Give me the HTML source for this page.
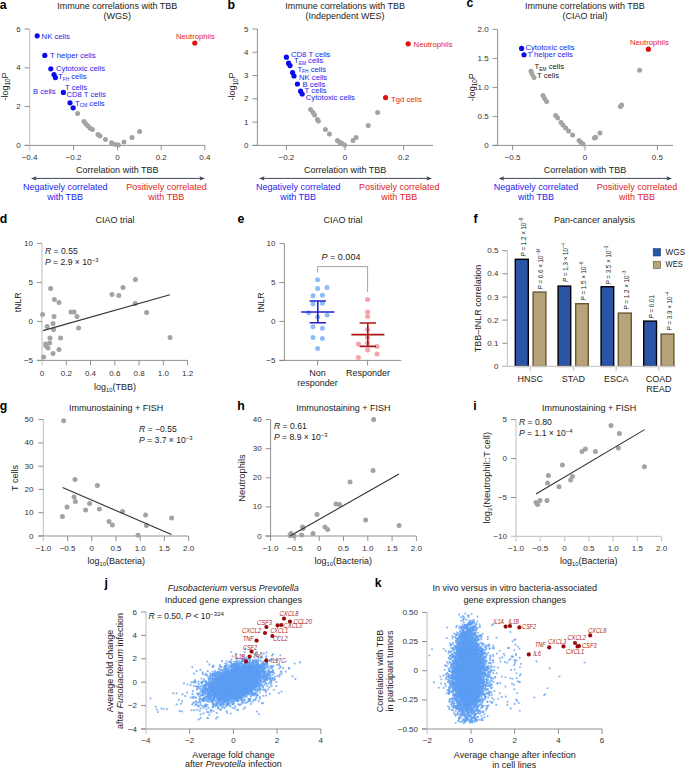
<!DOCTYPE html>
<html><head><meta charset="utf-8"><style>
html,body{margin:0;padding:0;background:#fff;width:685px;height:768px;overflow:hidden}
svg{display:block}
text{font-family:"Liberation Sans",sans-serif}
</style></head><body>
<svg width="685" height="768" viewBox="0 0 685 768">
<rect width="685" height="768" fill="#fff"/>
<text x="-0.3" y="9.3" font-size="12.3" font-weight="bold" fill="#000">a</text>
<text x="117.3" y="9.0" font-size="9" text-anchor="middle" fill="#222" >Immune correlations with TBB</text>
<text x="117.3" y="19.0" font-size="9" text-anchor="middle" fill="#222" >(WGS)</text>
<line x1="29.6" y1="29.0" x2="29.6" y2="145.4" stroke="#cbcbcb" stroke-width="1.25"/>
<line x1="24.6" y1="29.0" x2="29.6" y2="29.0" stroke="#858585" stroke-width="0.9"/>
<text x="20.6" y="31.5" font-size="8" text-anchor="end" fill="#333" >6</text>
<line x1="24.6" y1="67.8" x2="29.6" y2="67.8" stroke="#858585" stroke-width="0.9"/>
<text x="20.6" y="70.3" font-size="8" text-anchor="end" fill="#333" >4</text>
<line x1="24.6" y1="106.6" x2="29.6" y2="106.6" stroke="#858585" stroke-width="0.9"/>
<text x="20.6" y="109.1" font-size="8" text-anchor="end" fill="#333" >2</text>
<line x1="24.6" y1="145.4" x2="29.6" y2="145.4" stroke="#858585" stroke-width="0.9"/>
<text x="20.6" y="147.9" font-size="8" text-anchor="end" fill="#333" >0</text>
<line x1="24.6" y1="145.4" x2="205.0" y2="145.4" stroke="#858585" stroke-width="0.9"/>
<line x1="29.6" y1="145.4" x2="29.6" y2="150.4" stroke="#cbcbcb" stroke-width="1.25"/>
<text x="29.6" y="160.0" font-size="8" text-anchor="middle" fill="#333" >−0.4</text>
<line x1="73.6" y1="145.4" x2="73.6" y2="150.4" stroke="#858585" stroke-width="0.9"/>
<text x="73.6" y="160.0" font-size="8" text-anchor="middle" fill="#333" >−0.2</text>
<line x1="117.6" y1="145.4" x2="117.6" y2="150.4" stroke="#858585" stroke-width="0.9"/>
<text x="117.6" y="160.0" font-size="8" text-anchor="middle" fill="#333" >0</text>
<line x1="161.2" y1="145.4" x2="161.2" y2="150.4" stroke="#858585" stroke-width="0.9"/>
<text x="161.2" y="160.0" font-size="8" text-anchor="middle" fill="#333" >0.2</text>
<line x1="204.8" y1="145.4" x2="204.8" y2="150.4" stroke="#858585" stroke-width="0.9"/>
<text x="204.8" y="160.0" font-size="8" text-anchor="middle" fill="#333" >0.4</text>
<text transform="translate(7.8,86.5) rotate(-90)" font-size="9" text-anchor="middle" fill="#222">-log<tspan dy="2.2" font-size="6.3">10</tspan><tspan dy="-2.2">P</tspan></text>
<text x="117.3" y="173.0" font-size="9" text-anchor="middle" fill="#222" >Correlation with TBB</text>
<line x1="35" y1="178.4" x2="201" y2="178.4" stroke="#3b4658" stroke-width="1"/>
<path d="M31,178.4 L36.5,176.20000000000002 L35.5,178.4 L36.5,180.6Z" fill="#3b4658"/>
<path d="M205,178.4 L199.5,176.20000000000002 L200.5,178.4 L199.5,180.6Z" fill="#3b4658"/>
<text x="65.2" y="190.0" font-size="9" text-anchor="middle" fill="#1c1cec" >Negatively correlated</text>
<text x="65.2" y="200.0" font-size="9" text-anchor="middle" fill="#1c1cec" >with TBB</text>
<text x="166.6" y="190.0" font-size="9" text-anchor="middle" fill="#e02525" >Positively correlated</text>
<text x="166.3" y="200.0" font-size="9" text-anchor="middle" fill="#e02525" >with TBB</text>
<circle cx="77.6" cy="113.6" r="2.5" fill="#a3a3a3"/>
<circle cx="84.0" cy="121.4" r="2.5" fill="#a3a3a3"/>
<circle cx="86.0" cy="124.0" r="2.5" fill="#a3a3a3"/>
<circle cx="88.0" cy="126.0" r="2.5" fill="#a3a3a3"/>
<circle cx="90.0" cy="128.0" r="2.5" fill="#a3a3a3"/>
<circle cx="92.4" cy="129.6" r="2.5" fill="#a3a3a3"/>
<circle cx="98.0" cy="134.4" r="2.5" fill="#a3a3a3"/>
<circle cx="100.0" cy="136.0" r="2.5" fill="#a3a3a3"/>
<circle cx="105.4" cy="139.6" r="2.5" fill="#a3a3a3"/>
<circle cx="111.6" cy="142.8" r="2.5" fill="#a3a3a3"/>
<circle cx="115.6" cy="144.4" r="2.5" fill="#a3a3a3"/>
<circle cx="118.4" cy="145.0" r="2.5" fill="#a3a3a3"/>
<circle cx="124.0" cy="142.0" r="2.5" fill="#a3a3a3"/>
<circle cx="132.0" cy="137.6" r="2.5" fill="#a3a3a3"/>
<circle cx="139.6" cy="131.4" r="2.5" fill="#a3a3a3"/>
<circle cx="37.2" cy="35.8" r="2.6" fill="#0a0aee"/>
<circle cx="44.8" cy="55.4" r="2.6" fill="#0a0aee"/>
<circle cx="50.8" cy="68.8" r="2.6" fill="#0a0aee"/>
<circle cx="54.0" cy="74.6" r="2.6" fill="#0a0aee"/>
<circle cx="55.4" cy="77.6" r="2.6" fill="#0a0aee"/>
<circle cx="63.4" cy="92.4" r="2.6" fill="#0a0aee"/>
<circle cx="70.0" cy="102.8" r="2.6" fill="#0a0aee"/>
<circle cx="73.2" cy="107.8" r="2.6" fill="#0a0aee"/>
<circle cx="194.8" cy="43.0" r="2.6" fill="#e01010"/>
<text x="41.6" y="38.6" font-size="7.7" text-anchor="start" fill="#1c1cec" >NK cells</text>
<text x="50.0" y="58.2" font-size="7.7" text-anchor="start" fill="#1c1cec" >T helper cells</text>
<text x="56.0" y="71.2" font-size="7.7" text-anchor="start" fill="#1c1cec" >Cytotoxic cells</text>
<text x="58" y="79" font-size="7.7" fill="#1c1cec">T<tspan dy="1.8" font-size="4.8">FH</tspan><tspan dy="-1.8"> cells</tspan></text>
<text x="65.0" y="90.2" font-size="7.7" text-anchor="start" fill="#1c1cec" >T cells</text>
<text x="66.4" y="97.2" font-size="7.7" text-anchor="start" fill="#1c1cec" >CD8 T cells</text>
<text x="33.0" y="94.4" font-size="7.7" text-anchor="start" fill="#1c1cec" >B cells</text>
<text x="75" y="105.6" font-size="7.7" fill="#1c1cec">T<tspan dy="1.8" font-size="4.8">CM</tspan><tspan dy="-1.8"> cells</tspan></text>
<text x="176.0" y="38.8" font-size="7.7" text-anchor="start" fill="#e02525" >Neutrophils</text>
<text x="227.6" y="9.4" font-size="12.3" font-weight="bold" fill="#000">b</text>
<text x="345.1" y="9.0" font-size="9" text-anchor="middle" fill="#222" >Immune correlations with TBB</text>
<text x="345.1" y="19.0" font-size="9" text-anchor="middle" fill="#222" >(Independent WES)</text>
<line x1="257.4" y1="29.0" x2="257.4" y2="145.4" stroke="#858585" stroke-width="0.9"/>
<line x1="252.4" y1="29.0" x2="257.4" y2="29.0" stroke="#858585" stroke-width="0.9"/>
<text x="248.4" y="31.5" font-size="8" text-anchor="end" fill="#333" >5</text>
<line x1="252.4" y1="52.3" x2="257.4" y2="52.3" stroke="#858585" stroke-width="0.9"/>
<text x="248.4" y="54.8" font-size="8" text-anchor="end" fill="#333" >4</text>
<line x1="252.4" y1="75.6" x2="257.4" y2="75.6" stroke="#858585" stroke-width="0.9"/>
<text x="248.4" y="78.1" font-size="8" text-anchor="end" fill="#333" >3</text>
<line x1="252.4" y1="98.8" x2="257.4" y2="98.8" stroke="#858585" stroke-width="0.9"/>
<text x="248.4" y="101.3" font-size="8" text-anchor="end" fill="#333" >2</text>
<line x1="252.4" y1="122.1" x2="257.4" y2="122.1" stroke="#858585" stroke-width="0.9"/>
<text x="248.4" y="124.6" font-size="8" text-anchor="end" fill="#333" >1</text>
<line x1="252.4" y1="145.4" x2="257.4" y2="145.4" stroke="#858585" stroke-width="0.9"/>
<text x="248.4" y="147.9" font-size="8" text-anchor="end" fill="#333" >0</text>
<line x1="252.4" y1="145.4" x2="433.0" y2="145.4" stroke="#858585" stroke-width="0.9"/>
<line x1="286.4" y1="145.4" x2="286.4" y2="150.4" stroke="#858585" stroke-width="0.9"/>
<text x="286.4" y="160.0" font-size="8" text-anchor="middle" fill="#333" >−0.2</text>
<line x1="345.0" y1="145.4" x2="345.0" y2="150.4" stroke="#858585" stroke-width="0.9"/>
<text x="345.0" y="160.0" font-size="8" text-anchor="middle" fill="#333" >0</text>
<line x1="403.6" y1="145.4" x2="403.6" y2="150.4" stroke="#858585" stroke-width="0.9"/>
<text x="403.6" y="160.0" font-size="8" text-anchor="middle" fill="#333" >0.2</text>
<text transform="translate(235.4,86.5) rotate(-90)" font-size="9" text-anchor="middle" fill="#222">-log<tspan dy="2.2" font-size="6.3">10</tspan><tspan dy="-2.2">P</tspan></text>
<text x="345.1" y="173.0" font-size="9" text-anchor="middle" fill="#222" >Correlation with TBB</text>
<line x1="263" y1="178.4" x2="428" y2="178.4" stroke="#3b4658" stroke-width="1"/>
<path d="M259,178.4 L264.5,176.20000000000002 L263.5,178.4 L264.5,180.6Z" fill="#3b4658"/>
<path d="M432,178.4 L426.5,176.20000000000002 L427.5,178.4 L426.5,180.6Z" fill="#3b4658"/>
<text x="298.2" y="190.0" font-size="9" text-anchor="middle" fill="#1c1cec" >Negatively correlated</text>
<text x="298.2" y="200.0" font-size="9" text-anchor="middle" fill="#1c1cec" >with TBB</text>
<text x="399.3" y="190.0" font-size="9" text-anchor="middle" fill="#e02525" >Positively correlated</text>
<text x="399.3" y="200.0" font-size="9" text-anchor="middle" fill="#e02525" >with TBB</text>
<circle cx="310.6" cy="109.4" r="2.5" fill="#a3a3a3"/>
<circle cx="313.0" cy="112.4" r="2.5" fill="#a3a3a3"/>
<circle cx="314.6" cy="115.0" r="2.5" fill="#a3a3a3"/>
<circle cx="317.4" cy="119.6" r="2.5" fill="#a3a3a3"/>
<circle cx="318.4" cy="121.0" r="2.5" fill="#a3a3a3"/>
<circle cx="325.4" cy="129.4" r="2.5" fill="#a3a3a3"/>
<circle cx="329.4" cy="134.0" r="2.5" fill="#a3a3a3"/>
<circle cx="337.4" cy="140.6" r="2.5" fill="#a3a3a3"/>
<circle cx="339.4" cy="142.0" r="2.5" fill="#a3a3a3"/>
<circle cx="342.0" cy="143.6" r="2.5" fill="#a3a3a3"/>
<circle cx="344.6" cy="145.0" r="2.5" fill="#a3a3a3"/>
<circle cx="353.0" cy="140.4" r="2.5" fill="#a3a3a3"/>
<circle cx="356.2" cy="137.6" r="2.5" fill="#a3a3a3"/>
<circle cx="377.6" cy="112.4" r="2.5" fill="#a3a3a3"/>
<circle cx="368.2" cy="125.4" r="2.5" fill="#a3a3a3"/>
<circle cx="340.5" cy="142.8" r="2.5" fill="#a3a3a3"/>
<circle cx="286.4" cy="57.2" r="2.6" fill="#0a0aee"/>
<circle cx="288.6" cy="63.2" r="2.6" fill="#0a0aee"/>
<circle cx="290.0" cy="65.6" r="2.6" fill="#0a0aee"/>
<circle cx="292.6" cy="72.6" r="2.6" fill="#0a0aee"/>
<circle cx="294.0" cy="76.0" r="2.6" fill="#0a0aee"/>
<circle cx="297.4" cy="84.0" r="2.6" fill="#0a0aee"/>
<circle cx="300.6" cy="91.2" r="2.6" fill="#0a0aee"/>
<circle cx="302.2" cy="94.0" r="2.6" fill="#0a0aee"/>
<circle cx="408.2" cy="43.8" r="2.6" fill="#e01010"/>
<circle cx="385.6" cy="97.6" r="2.6" fill="#e01010"/>
<text x="291.0" y="57.0" font-size="7.7" text-anchor="start" fill="#1c1cec" >CD8 T cells</text>
<text x="294" y="63" font-size="7.7" fill="#1c1cec">T<tspan dy="1.8" font-size="4.8">EM</tspan><tspan dy="-1.8"> cells</tspan></text>
<text x="297.4" y="71.6" font-size="7.7" fill="#1c1cec">T<tspan dy="1.8" font-size="4.8">FH</tspan><tspan dy="-1.8"> cells</tspan></text>
<text x="299.0" y="80.0" font-size="7.7" text-anchor="start" fill="#1c1cec" >NK cells</text>
<text x="302.6" y="86.6" font-size="7.7" text-anchor="start" fill="#1c1cec" >B cells</text>
<text x="304.6" y="93.0" font-size="7.7" text-anchor="start" fill="#1c1cec" >T cells</text>
<text x="305.8" y="99.6" font-size="7.7" text-anchor="start" fill="#1c1cec" >Cytotoxic cells</text>
<text x="413.6" y="46.6" font-size="7.7" text-anchor="start" fill="#e02525" >Neutrophils</text>
<text x="391.0" y="101.8" font-size="7.7" text-anchor="start" fill="#e02525" >Tgd cells</text>
<text x="466.6" y="6.9" font-size="12.3" font-weight="bold" fill="#000">c</text>
<text x="584.9" y="9.0" font-size="9" text-anchor="middle" fill="#222" >Immune correlations with TBB</text>
<text x="584.9" y="19.0" font-size="9" text-anchor="middle" fill="#222" >(CIAO trial)</text>
<line x1="497.6" y1="29.4" x2="497.6" y2="145.4" stroke="#858585" stroke-width="0.9"/>
<line x1="492.6" y1="29.4" x2="497.6" y2="29.4" stroke="#858585" stroke-width="0.9"/>
<text x="488.6" y="31.9" font-size="8" text-anchor="end" fill="#333" >2.0</text>
<line x1="492.6" y1="58.4" x2="497.6" y2="58.4" stroke="#858585" stroke-width="0.9"/>
<text x="488.6" y="60.9" font-size="8" text-anchor="end" fill="#333" >1.5</text>
<line x1="492.6" y1="87.4" x2="497.6" y2="87.4" stroke="#858585" stroke-width="0.9"/>
<text x="488.6" y="89.9" font-size="8" text-anchor="end" fill="#333" >1.0</text>
<line x1="492.6" y1="116.4" x2="497.6" y2="116.4" stroke="#858585" stroke-width="0.9"/>
<text x="488.6" y="118.9" font-size="8" text-anchor="end" fill="#333" >0.5</text>
<line x1="492.6" y1="145.4" x2="497.6" y2="145.4" stroke="#858585" stroke-width="0.9"/>
<text x="488.6" y="147.9" font-size="8" text-anchor="end" fill="#333" >0</text>
<line x1="492.6" y1="145.4" x2="673.0" y2="145.4" stroke="#858585" stroke-width="0.9"/>
<line x1="512.6" y1="145.4" x2="512.6" y2="150.4" stroke="#858585" stroke-width="0.9"/>
<text x="512.6" y="160.0" font-size="8" text-anchor="middle" fill="#333" >−0.5</text>
<line x1="585.0" y1="145.4" x2="585.0" y2="150.4" stroke="#858585" stroke-width="0.9"/>
<text x="585.0" y="160.0" font-size="8" text-anchor="middle" fill="#333" >0</text>
<line x1="657.4" y1="145.4" x2="657.4" y2="150.4" stroke="#858585" stroke-width="0.9"/>
<text x="657.4" y="160.0" font-size="8" text-anchor="middle" fill="#333" >0.5</text>
<text transform="translate(474.6,87.3) rotate(-90)" font-size="9" text-anchor="middle" fill="#222">-log<tspan dy="2.2" font-size="6.3">10</tspan><tspan dy="-2.2">P</tspan></text>
<text x="585.0" y="173.0" font-size="9" text-anchor="middle" fill="#222" >Correlation with TBB</text>
<line x1="502.6" y1="178.4" x2="668" y2="178.4" stroke="#3b4658" stroke-width="1"/>
<path d="M498.6,178.4 L504.1,176.20000000000002 L503.1,178.4 L504.1,180.6Z" fill="#3b4658"/>
<path d="M672,178.4 L666.5,176.20000000000002 L667.5,178.4 L666.5,180.6Z" fill="#3b4658"/>
<text x="536.0" y="190.0" font-size="9" text-anchor="middle" fill="#1c1cec" >Negatively correlated</text>
<text x="536.0" y="200.0" font-size="9" text-anchor="middle" fill="#1c1cec" >with TBB</text>
<text x="637.0" y="190.0" font-size="9" text-anchor="middle" fill="#e02525" >Positively correlated</text>
<text x="637.0" y="200.0" font-size="9" text-anchor="middle" fill="#e02525" >with TBB</text>
<circle cx="531.0" cy="71.2" r="2.5" fill="#a3a3a3"/>
<circle cx="532.0" cy="74.0" r="2.5" fill="#a3a3a3"/>
<circle cx="534.0" cy="77.6" r="2.5" fill="#a3a3a3"/>
<circle cx="543.0" cy="95.6" r="2.5" fill="#a3a3a3"/>
<circle cx="544.6" cy="98.4" r="2.5" fill="#a3a3a3"/>
<circle cx="546.6" cy="101.6" r="2.5" fill="#a3a3a3"/>
<circle cx="555.6" cy="115.4" r="2.5" fill="#a3a3a3"/>
<circle cx="557.6" cy="118.0" r="2.5" fill="#a3a3a3"/>
<circle cx="561.0" cy="122.4" r="2.5" fill="#a3a3a3"/>
<circle cx="563.0" cy="125.0" r="2.5" fill="#a3a3a3"/>
<circle cx="565.6" cy="128.0" r="2.5" fill="#a3a3a3"/>
<circle cx="568.6" cy="131.0" r="2.5" fill="#a3a3a3"/>
<circle cx="572.6" cy="135.0" r="2.5" fill="#a3a3a3"/>
<circle cx="579.0" cy="140.6" r="2.5" fill="#a3a3a3"/>
<circle cx="581.0" cy="142.4" r="2.5" fill="#a3a3a3"/>
<circle cx="583.0" cy="144.0" r="2.5" fill="#a3a3a3"/>
<circle cx="639.6" cy="70.2" r="2.5" fill="#a3a3a3"/>
<circle cx="620.4" cy="106.4" r="2.5" fill="#a3a3a3"/>
<circle cx="621.6" cy="105.0" r="2.5" fill="#a3a3a3"/>
<circle cx="600.0" cy="133.0" r="2.5" fill="#a3a3a3"/>
<circle cx="595.6" cy="137.2" r="2.5" fill="#a3a3a3"/>
<circle cx="594.4" cy="138.0" r="2.5" fill="#a3a3a3"/>
<circle cx="521.6" cy="48.4" r="2.6" fill="#0a0aee"/>
<circle cx="524.0" cy="54.8" r="2.6" fill="#0a0aee"/>
<circle cx="648.4" cy="49.2" r="2.6" fill="#e01010"/>
<text x="525.4" y="50.2" font-size="7.7" text-anchor="start" fill="#1c1cec" >Cytotoxic cells</text>
<text x="527.4" y="57.2" font-size="7.7" text-anchor="start" fill="#1c1cec" >T helper cells</text>
<text x="534.6" y="69" font-size="7.7" fill="#222">T<tspan dy="1.8" font-size="4.8">EM</tspan><tspan dy="-1.8"> cells</tspan></text>
<text x="537.0" y="77.6" font-size="7.7" text-anchor="start" fill="#222" >T cells</text>
<text x="630.0" y="45.0" font-size="7.7" text-anchor="start" fill="#e02525" >Neutrophils</text>
<text x="-0.3" y="222.5" font-size="12.3" font-weight="bold" fill="#000">d</text>
<text x="115.0" y="223.4" font-size="9" text-anchor="middle" fill="#222" >CIAO trial</text>
<line x1="42.0" y1="243.4" x2="42.0" y2="360.4" stroke="#cbcbcb" stroke-width="1.25"/>
<line x1="37.0" y1="243.4" x2="42.0" y2="243.4" stroke="#858585" stroke-width="0.9"/>
<text x="33.0" y="245.9" font-size="8" text-anchor="end" fill="#333" >10</text>
<line x1="37.0" y1="282.4" x2="42.0" y2="282.4" stroke="#858585" stroke-width="0.9"/>
<text x="33.0" y="284.9" font-size="8" text-anchor="end" fill="#333" >5</text>
<line x1="37.0" y1="321.4" x2="42.0" y2="321.4" stroke="#858585" stroke-width="0.9"/>
<text x="33.0" y="323.9" font-size="8" text-anchor="end" fill="#333" >0</text>
<line x1="37.0" y1="360.4" x2="42.0" y2="360.4" stroke="#858585" stroke-width="0.9"/>
<text x="33.0" y="362.9" font-size="8" text-anchor="end" fill="#333" >−5</text>
<line x1="37.0" y1="360.4" x2="187.6" y2="360.4" stroke="#858585" stroke-width="0.9"/>
<line x1="42.0" y1="360.4" x2="42.0" y2="365.4" stroke="#cbcbcb" stroke-width="1.25"/>
<text x="42.0" y="375.6" font-size="8" text-anchor="middle" fill="#333" >0</text>
<line x1="66.3" y1="360.4" x2="66.3" y2="365.4" stroke="#858585" stroke-width="0.9"/>
<text x="66.3" y="375.6" font-size="8" text-anchor="middle" fill="#333" >0.2</text>
<line x1="90.5" y1="360.4" x2="90.5" y2="365.4" stroke="#858585" stroke-width="0.9"/>
<text x="90.5" y="375.6" font-size="8" text-anchor="middle" fill="#333" >0.4</text>
<line x1="114.8" y1="360.4" x2="114.8" y2="365.4" stroke="#858585" stroke-width="0.9"/>
<text x="114.8" y="375.6" font-size="8" text-anchor="middle" fill="#333" >0.6</text>
<line x1="139.1" y1="360.4" x2="139.1" y2="365.4" stroke="#858585" stroke-width="0.9"/>
<text x="139.1" y="375.6" font-size="8" text-anchor="middle" fill="#333" >0.8</text>
<line x1="163.3" y1="360.4" x2="163.3" y2="365.4" stroke="#858585" stroke-width="0.9"/>
<text x="163.3" y="375.6" font-size="8" text-anchor="middle" fill="#333" >1.0</text>
<line x1="187.6" y1="360.4" x2="187.6" y2="365.4" stroke="#858585" stroke-width="0.9"/>
<text x="187.6" y="375.6" font-size="8" text-anchor="middle" fill="#333" >1.2</text>
<text transform="translate(21.1,302.3) rotate(-90)" font-size="8.7" text-anchor="middle" fill="#222">tNLR</text>
<text x="115" y="390" font-size="9" text-anchor="middle" fill="#222">log<tspan dy="2" font-size="5.8">10</tspan><tspan dy="-2">(TBB)</tspan></text>
<text x="45" y="253.6" font-size="8.6" fill="#222"><tspan font-style="italic">R</tspan> = 0.55</text>
<text x="45" y="264.6" font-size="8.6" fill="#222"><tspan font-style="italic">P</tspan> = 2.9 × 10<tspan dy="-3" font-size="5.8">−3</tspan></text>
<circle cx="42.6" cy="314.4" r="2.5" fill="#a3a3a3"/>
<circle cx="50.6" cy="288.4" r="2.5" fill="#a3a3a3"/>
<circle cx="54.4" cy="299.6" r="2.5" fill="#a3a3a3"/>
<circle cx="59.0" cy="302.4" r="2.5" fill="#a3a3a3"/>
<circle cx="54.0" cy="316.6" r="2.5" fill="#a3a3a3"/>
<circle cx="47.2" cy="326.4" r="2.5" fill="#a3a3a3"/>
<circle cx="53.0" cy="323.4" r="2.5" fill="#a3a3a3"/>
<circle cx="53.6" cy="329.6" r="2.5" fill="#a3a3a3"/>
<circle cx="50.0" cy="338.0" r="2.5" fill="#a3a3a3"/>
<circle cx="60.6" cy="338.0" r="2.5" fill="#a3a3a3"/>
<circle cx="49.6" cy="343.0" r="2.5" fill="#a3a3a3"/>
<circle cx="45.6" cy="344.0" r="2.5" fill="#a3a3a3"/>
<circle cx="48.0" cy="348.0" r="2.5" fill="#a3a3a3"/>
<circle cx="46.0" cy="346.0" r="2.5" fill="#a3a3a3"/>
<circle cx="53.0" cy="353.6" r="2.5" fill="#a3a3a3"/>
<circle cx="59.0" cy="349.6" r="2.5" fill="#a3a3a3"/>
<circle cx="43.6" cy="357.0" r="2.5" fill="#a3a3a3"/>
<circle cx="71.0" cy="312.0" r="2.5" fill="#a3a3a3"/>
<circle cx="74.0" cy="312.0" r="2.5" fill="#a3a3a3"/>
<circle cx="77.0" cy="316.4" r="2.5" fill="#a3a3a3"/>
<circle cx="78.6" cy="328.0" r="2.5" fill="#a3a3a3"/>
<circle cx="112.0" cy="294.4" r="2.5" fill="#a3a3a3"/>
<circle cx="118.8" cy="295.4" r="2.5" fill="#a3a3a3"/>
<circle cx="123.0" cy="287.4" r="2.5" fill="#a3a3a3"/>
<circle cx="135.4" cy="279.6" r="2.5" fill="#a3a3a3"/>
<circle cx="135.2" cy="303.6" r="2.5" fill="#a3a3a3"/>
<circle cx="146.6" cy="312.6" r="2.5" fill="#a3a3a3"/>
<circle cx="170.0" cy="337.4" r="2.5" fill="#a3a3a3"/>
<line x1="43.0" y1="330.6" x2="170.0" y2="294.8" stroke="#333" stroke-width="1.1"/>
<text x="237.6" y="222.5" font-size="12.3" font-weight="bold" fill="#000">e</text>
<text x="343.1" y="223.4" font-size="9" text-anchor="middle" fill="#222" >CIAO trial</text>
<line x1="284.4" y1="243.6" x2="284.4" y2="360.4" stroke="#858585" stroke-width="0.9"/>
<line x1="279.4" y1="243.6" x2="284.4" y2="243.6" stroke="#858585" stroke-width="0.9"/>
<text x="275.4" y="246.1" font-size="8" text-anchor="end" fill="#333" >10</text>
<line x1="279.4" y1="282.6" x2="284.4" y2="282.6" stroke="#858585" stroke-width="0.9"/>
<text x="275.4" y="285.1" font-size="8" text-anchor="end" fill="#333" >5</text>
<line x1="279.4" y1="321.4" x2="284.4" y2="321.4" stroke="#858585" stroke-width="0.9"/>
<text x="275.4" y="323.9" font-size="8" text-anchor="end" fill="#333" >0</text>
<line x1="279.4" y1="360.4" x2="284.4" y2="360.4" stroke="#858585" stroke-width="0.9"/>
<text x="275.4" y="362.9" font-size="8" text-anchor="end" fill="#333" >−5</text>
<line x1="279.4" y1="360.4" x2="401.4" y2="360.4" stroke="#858585" stroke-width="0.9"/>
<line x1="317.6" y1="360.4" x2="317.6" y2="365.4" stroke="#858585" stroke-width="0.9"/>
<line x1="367.6" y1="360.4" x2="367.6" y2="365.4" stroke="#858585" stroke-width="0.9"/>
<text transform="translate(264.0,302.3) rotate(-90)" font-size="8.7" text-anchor="middle" fill="#222">tNLR</text>
<path d="M317.6,272.4 V266.6 H367.6 V292" fill="none" stroke="#8a8a8a" stroke-width="0.8"/>
<text x="341" y="260" font-size="9" text-anchor="middle" fill="#222"><tspan font-style="italic">P</tspan> = 0.004</text>
<text x="317.6" y="376.0" font-size="9" text-anchor="middle" fill="#222" >Non</text>
<text x="317.6" y="385.8" font-size="9" text-anchor="middle" fill="#222" >responder</text>
<text x="368.0" y="376.0" font-size="9" text-anchor="middle" fill="#222" >Responder</text>
<circle cx="317.6" cy="279.8" r="2.5" fill="#8cbdf7"/>
<circle cx="317.6" cy="288.4" r="2.5" fill="#8cbdf7"/>
<circle cx="327.0" cy="287.6" r="2.5" fill="#8cbdf7"/>
<circle cx="313.0" cy="295.7" r="2.5" fill="#8cbdf7"/>
<circle cx="322.4" cy="295.3" r="2.5" fill="#8cbdf7"/>
<circle cx="313.0" cy="304.0" r="2.5" fill="#8cbdf7"/>
<circle cx="322.4" cy="303.2" r="2.5" fill="#8cbdf7"/>
<circle cx="308.6" cy="312.8" r="2.5" fill="#8cbdf7"/>
<circle cx="317.6" cy="316.9" r="2.5" fill="#8cbdf7"/>
<circle cx="327.1" cy="314.9" r="2.5" fill="#8cbdf7"/>
<circle cx="313.0" cy="326.8" r="2.5" fill="#8cbdf7"/>
<circle cx="322.4" cy="328.3" r="2.5" fill="#8cbdf7"/>
<circle cx="313.0" cy="337.6" r="2.5" fill="#8cbdf7"/>
<circle cx="322.4" cy="338.6" r="2.5" fill="#8cbdf7"/>
<circle cx="317.6" cy="348.6" r="2.5" fill="#8cbdf7"/>
<circle cx="367.6" cy="299.6" r="2.5" fill="#f5a3a8"/>
<circle cx="367.6" cy="312.0" r="2.5" fill="#f5a3a8"/>
<circle cx="367.6" cy="316.6" r="2.5" fill="#f5a3a8"/>
<circle cx="367.6" cy="329.6" r="2.5" fill="#f5a3a8"/>
<circle cx="367.6" cy="337.4" r="2.5" fill="#f5a3a8"/>
<circle cx="367.6" cy="343.0" r="2.5" fill="#f5a3a8"/>
<circle cx="358.4" cy="344.0" r="2.5" fill="#f5a3a8"/>
<circle cx="377.0" cy="346.6" r="2.5" fill="#f5a3a8"/>
<circle cx="367.6" cy="350.0" r="2.5" fill="#f5a3a8"/>
<circle cx="377.0" cy="354.0" r="2.5" fill="#f5a3a8"/>
<circle cx="358.4" cy="357.4" r="2.5" fill="#f5a3a8"/>
<path d="M301.2,312 H334.5 M309.6,301 H326 M309.6,322.7 H326 M317.8,301 V322.7" stroke="#2323c8" stroke-width="1.6" fill="none"/>
<path d="M351.4,334.6 H384.4 M359.6,323 H376 M359.6,346.4 H376 M367.8,323 V346.4" stroke="#b01515" stroke-width="1.6" fill="none"/>
<text x="473.6" y="222.5" font-size="12.3" font-weight="bold" fill="#000">f</text>
<text x="594.5" y="223.4" font-size="9" text-anchor="middle" fill="#222" >Pan-cancer analysis</text>
<line x1="507.4" y1="250.7" x2="507.4" y2="366.4" stroke="#cbcbcb" stroke-width="1.25"/>
<line x1="502.4" y1="250.7" x2="507.4" y2="250.7" stroke="#858585" stroke-width="0.9"/>
<text x="498.4" y="253.2" font-size="8" text-anchor="end" fill="#333" >0.5</text>
<line x1="502.4" y1="273.8" x2="507.4" y2="273.8" stroke="#858585" stroke-width="0.9"/>
<text x="498.4" y="276.3" font-size="8" text-anchor="end" fill="#333" >0.4</text>
<line x1="502.4" y1="297.0" x2="507.4" y2="297.0" stroke="#858585" stroke-width="0.9"/>
<text x="498.4" y="299.5" font-size="8" text-anchor="end" fill="#333" >0.3</text>
<line x1="502.4" y1="320.1" x2="507.4" y2="320.1" stroke="#858585" stroke-width="0.9"/>
<text x="498.4" y="322.6" font-size="8" text-anchor="end" fill="#333" >0.2</text>
<line x1="502.4" y1="343.3" x2="507.4" y2="343.3" stroke="#858585" stroke-width="0.9"/>
<text x="498.4" y="345.7" font-size="8" text-anchor="end" fill="#333" >0.1</text>
<line x1="502.4" y1="366.4" x2="507.4" y2="366.4" stroke="#858585" stroke-width="0.9"/>
<text x="498.4" y="368.9" font-size="8" text-anchor="end" fill="#333" >0</text>
<text transform="translate(481.0,308.5) rotate(-90)" font-size="9" text-anchor="middle" fill="#222">TBB–tNLR correlation</text>
<rect x="515.3" y="259.3" width="13.0" height="107.1" fill="#2c54a6" stroke="#000" stroke-width="1.4"/>
<rect x="533.1" y="292.1" width="12.8" height="74.3" fill="#b7a47b" stroke="#6a5736" stroke-width="1.4"/>
<rect x="558.1" y="286.1" width="12.6" height="80.3" fill="#2c54a6" stroke="#000" stroke-width="1.4"/>
<rect x="575.7" y="303.7" width="12.6" height="62.7" fill="#b7a47b" stroke="#6a5736" stroke-width="1.4"/>
<rect x="601.1" y="286.7" width="12.6" height="79.7" fill="#2c54a6" stroke="#000" stroke-width="1.4"/>
<rect x="618.3" y="313.1" width="13.0" height="53.3" fill="#b7a47b" stroke="#6a5736" stroke-width="1.4"/>
<rect x="643.7" y="321.1" width="12.8" height="45.3" fill="#2c54a6" stroke="#000" stroke-width="1.4"/>
<rect x="661.1" y="334.1" width="12.8" height="32.3" fill="#b7a47b" stroke="#6a5736" stroke-width="1.4"/>
<line x1="502.4" y1="366.4" x2="676.0" y2="366.4" stroke="#cbcbcb" stroke-width="1.25"/>
<line x1="530.3" y1="366.4" x2="530.3" y2="370.9" stroke="#cbcbcb" stroke-width="1.25"/>
<text x="530.3" y="381.5" font-size="9" text-anchor="middle" fill="#222" >HNSC</text>
<line x1="573.4" y1="366.4" x2="573.4" y2="370.9" stroke="#cbcbcb" stroke-width="1.25"/>
<text x="573.4" y="381.5" font-size="9" text-anchor="middle" fill="#222" >STAD</text>
<line x1="616.2" y1="366.4" x2="616.2" y2="370.9" stroke="#cbcbcb" stroke-width="1.25"/>
<text x="616.2" y="381.5" font-size="9" text-anchor="middle" fill="#222" >ESCA</text>
<line x1="658.7" y1="366.4" x2="658.7" y2="370.9" stroke="#cbcbcb" stroke-width="1.25"/>
<text x="658.7" y="381.5" font-size="9" text-anchor="middle" fill="#222" >COAD</text>
<text x="658.7" y="392.0" font-size="9" text-anchor="middle" fill="#222" >READ</text>
<text transform="translate(525.6,256.5) rotate(-90) scale(0.77,1)" font-size="8.1" fill="#222"><tspan font-style="italic">P</tspan> = 1.2 × 10<tspan dy="-3" font-size="5.6">−8</tspan></text>
<text transform="translate(543.2,289.5) rotate(-90) scale(0.77,1)" font-size="8.1" fill="#222"><tspan font-style="italic">P</tspan> = 6.6 × 10<tspan dy="-3" font-size="5.6">−14</tspan></text>
<text transform="translate(568.2,282.0) rotate(-90) scale(0.77,1)" font-size="8.1" fill="#222"><tspan font-style="italic">P</tspan> = 1.3 × 10<tspan dy="-3" font-size="5.6">−4</tspan></text>
<text transform="translate(585.8,300.5) rotate(-90) scale(0.77,1)" font-size="8.1" fill="#222"><tspan font-style="italic">P</tspan> = 1.5 × 10<tspan dy="-3" font-size="5.6">−6</tspan></text>
<text transform="translate(611.0,284.6) rotate(-90) scale(0.77,1)" font-size="8.1" fill="#222"><tspan font-style="italic">P</tspan> = 3.5 × 10<tspan dy="-3" font-size="5.6">−3</tspan></text>
<text transform="translate(628.8,309.5) rotate(-90) scale(0.77,1)" font-size="8.1" fill="#222"><tspan font-style="italic">P</tspan> = 1.2 × 10<tspan dy="-3" font-size="5.6">−3</tspan></text>
<text transform="translate(654.4,318.5) rotate(-90) scale(0.77,1)" font-size="8.1" fill="#222"><tspan font-style="italic">P</tspan> = 0.01</text>
<text transform="translate(671.8,330.5) rotate(-90) scale(0.77,1)" font-size="8.1" fill="#222"><tspan font-style="italic">P</tspan> = 3.9 × 10<tspan dy="-3" font-size="5.6">−4</tspan></text>
<rect x="653.2" y="248.6" width="7.4" height="7.4" fill="#2c54a6" stroke="#1c3c80" stroke-width="0.6"/>
<rect x="653.2" y="261.2" width="7.4" height="7.4" fill="#b7a47b" stroke="#6a5736" stroke-width="0.6"/>
<text x="665.6" y="254.5" font-size="8.3" text-anchor="start" fill="#222" textLength="19.6" lengthAdjust="spacingAndGlyphs">WGS</text>
<text x="665.6" y="266.8" font-size="8.3" text-anchor="start" fill="#222" textLength="17.1" lengthAdjust="spacingAndGlyphs">WES</text>
<text x="-0.3" y="410.3" font-size="12.3" font-weight="bold" fill="#000">g</text>
<text x="116.2" y="411.0" font-size="9" text-anchor="middle" fill="#222" >Immunostaining + FISH</text>
<line x1="43.4" y1="419.6" x2="43.4" y2="536.0" stroke="#cbcbcb" stroke-width="1.25"/>
<line x1="38.4" y1="419.6" x2="43.4" y2="419.6" stroke="#858585" stroke-width="0.9"/>
<text x="33.4" y="422.1" font-size="8" text-anchor="end" fill="#333" >50</text>
<line x1="38.4" y1="442.9" x2="43.4" y2="442.9" stroke="#858585" stroke-width="0.9"/>
<text x="33.4" y="445.4" font-size="8" text-anchor="end" fill="#333" >40</text>
<line x1="38.4" y1="466.2" x2="43.4" y2="466.2" stroke="#858585" stroke-width="0.9"/>
<text x="33.4" y="468.7" font-size="8" text-anchor="end" fill="#333" >30</text>
<line x1="38.4" y1="489.4" x2="43.4" y2="489.4" stroke="#858585" stroke-width="0.9"/>
<text x="33.4" y="491.9" font-size="8" text-anchor="end" fill="#333" >20</text>
<line x1="38.4" y1="512.7" x2="43.4" y2="512.7" stroke="#858585" stroke-width="0.9"/>
<text x="33.4" y="515.2" font-size="8" text-anchor="end" fill="#333" >10</text>
<line x1="38.4" y1="536.0" x2="43.4" y2="536.0" stroke="#858585" stroke-width="0.9"/>
<text x="33.4" y="538.5" font-size="8" text-anchor="end" fill="#333" >0</text>
<line x1="38.4" y1="536.0" x2="188.6" y2="536.0" stroke="#858585" stroke-width="0.9"/>
<line x1="43.4" y1="536.0" x2="43.4" y2="541.0" stroke="#cbcbcb" stroke-width="1.25"/>
<text x="43.4" y="550.5" font-size="8" text-anchor="middle" fill="#333" >−1.0</text>
<line x1="67.6" y1="536.0" x2="67.6" y2="541.0" stroke="#858585" stroke-width="0.9"/>
<text x="67.6" y="550.5" font-size="8" text-anchor="middle" fill="#333" >−0.5</text>
<line x1="91.8" y1="536.0" x2="91.8" y2="541.0" stroke="#858585" stroke-width="0.9"/>
<text x="91.8" y="550.5" font-size="8" text-anchor="middle" fill="#333" >0</text>
<line x1="116.0" y1="536.0" x2="116.0" y2="541.0" stroke="#858585" stroke-width="0.9"/>
<text x="116.0" y="550.5" font-size="8" text-anchor="middle" fill="#333" >0.5</text>
<line x1="140.2" y1="536.0" x2="140.2" y2="541.0" stroke="#858585" stroke-width="0.9"/>
<text x="140.2" y="550.5" font-size="8" text-anchor="middle" fill="#333" >1.0</text>
<line x1="164.4" y1="536.0" x2="164.4" y2="541.0" stroke="#858585" stroke-width="0.9"/>
<text x="164.4" y="550.5" font-size="8" text-anchor="middle" fill="#333" >1.5</text>
<line x1="188.6" y1="536.0" x2="188.6" y2="541.0" stroke="#858585" stroke-width="0.9"/>
<text x="188.6" y="550.5" font-size="8" text-anchor="middle" fill="#333" >2.0</text>
<text transform="translate(17.7,478.0) rotate(-90)" font-size="9" text-anchor="middle" fill="#222">T cells</text>
<text x="116.2" y="564" font-size="9" text-anchor="middle" fill="#222">log<tspan dy="2" font-size="5.8">10</tspan><tspan dy="-2">(Bacteria)</tspan></text>
<text x="139" y="431.6" font-size="8.6" fill="#222"><tspan font-style="italic">R</tspan> = −0.55</text>
<text x="139" y="443" font-size="8.6" fill="#222"><tspan font-style="italic">P</tspan> = 3.7 × 10<tspan dy="-3" font-size="5.8">−3</tspan></text>
<circle cx="63.6" cy="420.8" r="2.5" fill="#a3a3a3"/>
<circle cx="75.0" cy="479.6" r="2.5" fill="#a3a3a3"/>
<circle cx="97.4" cy="485.4" r="2.5" fill="#a3a3a3"/>
<circle cx="74.0" cy="497.0" r="2.5" fill="#a3a3a3"/>
<circle cx="75.4" cy="501.6" r="2.5" fill="#a3a3a3"/>
<circle cx="67.0" cy="507.0" r="2.5" fill="#a3a3a3"/>
<circle cx="89.6" cy="503.4" r="2.5" fill="#a3a3a3"/>
<circle cx="85.6" cy="510.0" r="2.5" fill="#a3a3a3"/>
<circle cx="99.4" cy="509.0" r="2.5" fill="#a3a3a3"/>
<circle cx="62.4" cy="516.6" r="2.5" fill="#a3a3a3"/>
<circle cx="109.0" cy="521.6" r="2.5" fill="#a3a3a3"/>
<circle cx="112.4" cy="525.0" r="2.5" fill="#a3a3a3"/>
<circle cx="122.6" cy="511.4" r="2.5" fill="#a3a3a3"/>
<circle cx="145.6" cy="515.0" r="2.5" fill="#a3a3a3"/>
<circle cx="146.4" cy="525.6" r="2.5" fill="#a3a3a3"/>
<circle cx="171.6" cy="518.0" r="2.5" fill="#a3a3a3"/>
<circle cx="138.0" cy="535.2" r="2.5" fill="#a3a3a3"/>
<line x1="62.6" y1="487.6" x2="171.4" y2="534.4" stroke="#333" stroke-width="1.1"/>
<text x="237.3" y="410.3" font-size="12.3" font-weight="bold" fill="#000">h</text>
<text x="343.4" y="411.0" font-size="9" text-anchor="middle" fill="#222" >Immunostaining + FISH</text>
<line x1="270.6" y1="419.6" x2="270.6" y2="536.0" stroke="#858585" stroke-width="0.9"/>
<line x1="265.6" y1="419.6" x2="270.6" y2="419.6" stroke="#858585" stroke-width="0.9"/>
<text x="261.6" y="422.1" font-size="8" text-anchor="end" fill="#333" >40</text>
<line x1="265.6" y1="448.7" x2="270.6" y2="448.7" stroke="#858585" stroke-width="0.9"/>
<text x="261.6" y="451.2" font-size="8" text-anchor="end" fill="#333" >30</text>
<line x1="265.6" y1="477.8" x2="270.6" y2="477.8" stroke="#858585" stroke-width="0.9"/>
<text x="261.6" y="480.3" font-size="8" text-anchor="end" fill="#333" >20</text>
<line x1="265.6" y1="506.9" x2="270.6" y2="506.9" stroke="#858585" stroke-width="0.9"/>
<text x="261.6" y="509.4" font-size="8" text-anchor="end" fill="#333" >10</text>
<line x1="265.6" y1="536.0" x2="270.6" y2="536.0" stroke="#858585" stroke-width="0.9"/>
<text x="261.6" y="538.5" font-size="8" text-anchor="end" fill="#333" >0</text>
<line x1="265.6" y1="536.0" x2="416.4" y2="536.0" stroke="#858585" stroke-width="0.9"/>
<line x1="270.6" y1="536.0" x2="270.6" y2="541.0" stroke="#858585" stroke-width="0.9"/>
<text x="270.6" y="550.5" font-size="8" text-anchor="middle" fill="#333" >−1.0</text>
<line x1="294.9" y1="536.0" x2="294.9" y2="541.0" stroke="#858585" stroke-width="0.9"/>
<text x="294.9" y="550.5" font-size="8" text-anchor="middle" fill="#333" >−0.5</text>
<line x1="319.2" y1="536.0" x2="319.2" y2="541.0" stroke="#858585" stroke-width="0.9"/>
<text x="319.2" y="550.5" font-size="8" text-anchor="middle" fill="#333" >0</text>
<line x1="343.5" y1="536.0" x2="343.5" y2="541.0" stroke="#858585" stroke-width="0.9"/>
<text x="343.5" y="550.5" font-size="8" text-anchor="middle" fill="#333" >0.5</text>
<line x1="367.8" y1="536.0" x2="367.8" y2="541.0" stroke="#858585" stroke-width="0.9"/>
<text x="367.8" y="550.5" font-size="8" text-anchor="middle" fill="#333" >1.0</text>
<line x1="392.1" y1="536.0" x2="392.1" y2="541.0" stroke="#858585" stroke-width="0.9"/>
<text x="392.1" y="550.5" font-size="8" text-anchor="middle" fill="#333" >1.5</text>
<line x1="416.4" y1="536.0" x2="416.4" y2="541.0" stroke="#858585" stroke-width="0.9"/>
<text x="416.4" y="550.5" font-size="8" text-anchor="middle" fill="#333" >2.0</text>
<text transform="translate(245.0,478.0) rotate(-90)" font-size="9.4" text-anchor="middle" fill="#222">Neutrophils</text>
<text x="343.3" y="564" font-size="9" text-anchor="middle" fill="#222">log<tspan dy="2" font-size="5.8">10</tspan><tspan dy="-2">(Bacteria)</tspan></text>
<text x="274" y="428.6" font-size="8.6" fill="#222"><tspan font-style="italic">R</tspan> = 0.61</text>
<text x="274" y="439.8" font-size="8.6" fill="#222"><tspan font-style="italic">P</tspan> = 8.9 × 10<tspan dy="-3" font-size="5.8">−3</tspan></text>
<circle cx="373.6" cy="419.6" r="2.5" fill="#a3a3a3"/>
<circle cx="373.0" cy="470.6" r="2.5" fill="#a3a3a3"/>
<circle cx="350.0" cy="482.0" r="2.5" fill="#a3a3a3"/>
<circle cx="336.0" cy="504.0" r="2.5" fill="#a3a3a3"/>
<circle cx="339.6" cy="504.6" r="2.5" fill="#a3a3a3"/>
<circle cx="317.0" cy="514.4" r="2.5" fill="#a3a3a3"/>
<circle cx="302.6" cy="527.0" r="2.5" fill="#a3a3a3"/>
<circle cx="303.0" cy="528.6" r="2.5" fill="#a3a3a3"/>
<circle cx="325.0" cy="527.0" r="2.5" fill="#a3a3a3"/>
<circle cx="327.6" cy="529.6" r="2.5" fill="#a3a3a3"/>
<circle cx="313.0" cy="533.6" r="2.5" fill="#a3a3a3"/>
<circle cx="301.6" cy="535.0" r="2.5" fill="#a3a3a3"/>
<circle cx="291.0" cy="533.6" r="2.5" fill="#a3a3a3"/>
<circle cx="290.0" cy="535.6" r="2.5" fill="#a3a3a3"/>
<circle cx="294.0" cy="536.0" r="2.5" fill="#a3a3a3"/>
<circle cx="365.6" cy="520.0" r="2.5" fill="#a3a3a3"/>
<circle cx="399.0" cy="525.6" r="2.5" fill="#a3a3a3"/>
<line x1="290.0" y1="536.0" x2="399.0" y2="474.0" stroke="#333" stroke-width="1.1"/>
<text x="473.2" y="410.3" font-size="12.3" font-weight="bold" fill="#000">i</text>
<text x="589.2" y="411.0" font-size="9" text-anchor="middle" fill="#222" >Immunostaining + FISH</text>
<line x1="516.0" y1="419.6" x2="516.0" y2="536.4" stroke="#cbcbcb" stroke-width="1.25"/>
<line x1="511.0" y1="419.6" x2="516.0" y2="419.6" stroke="#858585" stroke-width="0.9"/>
<text x="507.0" y="422.1" font-size="8" text-anchor="end" fill="#333" >5</text>
<line x1="511.0" y1="458.6" x2="516.0" y2="458.6" stroke="#858585" stroke-width="0.9"/>
<text x="507.0" y="461.1" font-size="8" text-anchor="end" fill="#333" >0</text>
<line x1="511.0" y1="497.5" x2="516.0" y2="497.5" stroke="#858585" stroke-width="0.9"/>
<text x="507.0" y="500.0" font-size="8" text-anchor="end" fill="#333" >−5</text>
<line x1="511.0" y1="536.4" x2="516.0" y2="536.4" stroke="#858585" stroke-width="0.9"/>
<text x="507.0" y="538.9" font-size="8" text-anchor="end" fill="#333" >−10</text>
<line x1="511.0" y1="536.4" x2="661.6" y2="536.4" stroke="#cbcbcb" stroke-width="1.25"/>
<line x1="516.0" y1="536.4" x2="516.0" y2="541.4" stroke="#cbcbcb" stroke-width="1.25"/>
<text x="516.0" y="550.5" font-size="8" text-anchor="middle" fill="#333" >−1.0</text>
<line x1="540.3" y1="536.4" x2="540.3" y2="541.4" stroke="#cbcbcb" stroke-width="1.25"/>
<text x="540.3" y="550.5" font-size="8" text-anchor="middle" fill="#333" >−0.5</text>
<line x1="564.6" y1="536.4" x2="564.6" y2="541.4" stroke="#cbcbcb" stroke-width="1.25"/>
<text x="564.6" y="550.5" font-size="8" text-anchor="middle" fill="#333" >0</text>
<line x1="588.9" y1="536.4" x2="588.9" y2="541.4" stroke="#cbcbcb" stroke-width="1.25"/>
<text x="588.9" y="550.5" font-size="8" text-anchor="middle" fill="#333" >0.5</text>
<line x1="613.2" y1="536.4" x2="613.2" y2="541.4" stroke="#cbcbcb" stroke-width="1.25"/>
<text x="613.2" y="550.5" font-size="8" text-anchor="middle" fill="#333" >1.0</text>
<line x1="637.4" y1="536.4" x2="637.4" y2="541.4" stroke="#cbcbcb" stroke-width="1.25"/>
<text x="637.4" y="550.5" font-size="8" text-anchor="middle" fill="#333" >1.5</text>
<line x1="661.6" y1="536.4" x2="661.6" y2="541.4" stroke="#cbcbcb" stroke-width="1.25"/>
<text x="661.6" y="550.5" font-size="8" text-anchor="middle" fill="#333" >2.0</text>
<text transform="translate(490.4,477.7) rotate(-90)" font-size="9.3" text-anchor="middle" fill="#222">log<tspan dy="2" font-size="5.8">2</tspan><tspan dy="-2">(Neutrophil::T cell)</tspan></text>
<text x="588.7" y="564.3" font-size="9" text-anchor="middle" fill="#222">log<tspan dy="2" font-size="5.8">10</tspan><tspan dy="-2">(Bacteria)</tspan></text>
<text x="519" y="424.5" font-size="8.6" fill="#222"><tspan font-style="italic">R</tspan> = 0.80</text>
<text x="519" y="436.3" font-size="8.6" fill="#222"><tspan font-style="italic">P</tspan> = 1.1 × 10<tspan dy="-3" font-size="5.8">−4</tspan></text>
<circle cx="611.0" cy="425.6" r="2.5" fill="#a3a3a3"/>
<circle cx="619.4" cy="433.6" r="2.5" fill="#a3a3a3"/>
<circle cx="618.4" cy="448.0" r="2.5" fill="#a3a3a3"/>
<circle cx="595.4" cy="451.6" r="2.5" fill="#a3a3a3"/>
<circle cx="582.0" cy="451.6" r="2.5" fill="#a3a3a3"/>
<circle cx="585.4" cy="449.0" r="2.5" fill="#a3a3a3"/>
<circle cx="562.4" cy="465.0" r="2.5" fill="#a3a3a3"/>
<circle cx="644.4" cy="466.8" r="2.5" fill="#a3a3a3"/>
<circle cx="572.4" cy="476.6" r="2.5" fill="#a3a3a3"/>
<circle cx="570.6" cy="480.0" r="2.5" fill="#a3a3a3"/>
<circle cx="559.0" cy="486.8" r="2.5" fill="#a3a3a3"/>
<circle cx="548.4" cy="475.6" r="2.5" fill="#a3a3a3"/>
<circle cx="547.6" cy="483.0" r="2.5" fill="#a3a3a3"/>
<circle cx="540.0" cy="500.4" r="2.5" fill="#a3a3a3"/>
<circle cx="547.0" cy="500.6" r="2.5" fill="#a3a3a3"/>
<circle cx="536.0" cy="502.4" r="2.5" fill="#a3a3a3"/>
<circle cx="537.6" cy="504.4" r="2.5" fill="#a3a3a3"/>
<line x1="536.0" y1="494.0" x2="644.6" y2="429.6" stroke="#333" stroke-width="1.1"/>
<text x="104.6" y="586.5" font-size="12.3" font-weight="bold" fill="#000">j</text>
<text x="233.2" y="591" font-size="9" text-anchor="middle" fill="#222"><tspan font-style="italic">Fusobacterium</tspan> versus <tspan font-style="italic">Prevotella</tspan></text>
<text x="233.4" y="603.0" font-size="9" text-anchor="middle" fill="#222" >Induced gene expression changes</text>
<line x1="146.0" y1="612.0" x2="146.0" y2="729.0" stroke="#cbcbcb" stroke-width="1.25"/>
<line x1="141.0" y1="612.0" x2="146.0" y2="612.0" stroke="#858585" stroke-width="0.9"/>
<text x="137.0" y="614.5" font-size="8" text-anchor="end" fill="#333" >6</text>
<line x1="141.0" y1="635.4" x2="146.0" y2="635.4" stroke="#858585" stroke-width="0.9"/>
<text x="137.0" y="637.9" font-size="8" text-anchor="end" fill="#333" >4</text>
<line x1="141.0" y1="658.8" x2="146.0" y2="658.8" stroke="#858585" stroke-width="0.9"/>
<text x="137.0" y="661.3" font-size="8" text-anchor="end" fill="#333" >2</text>
<line x1="141.0" y1="682.2" x2="146.0" y2="682.2" stroke="#858585" stroke-width="0.9"/>
<text x="137.0" y="684.7" font-size="8" text-anchor="end" fill="#333" >0</text>
<line x1="141.0" y1="705.6" x2="146.0" y2="705.6" stroke="#858585" stroke-width="0.9"/>
<text x="137.0" y="708.1" font-size="8" text-anchor="end" fill="#333" >−2</text>
<line x1="141.0" y1="729.0" x2="146.0" y2="729.0" stroke="#858585" stroke-width="0.9"/>
<text x="137.0" y="731.5" font-size="8" text-anchor="end" fill="#333" >−4</text>
<line x1="141.0" y1="729.0" x2="320.8" y2="729.0" stroke="#858585" stroke-width="0.9"/>
<line x1="146.0" y1="729.0" x2="146.0" y2="734.0" stroke="#cbcbcb" stroke-width="1.25"/>
<text x="146.0" y="743.4" font-size="8" text-anchor="middle" fill="#333" >−4</text>
<line x1="189.7" y1="729.0" x2="189.7" y2="734.0" stroke="#858585" stroke-width="0.9"/>
<text x="189.7" y="743.4" font-size="8" text-anchor="middle" fill="#333" >−2</text>
<line x1="233.4" y1="729.0" x2="233.4" y2="734.0" stroke="#858585" stroke-width="0.9"/>
<text x="233.4" y="743.4" font-size="8" text-anchor="middle" fill="#333" >0</text>
<line x1="277.1" y1="729.0" x2="277.1" y2="734.0" stroke="#858585" stroke-width="0.9"/>
<text x="277.1" y="743.4" font-size="8" text-anchor="middle" fill="#333" >2</text>
<line x1="320.8" y1="729.0" x2="320.8" y2="734.0" stroke="#858585" stroke-width="0.9"/>
<text x="320.8" y="743.4" font-size="8" text-anchor="middle" fill="#333" >4</text>
<text transform="translate(112.7,671.0) rotate(-90)" font-size="9" text-anchor="middle" fill="#222">Average fold change</text>
<text transform="translate(122.8,671) rotate(-90)" font-size="9" text-anchor="middle" fill="#222">after <tspan font-style="italic">Fusobacterium</tspan> infection</text>
<text x="233.5" y="758.0" font-size="9" text-anchor="middle" fill="#222" >Average fold change</text>
<text x="233.4" y="767" font-size="9" text-anchor="middle" fill="#222">after <tspan font-style="italic">Prevotella</tspan> infection</text>
<text x="148.4" y="619.4" font-size="8.5" fill="#222"><tspan font-style="italic">R</tspan> = 0.50, <tspan font-style="italic">P</tspan> &lt; 10<tspan dy="-3.2" font-size="6">−324</tspan></text>
<path d="M250.9 679.4h0M234.8 674.2h0M219.9 675.9h0M229.4 685.6h0M239.6 681.0h0M214.3 694.2h0M235.2 681.8h0M250.6 681.6h0M228.9 683.7h0M246.8 684.4h0M246.6 687.7h0M235.7 673.7h0M255.8 669.4h0M223.6 672.1h0M242.5 678.0h0M232.5 687.8h0M227.4 692.6h0M228.4 691.6h0M238.8 693.3h0M213.0 690.2h0M230.3 690.7h0M216.6 695.6h0M250.7 681.8h0M211.8 700.5h0M233.1 680.7h0M213.5 687.1h0M237.3 683.9h0M233.5 683.0h0M251.5 677.9h0M243.8 685.3h0M238.2 680.5h0M259.0 668.2h0M239.1 684.2h0M237.2 692.5h0M211.5 688.7h0M246.7 690.8h0M245.0 662.3h0M216.8 679.1h0M230.6 687.8h0M244.1 699.3h0M258.5 676.6h0M219.7 680.2h0M231.6 685.3h0M277.4 676.1h0M227.3 672.8h0M232.2 692.9h0M229.5 685.9h0M224.5 685.2h0M239.4 688.7h0M241.5 672.5h0M244.4 690.3h0M229.8 675.5h0M222.0 695.6h0M230.5 693.0h0M222.3 677.0h0M221.0 709.7h0M223.4 687.0h0M267.1 666.9h0M250.8 679.2h0M241.7 676.4h0M253.9 668.0h0M228.7 675.7h0M230.9 673.7h0M235.8 681.6h0M231.8 680.7h0M215.1 671.0h0M232.9 684.4h0M209.3 689.2h0M253.8 662.7h0M236.7 680.6h0M236.0 682.8h0M239.1 692.6h0M238.9 683.4h0M245.3 674.8h0M231.3 684.0h0M230.3 683.0h0M236.8 663.9h0M229.1 688.5h0M252.2 670.5h0M209.2 686.7h0M234.1 694.9h0M261.5 673.7h0M211.3 688.8h0M226.8 686.5h0M245.8 676.3h0M240.8 669.9h0M242.6 680.8h0M232.8 698.0h0M225.5 697.9h0M247.3 666.6h0M250.6 683.8h0M236.4 691.4h0M222.5 681.7h0M245.7 674.9h0M214.6 698.9h0M230.6 686.2h0M231.0 692.1h0M234.5 677.3h0M248.0 687.2h0M249.4 700.6h0M211.9 679.0h0M231.4 683.0h0M229.6 674.5h0M251.1 685.1h0M231.5 699.8h0M233.5 679.8h0M236.0 675.5h0M241.8 701.3h0M224.0 683.4h0M230.8 672.8h0M240.5 689.0h0M254.7 677.5h0M239.1 679.5h0M236.2 663.5h0M244.5 682.1h0M252.1 673.2h0M259.7 671.0h0M233.6 688.2h0M258.2 663.1h0M248.4 670.1h0M265.2 689.7h0M271.5 678.7h0M246.4 702.8h0M241.3 677.4h0M248.9 677.2h0M231.3 671.3h0M202.6 672.4h0M229.2 699.9h0M234.2 680.8h0M209.4 715.0h0M217.5 691.7h0M239.6 689.8h0M258.8 669.0h0M245.1 685.2h0M239.7 681.4h0M244.7 676.0h0M247.2 673.4h0M234.2 669.6h0M279.0 664.2h0M242.8 683.2h0M221.0 682.6h0M240.2 671.8h0M235.9 676.6h0M238.3 672.5h0M227.2 679.8h0M251.5 679.7h0M225.5 687.8h0M231.6 672.8h0M242.1 691.7h0M245.4 679.3h0M216.2 702.2h0M236.4 675.6h0M246.4 685.3h0M230.9 677.1h0M248.3 681.9h0M280.4 655.3h0M225.8 681.0h0M217.6 692.1h0M231.3 686.3h0M223.5 687.0h0M245.9 661.4h0M221.1 698.8h0M192.5 694.2h0M238.2 687.5h0M249.2 671.1h0M213.3 685.3h0M234.7 680.3h0M238.0 687.0h0M232.3 682.4h0M238.7 673.0h0M219.8 682.8h0M237.1 684.3h0M257.3 661.4h0M252.2 692.8h0M225.9 673.0h0M228.4 678.2h0M246.8 681.1h0M238.5 692.3h0M249.9 677.0h0M236.2 689.5h0M272.7 671.4h0M225.9 681.5h0M231.5 690.7h0M242.5 693.9h0M222.7 685.9h0M150.4 698.6h0M237.4 679.5h0M251.7 685.9h0M237.7 667.8h0M237.9 681.7h0M251.2 675.6h0M220.9 696.9h0M259.8 678.0h0M221.6 694.2h0M213.1 688.8h0M247.2 670.4h0M251.8 676.2h0M226.1 694.2h0M257.9 670.2h0M247.5 692.4h0M238.0 685.3h0M251.6 674.7h0M251.9 676.6h0M256.7 697.6h0M254.4 695.4h0M250.2 657.2h0M240.4 685.1h0M245.2 684.7h0M210.3 685.1h0M227.8 682.4h0M244.3 688.4h0M230.7 677.0h0M250.8 683.1h0M235.6 677.3h0M234.7 678.0h0M242.1 684.9h0M217.4 698.3h0M221.4 677.9h0M192.3 667.0h0M247.5 693.7h0M236.5 694.0h0M240.9 693.6h0M235.6 691.1h0M238.0 678.0h0M222.1 686.4h0M243.1 667.0h0M231.7 681.8h0M219.2 703.6h0M219.2 683.5h0M214.7 693.1h0M231.6 701.8h0M237.7 680.2h0M217.1 672.8h0M221.3 691.0h0M248.3 699.3h0M230.6 697.7h0M238.8 678.1h0M222.1 683.6h0M223.0 672.3h0M225.5 686.9h0M220.9 693.4h0M237.5 693.6h0M254.2 681.4h0M261.9 672.4h0M252.9 674.0h0M246.1 675.8h0M214.8 685.6h0M239.1 689.1h0M230.2 679.2h0M223.3 689.8h0M247.8 680.4h0M268.5 677.9h0M236.8 679.9h0M230.5 693.8h0M233.9 680.8h0M237.7 709.9h0M211.9 685.2h0M244.2 674.9h0M245.1 676.6h0M231.6 672.0h0M246.2 685.0h0M249.5 682.3h0M214.8 688.7h0M256.8 652.2h0M248.6 668.3h0M260.8 675.9h0M214.6 675.3h0M226.6 694.3h0M226.8 691.1h0M260.9 671.9h0M230.5 676.3h0M221.6 683.9h0M220.8 693.7h0M253.1 663.2h0M270.2 677.8h0M244.0 684.9h0M248.6 658.4h0M263.3 669.6h0M243.0 679.1h0M225.3 676.5h0M245.9 670.0h0M205.1 698.3h0M239.8 691.7h0M289.1 668.4h0M231.7 684.7h0M235.9 676.5h0M240.8 670.0h0M234.0 684.1h0M242.1 700.9h0M249.1 674.5h0M244.2 678.8h0M233.2 691.3h0M195.7 705.1h0M222.4 679.9h0M237.7 674.7h0M233.1 691.6h0M234.0 696.4h0M237.2 701.2h0M225.8 687.0h0M260.0 676.2h0M233.5 675.7h0M252.6 680.5h0M211.5 684.6h0M225.4 693.4h0M262.0 674.3h0M222.1 684.7h0M236.5 664.5h0M240.4 669.1h0M229.4 695.4h0M251.3 679.3h0M229.5 685.5h0M245.0 693.3h0M213.9 688.0h0M238.4 679.0h0M253.1 676.2h0M241.5 689.4h0M237.9 685.7h0M245.0 675.4h0M248.3 681.2h0M237.1 676.9h0M250.9 679.1h0M272.9 669.8h0M218.4 697.7h0M238.3 675.7h0M249.9 681.5h0M233.4 686.2h0M228.6 676.4h0M259.2 680.5h0M238.9 683.3h0M238.2 675.0h0M239.9 678.5h0M202.5 694.7h0M227.2 699.1h0M221.0 696.9h0M218.6 684.0h0M215.5 689.4h0M230.7 678.3h0M231.0 662.8h0M263.8 673.6h0M230.2 689.2h0M239.4 684.0h0M246.2 668.7h0M240.8 676.8h0M226.2 694.1h0M245.2 663.5h0M236.8 668.1h0M264.8 678.7h0M195.1 680.2h0M213.4 666.3h0M270.4 666.2h0M228.6 679.0h0M214.0 695.3h0M237.5 686.3h0M241.1 671.8h0M212.2 691.3h0M247.1 675.2h0M226.3 683.5h0M233.7 685.1h0M242.1 673.9h0M246.5 685.9h0M197.7 687.1h0M218.4 674.4h0M228.4 699.7h0M236.5 688.9h0M239.3 685.2h0M231.7 670.5h0M232.1 674.8h0M238.2 682.8h0M231.8 670.1h0M243.9 677.7h0M220.8 688.5h0M232.1 681.8h0M252.9 678.9h0M199.5 700.4h0M227.7 704.1h0M236.1 698.8h0M229.3 691.9h0M217.3 687.2h0M257.8 674.2h0M213.6 687.5h0M223.3 672.4h0M243.5 676.0h0M244.2 683.1h0M231.9 681.5h0M262.4 682.0h0M249.4 671.8h0M238.3 683.3h0M245.2 684.3h0M264.8 665.3h0M225.1 685.5h0M246.5 671.2h0M221.6 688.9h0M249.1 670.7h0M246.0 681.7h0M238.9 691.2h0M231.9 676.9h0M243.6 671.8h0M198.2 694.0h0M277.2 664.9h0M221.4 690.6h0M236.3 669.7h0M234.3 686.0h0M256.9 669.4h0M241.3 683.1h0M229.1 684.9h0M249.4 670.1h0M258.2 678.9h0M225.9 685.0h0M260.1 677.0h0M232.4 680.6h0M235.2 685.8h0M212.9 686.9h0M200.5 708.7h0M228.5 679.2h0M233.1 694.4h0M245.0 687.9h0M248.0 689.1h0M235.1 683.6h0M230.0 690.8h0M229.6 686.3h0M224.6 692.3h0M220.4 683.3h0M243.8 676.3h0M218.4 684.9h0M240.8 685.2h0M225.3 690.5h0M240.9 681.5h0M257.4 674.6h0M237.0 686.9h0M244.9 687.6h0M229.1 688.2h0M245.1 695.8h0M223.0 697.2h0M229.2 675.8h0M196.8 689.5h0M255.5 669.1h0M300.0 662.3h0M204.9 691.3h0M214.6 672.5h0M255.1 684.0h0M238.4 683.8h0M209.3 664.4h0M266.1 682.9h0M243.4 681.3h0M230.8 695.5h0M228.7 683.3h0M229.5 685.4h0M241.0 688.5h0M231.7 664.8h0M268.3 674.0h0M277.8 659.8h0M259.1 675.4h0M226.9 696.3h0M212.1 691.3h0M230.3 677.0h0M240.9 695.6h0M222.6 675.7h0M262.9 677.9h0M245.4 693.3h0M229.1 673.9h0M239.5 688.8h0M237.4 681.4h0M252.5 665.8h0M238.3 682.5h0M251.7 675.0h0M266.1 674.6h0M229.8 693.4h0M234.2 689.4h0M228.4 689.9h0M227.4 680.6h0M255.0 677.2h0M205.9 696.5h0M206.2 681.4h0M237.0 688.0h0M222.4 685.0h0M248.3 679.1h0M235.4 687.8h0M246.0 686.8h0M242.9 680.5h0M245.0 676.3h0M222.0 690.9h0M232.7 679.5h0M250.6 667.4h0M229.7 689.0h0M223.6 689.6h0M219.1 691.1h0M228.8 702.4h0M226.1 665.9h0M207.1 690.2h0M224.0 689.1h0M246.6 677.0h0M219.9 693.2h0M240.8 691.8h0M234.8 679.2h0M233.2 677.6h0M244.2 667.9h0M232.1 693.3h0M241.4 681.4h0M239.9 686.5h0M260.8 666.2h0M215.0 675.8h0M231.2 685.6h0M242.9 686.0h0M215.5 680.3h0M242.2 691.5h0M234.0 682.0h0M233.0 683.6h0M251.9 687.4h0M246.1 681.8h0M217.2 683.7h0M263.3 695.8h0M231.1 686.9h0M242.8 660.3h0M255.8 659.4h0M233.2 704.1h0M265.3 671.5h0M196.2 697.5h0M241.0 690.1h0M210.7 688.0h0M230.0 685.6h0M223.0 682.0h0M300.1 662.6h0M245.6 686.0h0" stroke="#5a9cf3" stroke-width="2.2" stroke-linecap="round" fill="none" stroke-opacity="0.72"/>
<path d="M230.6 693.3h0M234.0 675.3h0M203.9 700.1h0M230.9 690.6h0M223.2 691.6h0M238.2 667.5h0M216.9 689.6h0M235.7 684.9h0M272.6 671.9h0M232.7 674.6h0M193.6 702.7h0M259.5 665.0h0M231.2 684.1h0M258.2 676.2h0M205.9 704.4h0M274.7 676.5h0M253.3 683.5h0M207.6 698.5h0M226.1 685.0h0M258.9 687.0h0M237.9 683.2h0M248.1 679.3h0M237.3 672.1h0M227.7 684.6h0M210.5 698.8h0M251.9 687.5h0M233.9 683.1h0M230.8 683.2h0M226.7 685.8h0M266.8 661.2h0M263.5 678.9h0M232.6 676.9h0M220.4 709.7h0M218.5 708.6h0M238.4 692.0h0M234.2 676.9h0M232.6 681.3h0M239.8 678.6h0M229.9 680.8h0M245.1 696.5h0M252.0 669.5h0M235.3 665.0h0M240.4 671.7h0M232.2 665.3h0M256.0 677.2h0M229.3 697.2h0M269.8 660.0h0M224.2 688.6h0M242.9 678.2h0M216.0 681.5h0M245.3 690.5h0M242.4 675.3h0M230.6 713.5h0M244.5 678.6h0M264.6 684.7h0M238.9 672.3h0M235.3 690.2h0M208.8 690.0h0M244.9 676.9h0M246.0 667.6h0M234.8 693.0h0M235.9 680.5h0M228.5 680.0h0M210.0 676.0h0M217.7 682.2h0M204.4 701.1h0M234.4 688.7h0M235.7 677.9h0M235.0 678.4h0M203.6 706.0h0M187.2 692.6h0M234.6 671.8h0M218.0 681.9h0M273.8 690.0h0M219.8 690.2h0M208.2 691.6h0M241.9 681.7h0M230.1 683.6h0M231.5 681.2h0M233.9 688.6h0M243.0 689.2h0M234.7 679.7h0M226.8 674.4h0M228.6 684.2h0M239.4 686.3h0M236.5 681.9h0M240.6 683.3h0M221.1 699.1h0M233.3 699.1h0M225.1 696.9h0M215.7 681.6h0M242.3 667.5h0M230.8 674.4h0M233.1 677.9h0M256.2 662.2h0M249.8 672.7h0M221.8 692.3h0M223.2 675.6h0M223.6 695.1h0M213.3 680.0h0M234.5 678.3h0M253.5 700.1h0M234.8 687.0h0M232.1 697.2h0M251.1 672.1h0M223.0 693.3h0M240.0 697.1h0M233.7 693.8h0M269.5 671.4h0M236.4 683.4h0M235.2 674.8h0M247.1 673.5h0M224.2 694.6h0M225.2 683.5h0M243.7 677.7h0M251.0 687.1h0M245.6 681.1h0M236.9 695.3h0M238.3 681.5h0M228.4 687.2h0M236.6 680.9h0M249.2 668.7h0M198.7 706.4h0M224.5 685.9h0M220.0 681.4h0M235.0 677.1h0M246.9 678.7h0M233.1 675.9h0M227.1 665.7h0M253.2 678.7h0M207.7 671.2h0M231.9 694.5h0M219.7 704.5h0M240.7 691.8h0M213.8 694.4h0M199.0 693.9h0M274.9 660.0h0M238.1 685.7h0M237.9 684.9h0M231.0 687.0h0M214.0 682.5h0M240.4 679.4h0M217.9 691.0h0M228.0 677.0h0M257.0 673.2h0M235.8 675.1h0M229.1 678.5h0M245.9 673.8h0M227.2 688.9h0M250.8 675.4h0M238.3 704.2h0M229.9 694.7h0M239.0 678.1h0M228.1 679.2h0M214.7 687.9h0M241.9 696.5h0M260.5 689.7h0M255.8 690.4h0M231.9 690.8h0M243.3 687.9h0M245.1 686.0h0M234.5 675.2h0M226.0 691.4h0M227.6 680.5h0M259.8 692.5h0M258.5 661.0h0M224.4 697.1h0M253.7 676.7h0M228.3 690.0h0M220.5 679.4h0M238.2 694.1h0M227.3 692.1h0M230.2 699.2h0M295.4 679.0h0M240.8 675.9h0M237.8 672.6h0M225.0 689.5h0M215.3 677.9h0M253.3 669.9h0M243.1 691.0h0M237.0 687.4h0M215.1 692.9h0M218.7 674.0h0M237.5 691.4h0M220.9 687.7h0M233.6 676.6h0M228.7 690.5h0M219.6 687.5h0M212.2 686.7h0M244.3 666.2h0M225.9 691.2h0M246.4 681.8h0M240.8 698.8h0M241.4 683.2h0M258.2 668.7h0M273.5 665.8h0M263.5 676.4h0M211.0 696.6h0M240.1 684.0h0M242.5 674.7h0M246.4 680.0h0M258.1 681.0h0M239.0 683.2h0M246.5 684.6h0M234.6 691.3h0M242.6 669.8h0M252.9 677.7h0M242.4 689.7h0M246.4 669.4h0M242.1 676.4h0M214.9 690.7h0M217.4 686.0h0M237.9 685.5h0M228.1 673.7h0M255.7 665.3h0M245.8 685.3h0M231.2 676.1h0M238.6 669.9h0M233.3 683.9h0M202.0 683.4h0M231.0 683.0h0M247.8 692.5h0M242.9 687.0h0M258.0 689.2h0M236.3 677.4h0M243.0 670.8h0M228.8 687.2h0M246.3 665.7h0M233.4 678.4h0M237.5 692.6h0M238.7 691.2h0M234.1 699.2h0M238.4 687.9h0M231.6 683.9h0M232.9 693.4h0M249.2 685.5h0M212.9 707.3h0M199.9 692.8h0M227.5 683.4h0M235.5 698.7h0M249.1 682.3h0M250.7 684.9h0M241.8 670.2h0M236.8 679.3h0M241.7 678.0h0M216.0 679.8h0M235.7 695.0h0M227.8 682.8h0M239.7 684.8h0M259.9 666.9h0M260.3 683.4h0M219.8 685.7h0M217.5 683.3h0M232.0 671.7h0M220.1 680.1h0M231.4 695.0h0M210.2 692.1h0M238.5 690.2h0M217.4 690.9h0M220.3 691.9h0M222.9 673.2h0M243.8 670.3h0M244.5 690.5h0M242.6 681.8h0M245.4 673.9h0M252.0 695.6h0M222.9 703.0h0M240.3 679.5h0M227.7 678.1h0M234.3 683.8h0M236.6 676.9h0M208.3 693.6h0M242.1 678.7h0M225.1 692.8h0M248.9 672.5h0M235.8 670.9h0M241.0 679.1h0M264.5 677.5h0M252.7 679.9h0M218.4 694.4h0M241.5 668.7h0M231.0 683.6h0M252.0 682.8h0M239.0 687.2h0M249.7 673.6h0M225.6 680.9h0M232.5 687.8h0M238.6 688.2h0M239.9 694.0h0M244.9 691.4h0M225.8 691.0h0M232.3 675.7h0M236.1 661.6h0M241.2 680.6h0M251.5 672.0h0M232.2 683.8h0M224.8 684.6h0M267.4 675.3h0M242.5 688.9h0M232.0 669.5h0M258.2 666.4h0M242.8 687.0h0M270.2 672.8h0M218.2 685.9h0M274.0 673.2h0M237.3 682.2h0M238.1 700.6h0M251.9 679.7h0M234.4 676.6h0M232.4 687.4h0M252.1 675.4h0M226.8 695.6h0M247.3 680.4h0M230.1 681.4h0M281.0 671.4h0M253.9 670.9h0M217.8 702.0h0M226.4 679.1h0M233.5 677.2h0M278.9 693.1h0M263.6 677.1h0M236.7 686.2h0M228.3 690.6h0M241.6 685.6h0M240.1 681.6h0M224.3 681.5h0M228.0 684.1h0M222.7 692.0h0M227.6 678.8h0M213.5 665.7h0M230.3 687.0h0M239.4 687.6h0M258.0 672.3h0M232.2 675.0h0M247.3 684.0h0M235.6 675.8h0M260.4 689.7h0M234.1 686.1h0M247.9 675.5h0M238.5 701.0h0M221.4 687.7h0M247.1 680.3h0M228.9 689.3h0M239.9 684.1h0M241.7 675.5h0M260.1 673.7h0M236.8 665.5h0M226.5 686.2h0M229.3 677.1h0M231.3 682.4h0M263.1 671.2h0M248.6 670.4h0M250.2 666.4h0M253.0 671.2h0M243.4 666.1h0M233.6 673.9h0M235.9 680.7h0M231.0 674.9h0M243.4 672.2h0M237.8 678.5h0M245.8 668.2h0M248.2 682.0h0M227.8 670.5h0M238.9 673.2h0M249.8 672.9h0M232.1 685.2h0M217.1 674.4h0M250.8 687.0h0M248.9 666.0h0M267.3 665.5h0M224.0 689.1h0M266.6 664.6h0M257.8 683.3h0M258.0 657.4h0M212.0 690.7h0M236.2 697.6h0M236.0 680.3h0M211.8 692.0h0M242.6 696.4h0M259.7 667.8h0M257.9 675.7h0M253.0 667.3h0M233.1 683.7h0M237.3 666.1h0M258.3 680.5h0M212.2 674.7h0M237.6 686.4h0M237.0 679.1h0M224.2 701.3h0M257.5 674.8h0M230.7 680.4h0M237.0 678.5h0M233.5 679.2h0M249.6 666.1h0M238.0 690.4h0M244.3 688.8h0M252.8 669.2h0M237.4 672.6h0M220.2 688.8h0M261.6 666.0h0M239.4 683.1h0M212.1 689.2h0M249.4 673.4h0M252.3 683.2h0M230.1 688.5h0M222.6 695.3h0M239.5 667.9h0M232.8 708.1h0M251.4 680.5h0M243.6 676.4h0M262.0 662.7h0M246.0 676.0h0M222.2 696.5h0M243.7 672.0h0M242.6 678.8h0M224.0 682.9h0M247.2 690.8h0M239.1 672.8h0M254.9 673.9h0M207.6 718.0h0M244.9 676.1h0M246.9 683.4h0M232.1 672.9h0M156.9 709.7h0M255.4 673.8h0M213.9 674.7h0M244.2 658.7h0M190.8 697.4h0M196.7 671.2h0M205.6 699.9h0M231.4 698.1h0M244.1 693.4h0M243.7 686.2h0M222.4 688.8h0M229.6 677.0h0M256.9 677.6h0M209.2 678.4h0M234.5 686.2h0M271.6 686.1h0M230.4 680.6h0M253.9 667.9h0M230.6 690.6h0M241.2 690.2h0M212.8 683.6h0M227.1 683.5h0M241.5 697.9h0M237.1 673.1h0M255.7 679.1h0M210.9 687.7h0M217.1 703.2h0M215.5 692.6h0M220.4 688.5h0M228.0 695.6h0M242.4 683.4h0M235.4 671.6h0M236.6 693.0h0M227.1 685.2h0M229.0 681.6h0M250.8 681.5h0M236.0 694.5h0M205.2 692.6h0M234.3 679.2h0M255.4 672.0h0M227.3 678.0h0M243.6 682.8h0M236.5 681.8h0M218.0 682.7h0M212.3 682.5h0M242.6 682.9h0M237.0 689.5h0M235.4 681.0h0M238.3 682.5h0M254.6 680.3h0M247.4 678.5h0M229.8 674.8h0M229.3 685.2h0M253.4 679.4h0M232.7 679.5h0M249.6 677.8h0M232.0 690.7h0M223.6 687.7h0M235.0 681.5h0M209.3 694.2h0M226.6 683.0h0M225.4 686.2h0M252.1 676.3h0M251.9 676.9h0M214.3 691.7h0M232.3 691.8h0M267.7 673.2h0M247.9 670.2h0M207.0 675.2h0M235.5 686.7h0M238.0 680.4h0M241.5 675.1h0M263.9 667.6h0M249.8 665.0h0M232.7 669.3h0M209.9 696.8h0M247.0 673.5h0M235.7 699.2h0M226.0 685.3h0M239.6 677.3h0M240.0 672.7h0M248.0 682.3h0M230.6 674.7h0M236.2 667.3h0M233.2 690.1h0M236.5 691.6h0M227.0 685.0h0M221.5 692.1h0M246.4 665.7h0M224.9 680.5h0M233.0 686.8h0M240.8 686.4h0M256.7 665.6h0M247.0 675.0h0M222.1 689.7h0M222.0 681.2h0M250.1 684.0h0M209.0 683.2h0M240.6 690.9h0M230.3 679.2h0" stroke="#5a9cf3" stroke-width="2.2" stroke-linecap="round" fill="none" stroke-opacity="0.72"/>
<path d="M239.8 676.3h0M234.9 694.9h0M215.6 689.8h0M221.5 681.8h0M240.6 675.4h0M218.5 694.4h0M223.7 697.7h0M209.1 702.0h0M227.8 671.9h0M228.9 672.5h0M229.6 683.7h0M238.4 675.6h0M246.9 689.5h0M243.3 668.1h0M240.1 687.9h0M238.1 688.1h0M250.2 660.2h0M230.6 689.0h0M263.8 681.4h0M252.6 674.1h0M246.2 671.3h0M195.9 701.2h0M227.1 691.8h0M255.3 693.7h0M229.2 672.8h0M253.4 688.1h0M232.8 688.2h0M237.4 685.4h0M233.5 670.1h0M252.8 666.4h0M260.5 678.9h0M251.8 669.2h0M230.9 673.7h0M257.1 679.0h0M259.9 669.0h0M232.0 678.2h0M222.5 700.6h0M200.5 690.2h0M226.6 683.8h0M247.2 670.8h0M210.6 687.4h0M231.2 678.0h0M238.0 658.4h0M240.2 682.9h0M248.2 679.2h0M249.1 689.1h0M236.8 677.9h0M247.5 672.2h0M276.7 660.6h0M219.8 665.1h0M226.8 685.2h0M244.5 692.9h0M207.3 700.2h0M243.5 671.2h0M202.9 690.0h0M234.9 682.4h0M224.5 680.1h0M244.8 677.2h0M224.9 696.8h0M225.7 693.3h0M231.0 679.6h0M217.4 696.3h0M244.8 682.8h0M238.6 667.3h0M211.8 695.4h0M249.3 672.1h0M209.8 699.5h0M210.9 695.3h0M252.3 694.2h0M253.4 675.7h0M217.5 685.6h0M239.9 690.1h0M245.5 677.8h0M256.6 676.8h0M243.3 674.4h0M247.0 684.2h0M247.9 691.5h0M247.6 687.5h0M251.5 664.9h0M242.8 676.7h0M241.6 704.0h0M251.3 685.5h0M207.0 683.2h0M251.1 676.7h0M239.1 673.4h0M234.0 690.2h0M223.0 688.3h0M236.1 680.4h0M219.5 689.0h0M251.4 677.4h0M242.2 676.2h0M245.3 693.2h0M240.1 671.1h0M228.8 696.2h0M255.3 687.2h0M233.9 687.6h0M243.8 675.4h0M242.3 702.6h0M242.3 676.7h0M239.0 699.3h0M242.0 666.6h0M252.7 662.6h0M225.9 674.0h0M249.9 661.3h0M242.3 670.8h0M230.8 676.1h0M262.3 684.5h0M240.2 691.4h0M230.0 699.9h0M247.4 683.6h0M245.3 663.0h0M252.8 684.2h0M231.8 677.0h0M239.7 693.5h0M232.4 673.9h0M240.8 691.2h0M236.7 697.6h0M237.7 682.7h0M241.7 669.7h0M237.4 682.9h0M253.7 663.5h0M236.7 661.2h0M224.8 687.3h0M242.0 678.6h0M224.9 682.0h0M200.7 688.5h0M246.3 684.2h0M228.6 698.7h0M238.2 696.4h0M224.0 679.0h0M214.1 684.9h0M221.7 681.3h0M222.0 687.8h0M242.6 674.9h0M251.0 685.4h0M249.4 668.6h0M207.2 696.2h0M222.6 701.1h0M240.1 685.9h0M245.5 681.4h0M244.1 678.8h0M228.9 688.5h0M250.4 670.7h0M255.1 690.3h0M233.8 687.6h0M264.1 664.0h0M220.4 683.5h0M240.2 676.7h0M221.6 693.0h0M268.4 671.8h0M243.1 682.9h0M240.6 687.6h0M255.3 683.2h0M227.1 691.5h0M197.7 705.3h0M237.1 677.6h0M249.5 664.6h0M217.4 690.1h0M227.3 674.3h0M238.1 687.4h0M214.5 674.7h0M262.4 664.8h0M243.5 675.9h0M246.3 677.8h0M242.2 679.4h0M234.1 676.5h0M255.8 680.9h0M233.2 690.2h0M254.4 669.7h0M231.1 687.9h0M247.9 676.2h0M243.8 686.3h0M245.1 670.3h0M245.3 678.6h0M243.2 673.6h0M229.0 680.1h0M247.6 659.8h0M240.1 686.3h0M241.9 670.5h0M240.7 671.2h0M276.2 682.0h0M227.8 690.2h0M252.2 680.4h0M256.9 711.5h0M239.0 681.4h0M231.8 675.0h0M238.6 696.4h0M234.1 679.7h0M226.6 701.0h0M226.2 677.4h0M230.1 681.7h0M232.1 692.9h0M221.1 687.5h0M227.1 676.7h0M246.0 671.3h0M235.2 685.4h0M238.1 671.0h0M228.6 671.5h0M230.1 690.4h0M231.4 676.8h0M246.7 682.9h0M220.0 692.5h0M242.2 660.4h0M255.3 682.5h0M218.1 679.2h0M235.1 683.2h0M250.2 661.6h0M243.6 684.5h0M235.7 674.0h0M239.8 677.0h0M237.3 683.8h0M228.9 679.8h0M155.8 706.8h0M237.5 682.3h0M232.9 679.8h0M245.4 681.3h0M238.5 673.3h0M240.1 690.0h0M239.8 693.6h0M254.3 685.2h0M255.4 660.9h0M201.0 695.1h0M242.8 673.9h0M254.3 672.4h0M212.4 702.3h0M242.7 674.8h0M240.8 677.3h0M239.2 683.4h0M229.5 682.7h0M257.5 690.8h0M241.9 697.6h0M237.5 684.7h0M222.3 669.8h0M243.2 670.5h0M246.1 672.5h0M243.2 680.6h0M244.1 667.4h0M225.0 687.9h0M230.1 683.6h0M251.2 690.7h0M232.3 679.6h0M237.1 679.1h0M231.1 678.4h0M235.0 669.2h0M236.0 672.6h0M237.3 679.7h0M212.7 676.2h0M222.1 707.6h0M231.7 680.2h0M252.1 688.5h0M260.4 677.9h0M211.9 701.2h0M219.6 695.6h0M262.3 670.6h0M232.9 682.5h0M222.1 690.3h0M239.3 668.7h0M242.8 671.7h0M229.1 684.9h0M256.7 661.7h0M227.0 685.6h0M247.4 675.2h0M230.9 692.1h0M217.7 694.8h0M244.3 675.1h0M235.1 680.7h0M249.5 687.6h0M238.2 673.1h0M252.0 669.6h0M264.5 675.1h0M217.1 692.1h0M237.9 681.0h0M217.1 679.9h0M242.7 686.1h0M230.2 670.6h0M225.4 694.6h0M233.1 682.3h0M267.4 666.0h0M226.3 689.7h0M247.9 681.7h0M209.1 695.4h0M229.3 678.5h0M263.9 653.7h0M232.2 678.6h0M226.8 661.3h0M245.7 679.9h0M233.1 677.2h0M234.5 689.9h0M245.3 695.2h0M242.6 676.5h0M217.3 676.3h0M250.4 672.6h0M230.3 686.0h0M258.0 666.5h0M238.1 696.7h0M240.5 678.1h0M241.6 683.5h0M245.5 668.0h0M235.9 653.9h0M228.9 679.4h0M226.6 679.1h0M241.4 689.8h0M231.4 679.0h0M255.6 671.7h0M240.4 674.5h0M235.7 663.4h0M203.3 693.7h0M228.3 682.6h0M228.4 682.6h0M221.7 691.8h0M252.9 663.6h0M240.4 686.8h0M241.6 671.7h0M238.7 667.0h0M235.9 679.5h0M257.8 666.1h0M242.0 676.7h0M239.7 669.5h0M257.1 679.0h0M230.1 674.9h0M232.7 675.6h0M249.4 681.7h0M244.0 682.3h0M270.1 678.9h0M250.6 672.5h0M226.1 684.8h0M232.9 684.3h0M235.3 680.1h0M253.1 694.8h0M243.0 683.4h0M239.7 684.1h0M225.5 686.6h0M206.1 681.5h0M219.2 698.2h0M234.7 686.7h0M234.3 692.5h0M254.9 671.4h0M213.0 699.3h0M235.3 675.7h0M235.9 684.7h0M241.2 688.3h0M242.2 678.5h0M249.9 683.4h0M211.5 689.2h0M233.1 675.3h0M213.9 692.1h0M234.2 683.9h0M219.8 695.6h0M226.7 688.7h0M242.0 669.9h0M242.6 688.9h0M266.2 656.4h0M220.1 682.3h0M230.1 661.5h0M240.3 682.6h0M225.7 676.4h0M235.0 678.6h0M231.9 675.1h0M241.7 681.4h0M250.8 682.3h0M240.4 682.6h0M238.2 667.5h0M244.6 676.2h0M206.1 689.1h0M256.3 666.8h0M231.5 692.7h0M237.3 689.6h0M247.6 686.9h0M231.1 687.7h0M235.3 689.9h0M238.0 681.8h0M233.0 679.3h0M226.2 695.0h0M246.6 683.9h0M237.7 684.1h0M246.5 686.4h0M226.4 681.3h0M238.2 682.2h0M229.6 665.3h0M210.8 680.7h0M248.6 691.5h0M252.7 673.5h0M251.3 685.4h0M247.7 670.8h0M235.7 680.8h0M242.1 683.9h0M236.5 686.2h0M218.9 682.5h0M264.6 672.6h0M234.7 686.8h0M222.9 688.2h0M235.4 689.5h0M233.9 690.7h0M217.5 694.4h0M234.8 694.0h0M237.6 681.6h0M215.3 673.3h0M260.1 671.0h0M208.5 707.8h0M267.5 664.1h0M258.0 683.2h0M236.7 687.6h0M245.0 681.6h0M239.7 685.2h0M237.5 688.4h0M237.0 675.3h0M244.1 667.9h0M236.1 689.7h0M240.9 696.9h0M251.0 681.4h0M231.1 686.9h0M205.6 686.4h0M239.8 678.6h0M252.3 670.7h0M223.4 684.6h0M248.6 682.9h0M228.0 685.5h0M252.5 687.1h0M230.8 695.9h0M219.6 696.1h0M261.9 665.7h0M230.5 680.1h0M233.9 677.3h0M213.9 686.1h0M253.6 684.1h0M224.7 689.4h0M206.5 709.3h0M228.4 683.1h0M252.5 690.5h0M256.9 679.4h0M225.0 687.8h0M255.1 700.1h0M232.1 687.3h0M210.5 689.3h0M230.2 666.0h0M236.1 678.5h0M241.6 675.8h0M222.7 682.5h0M213.7 686.1h0M250.1 673.6h0M239.2 685.5h0M232.6 680.8h0M232.2 691.4h0M219.5 694.5h0M240.2 688.5h0M281.4 672.0h0M256.5 674.1h0M227.0 688.9h0M221.9 673.2h0M233.9 675.3h0M248.7 689.6h0M247.0 691.1h0M236.6 679.9h0M233.6 686.2h0M210.9 695.9h0M234.8 678.6h0M230.2 689.5h0M215.5 706.4h0M226.3 676.7h0M252.0 679.3h0M220.5 696.9h0M234.6 682.2h0M235.3 679.5h0M215.8 678.0h0M248.0 672.0h0M242.7 693.9h0M220.3 679.1h0M227.5 687.8h0M238.3 692.2h0M219.7 687.8h0M227.1 697.2h0M215.9 691.4h0M226.7 684.2h0M245.9 682.9h0M229.7 689.4h0M249.7 681.4h0M227.7 691.9h0M231.0 678.9h0M228.2 680.3h0M249.7 667.7h0M256.4 682.4h0M238.9 682.0h0M241.1 679.7h0M194.1 696.6h0M249.2 671.4h0M224.9 673.8h0M249.6 670.2h0M249.2 676.4h0M245.0 691.4h0M242.6 674.0h0M218.1 688.8h0M220.4 687.6h0M235.6 684.2h0M246.0 676.2h0M240.3 675.1h0M224.0 667.6h0M265.9 692.2h0M270.5 684.3h0M244.4 665.1h0M230.0 688.4h0M256.3 662.8h0M243.2 677.6h0M240.9 672.1h0M226.3 690.7h0M215.3 676.5h0M241.2 691.0h0M240.4 684.4h0M202.0 690.5h0M242.5 690.4h0M252.2 678.9h0M212.4 684.3h0M221.4 681.6h0M259.8 677.2h0M237.3 688.1h0M212.7 682.3h0M249.4 678.1h0M226.4 684.5h0M234.4 689.9h0M248.5 675.4h0M251.8 684.4h0M222.4 689.5h0M241.9 694.8h0M224.7 689.6h0" stroke="#5a9cf3" stroke-width="2.2" stroke-linecap="round" fill="none" stroke-opacity="0.72"/>
<path d="M232.4 681.0h0M247.4 673.7h0M249.2 680.8h0M195.6 698.0h0M227.4 678.0h0M229.2 691.7h0M239.7 679.7h0M241.7 676.2h0M224.9 671.5h0M225.2 663.6h0M239.4 694.7h0M233.4 694.0h0M241.8 675.3h0M212.3 695.1h0M230.2 687.7h0M245.4 671.8h0M253.1 670.1h0M239.5 666.5h0M234.1 693.0h0M237.4 688.2h0M212.4 686.7h0M225.0 683.8h0M239.1 683.2h0M254.6 694.2h0M236.0 687.7h0M232.5 686.4h0M233.9 689.4h0M249.4 682.3h0M232.6 680.5h0M198.7 683.9h0M239.3 687.4h0M227.3 700.5h0M238.6 688.2h0M252.0 684.0h0M237.9 685.0h0M228.4 689.2h0M246.6 689.9h0M243.4 668.7h0M217.9 689.9h0M238.6 679.3h0M242.2 693.4h0M209.7 684.7h0M210.1 691.9h0M241.7 686.5h0M224.9 686.6h0M195.8 682.3h0M246.7 667.9h0M221.6 688.1h0M237.2 668.7h0M223.6 696.1h0M214.0 697.6h0M230.5 689.8h0M216.7 685.5h0M247.7 679.3h0M241.9 682.9h0M205.6 698.5h0M238.9 666.6h0M236.2 666.3h0M256.6 678.7h0M254.6 688.6h0M213.4 692.1h0M229.2 687.4h0M246.4 689.1h0M218.6 698.6h0M212.4 666.9h0M250.6 663.3h0M226.8 678.1h0M254.0 687.9h0M238.4 678.6h0M231.7 687.8h0M249.4 689.6h0M251.7 670.3h0M210.8 674.8h0M234.7 683.9h0M228.6 693.8h0M235.3 689.1h0M238.5 692.9h0M251.1 685.0h0M243.7 685.6h0M218.2 706.0h0M280.8 667.2h0M235.1 675.8h0M227.9 692.2h0M213.1 702.9h0M235.6 700.0h0M243.3 689.5h0M259.8 696.9h0M242.1 674.4h0M216.4 686.3h0M238.2 692.7h0M249.7 678.0h0M228.7 685.3h0M248.0 673.4h0M214.0 684.5h0M236.8 682.2h0M244.6 678.1h0M231.1 676.9h0M236.1 676.7h0M213.1 679.2h0M246.7 684.8h0M229.8 680.5h0M235.9 666.4h0M239.0 691.0h0M227.0 681.5h0M227.5 698.8h0M201.1 699.6h0M225.5 683.8h0M228.8 669.8h0M239.2 681.6h0M223.4 690.6h0M232.5 700.8h0M238.4 692.9h0M225.8 680.5h0M227.8 680.0h0M227.7 687.0h0M241.4 693.8h0M243.4 665.5h0M232.2 687.4h0M223.6 691.0h0M226.4 689.0h0M182.1 711.5h0M204.2 685.7h0M246.7 689.7h0M238.2 689.7h0M252.9 661.2h0M249.7 700.5h0M219.0 697.4h0M244.4 677.5h0M178.8 699.8h0M228.3 691.7h0M212.6 707.0h0M226.9 687.4h0M243.5 672.5h0M235.8 692.8h0M225.6 683.0h0M262.6 667.6h0M238.2 679.9h0M255.0 681.4h0M224.3 704.5h0M212.3 689.4h0M228.7 686.4h0M215.1 692.3h0M248.5 674.7h0M219.5 680.5h0M233.9 686.5h0M256.8 683.5h0M231.4 694.7h0M236.7 674.2h0M242.1 678.8h0M233.6 682.4h0M222.1 661.2h0M224.2 685.1h0M190.7 685.1h0M230.9 686.8h0M236.4 679.0h0M213.8 691.6h0M208.7 691.7h0M257.7 666.3h0M239.5 695.1h0M261.1 667.1h0M251.0 680.4h0M235.0 676.6h0M254.7 688.8h0M222.7 674.9h0M238.7 687.9h0M200.3 686.0h0M235.6 673.4h0M226.2 702.4h0M234.4 672.5h0M223.7 692.8h0M248.3 679.3h0M250.0 686.8h0M238.9 683.2h0M251.9 674.3h0M260.1 671.3h0M221.2 699.7h0M255.9 665.1h0M232.6 692.0h0M218.7 687.8h0M218.9 700.3h0M231.9 696.1h0M235.7 672.9h0M223.3 706.5h0M221.3 696.4h0M238.5 688.3h0M243.8 694.7h0M261.4 669.4h0M231.9 696.8h0M231.9 693.0h0M232.3 680.0h0M253.9 674.5h0M228.8 675.7h0M250.5 666.8h0M232.1 680.3h0M211.6 701.9h0M230.8 679.9h0M231.8 675.7h0M220.4 674.2h0M251.4 674.9h0M227.3 674.9h0M200.3 669.9h0M239.4 687.5h0M229.1 691.6h0M242.0 692.3h0M251.4 681.6h0M235.4 667.1h0M207.9 692.4h0M243.1 669.0h0M249.2 680.7h0M220.6 682.0h0M215.6 681.9h0M248.0 674.6h0M241.4 671.6h0M244.2 678.7h0M292.4 676.4h0M238.5 668.9h0M244.2 675.9h0M247.5 675.8h0M248.1 681.3h0M233.0 696.5h0M232.0 687.4h0M221.7 683.5h0M232.5 684.9h0M187.5 684.5h0M212.0 685.8h0M237.9 679.0h0M248.5 670.6h0M235.6 678.1h0M224.8 687.9h0M227.2 673.8h0M244.4 664.4h0M220.3 699.9h0M237.3 680.2h0M239.5 680.2h0M236.9 679.5h0M221.8 680.4h0M243.6 682.7h0M230.7 691.6h0M217.3 681.8h0M229.4 680.1h0M248.0 672.7h0M233.8 674.9h0M229.7 680.1h0M255.4 682.2h0M227.3 677.4h0M214.2 700.4h0M213.1 706.1h0M247.3 679.4h0M237.0 687.3h0M210.5 688.6h0M235.3 687.4h0M253.3 676.9h0M239.3 687.7h0M246.7 686.0h0M245.2 687.8h0M236.1 681.0h0M246.1 693.5h0M234.4 693.2h0M226.8 682.9h0M238.4 674.7h0M256.2 674.1h0M235.7 699.6h0M223.3 690.0h0M236.1 682.4h0M237.2 698.5h0M228.5 686.3h0M203.6 700.7h0M234.9 674.1h0M236.4 677.0h0M215.5 689.0h0M220.2 699.0h0M235.9 686.3h0M249.2 692.3h0M237.6 669.8h0M238.3 665.0h0M234.6 683.7h0M204.6 690.4h0M245.0 685.0h0M240.2 677.9h0M242.8 675.5h0M245.0 676.0h0M249.8 687.6h0M255.1 669.6h0M267.2 663.5h0M211.4 697.8h0M222.7 695.3h0M234.6 671.5h0M223.5 696.5h0M207.3 688.5h0M232.1 689.1h0M210.5 685.0h0M256.3 677.0h0M258.8 665.6h0M224.4 687.1h0M238.0 662.7h0M198.4 706.0h0M246.4 702.3h0M255.7 682.5h0M202.3 686.8h0M226.2 674.8h0M230.3 683.3h0M229.2 680.4h0M219.3 668.3h0M257.1 673.1h0M250.3 680.8h0M258.8 677.0h0M254.1 685.0h0M236.5 688.9h0M222.8 694.0h0M246.0 658.9h0M250.0 691.4h0M241.0 687.4h0M220.8 688.2h0M239.5 673.0h0M237.1 679.4h0M236.4 691.0h0M227.3 689.2h0M199.9 686.8h0M239.1 687.2h0M240.7 680.2h0M251.1 680.0h0M217.4 682.4h0M216.8 694.6h0M234.0 679.1h0M234.7 690.6h0M215.7 681.9h0M245.5 683.7h0M228.9 678.5h0M218.5 686.5h0M234.8 688.8h0M199.6 699.1h0M250.3 679.0h0M241.2 675.8h0M245.7 673.3h0M238.1 671.1h0M240.8 681.8h0M228.1 674.3h0M227.6 675.5h0M218.5 688.6h0M244.1 672.9h0M252.0 680.7h0M222.8 685.8h0M233.4 677.3h0M260.6 674.8h0M223.8 681.4h0M236.4 674.6h0M224.5 689.4h0M235.6 684.2h0M226.9 697.4h0M243.2 690.9h0M235.6 686.0h0M239.1 674.4h0M215.0 694.3h0M231.2 691.8h0M236.0 675.7h0M222.0 691.6h0M225.2 684.0h0M236.4 669.8h0M209.2 687.3h0M252.8 677.4h0M215.6 689.1h0M236.6 691.8h0M201.5 705.8h0M259.8 673.6h0M228.4 690.3h0M242.6 686.5h0M248.6 691.7h0M243.3 666.1h0M212.1 682.9h0M230.5 682.3h0M260.8 657.9h0M236.9 659.0h0M223.8 699.5h0M260.5 672.7h0M209.8 699.2h0M235.0 674.6h0M234.1 685.4h0M239.7 675.4h0M228.3 675.4h0M236.8 686.9h0M221.6 689.0h0M232.0 666.4h0M234.7 682.3h0M260.3 671.0h0M219.7 682.1h0M242.5 655.7h0M266.5 676.9h0M228.0 685.9h0M269.9 661.3h0M239.9 664.2h0M247.9 685.4h0M231.9 679.0h0M250.2 672.3h0M214.6 695.7h0M228.7 677.8h0M226.9 682.4h0M230.0 673.6h0M206.5 683.0h0M242.7 675.6h0M233.7 689.4h0M226.3 705.4h0M237.4 677.3h0M245.8 680.8h0M243.5 678.5h0M250.4 688.0h0M262.8 670.7h0M243.8 669.8h0M241.8 674.2h0M233.6 694.9h0M241.2 671.7h0M245.4 679.7h0M207.2 712.1h0M255.7 666.8h0M253.9 678.2h0M237.0 688.5h0M228.9 679.2h0M249.7 681.9h0M243.7 678.8h0M226.9 689.3h0M263.7 671.7h0M249.4 681.3h0M232.1 696.7h0M244.7 679.5h0M201.8 699.4h0M163.5 709.1h0M233.0 667.8h0M250.3 678.2h0M238.3 685.7h0M250.9 690.9h0M249.6 687.6h0M248.0 665.5h0M222.8 696.5h0M242.4 665.6h0M240.0 686.7h0M239.8 696.2h0M220.6 677.5h0M205.1 693.1h0M248.8 685.1h0M221.5 677.9h0M239.0 696.2h0M218.7 690.5h0M238.7 676.8h0M245.6 677.1h0M266.1 677.8h0M245.7 671.8h0M234.9 677.8h0M266.4 667.5h0M241.4 693.7h0M250.1 682.1h0M274.9 678.6h0M257.6 678.6h0M250.4 679.5h0M257.1 684.8h0M223.0 685.0h0M204.2 698.0h0M229.8 674.4h0M198.4 695.5h0M230.3 682.5h0M246.8 676.1h0M250.1 685.9h0M231.9 675.8h0M216.1 693.4h0M200.6 714.4h0M229.2 671.4h0M228.5 683.7h0M214.2 690.0h0M250.1 688.1h0M237.7 686.8h0M225.2 680.9h0M257.7 673.0h0M238.8 661.8h0M250.2 701.0h0M236.3 664.5h0M247.3 679.8h0M244.3 686.0h0M246.4 670.8h0M213.4 703.8h0M242.1 693.4h0M239.3 673.4h0M265.9 679.6h0M258.7 666.5h0M219.0 672.5h0M247.0 682.6h0M215.0 695.4h0M218.9 671.5h0M244.0 672.3h0M242.5 681.8h0M226.9 690.3h0M253.2 671.0h0M228.8 678.4h0M262.1 670.7h0M228.5 674.0h0M234.3 680.8h0M258.8 671.7h0M217.9 697.1h0M219.2 687.1h0M235.3 670.2h0M243.1 679.6h0M225.2 700.2h0M213.8 686.8h0M245.3 674.5h0M245.3 691.4h0M222.3 704.8h0M232.6 691.8h0M229.3 680.4h0M242.1 672.6h0M250.0 686.7h0M244.9 675.9h0M248.5 680.4h0M224.1 689.4h0M229.5 688.0h0M254.9 682.8h0M238.8 676.1h0M239.6 683.2h0M234.8 691.1h0M258.4 678.1h0M239.1 661.0h0M226.1 680.9h0M244.9 699.8h0M247.7 681.6h0M238.0 670.7h0M237.1 690.4h0M242.8 687.7h0" stroke="#5a9cf3" stroke-width="2.2" stroke-linecap="round" fill="none" stroke-opacity="0.72"/>
<path d="M222.9 703.7h0M231.4 670.6h0M225.3 696.5h0M242.5 677.8h0M241.6 681.9h0M262.9 676.5h0M248.3 681.5h0M256.6 681.3h0M233.7 687.9h0M239.1 679.0h0M227.8 676.4h0M244.2 685.3h0M235.5 679.3h0M225.4 688.8h0M230.1 690.8h0M244.4 671.4h0M235.5 679.8h0M257.3 683.4h0M243.2 687.9h0M248.3 675.9h0M251.8 680.7h0M239.8 679.3h0M198.8 719.4h0M234.6 665.4h0M235.0 672.2h0M243.3 690.3h0M217.1 679.9h0M225.9 669.1h0M219.3 687.4h0M250.2 666.7h0M220.7 673.2h0M219.7 687.6h0M267.1 674.4h0M246.7 685.7h0M237.8 665.8h0M256.0 683.8h0M231.8 689.4h0M242.2 677.5h0M221.9 684.6h0M219.1 677.7h0M239.7 685.6h0M255.1 671.1h0M232.2 672.2h0M209.7 688.4h0M228.7 685.4h0M245.1 672.0h0M255.0 672.1h0M258.3 667.9h0M227.3 689.5h0M250.0 679.5h0M227.8 680.6h0M235.7 675.7h0M224.1 701.0h0M218.9 700.0h0M252.6 665.7h0M226.6 691.7h0M242.4 669.1h0M220.5 683.2h0M235.6 691.9h0M232.9 664.7h0M255.1 668.3h0M250.4 698.9h0M241.1 680.9h0M228.8 672.0h0M231.0 681.7h0M223.8 690.8h0M213.3 695.3h0M242.2 674.8h0M241.3 684.1h0M223.3 687.0h0M239.3 663.6h0M245.8 685.3h0M244.2 674.6h0M250.3 673.4h0M228.0 685.0h0M218.1 688.8h0M232.6 676.0h0M234.9 693.1h0M221.5 683.7h0M219.4 683.8h0M231.2 691.9h0M242.0 684.0h0M228.8 688.3h0M240.1 676.8h0M235.0 666.8h0M218.7 688.1h0M234.6 685.4h0M239.4 676.9h0M237.4 680.0h0M236.4 682.3h0M252.1 674.3h0M249.9 667.8h0M217.8 694.8h0M237.1 687.3h0M246.2 688.7h0M222.6 702.5h0M226.9 683.9h0M240.3 688.7h0M252.2 673.9h0M221.1 684.9h0M230.9 673.7h0M198.1 702.6h0M265.7 663.5h0M217.8 688.2h0M235.1 674.3h0M231.9 676.7h0M248.7 682.1h0M248.9 661.9h0M236.7 696.3h0M223.0 688.9h0M252.1 678.3h0M241.6 688.0h0M218.4 684.5h0M258.9 667.1h0M226.0 684.2h0M255.6 674.1h0M221.9 682.5h0M247.1 683.1h0M224.2 685.0h0M246.3 668.1h0M211.4 701.1h0M216.2 684.5h0M234.2 698.0h0M249.3 684.5h0M236.9 680.5h0M229.5 689.1h0M235.2 685.5h0M239.4 675.7h0M237.9 669.0h0M224.6 683.0h0M230.9 689.1h0M267.1 676.5h0M212.8 695.2h0M239.1 705.0h0M243.8 679.4h0M211.5 691.0h0M243.0 674.7h0M241.8 699.1h0M241.3 679.1h0M247.2 679.3h0M217.5 686.1h0M235.9 673.1h0M242.6 680.0h0M243.7 692.5h0M215.0 690.1h0M235.4 676.2h0M230.1 690.7h0M246.7 691.9h0M249.0 686.8h0M243.0 680.2h0M219.3 686.7h0M228.7 683.7h0M272.0 655.5h0M224.7 681.0h0M213.8 686.5h0M252.7 688.8h0M232.7 680.3h0M244.8 686.5h0M240.0 686.7h0M203.3 691.3h0M231.9 678.1h0M236.9 677.4h0M261.3 681.0h0M252.1 692.2h0M251.5 671.1h0M208.5 688.4h0M247.3 670.5h0M217.4 697.2h0M270.3 680.0h0M239.0 682.5h0M231.3 682.3h0M242.2 684.0h0M223.3 678.6h0M237.8 692.1h0M258.4 657.4h0M235.2 683.5h0M235.9 662.7h0M243.3 695.0h0M242.3 691.6h0M251.7 679.5h0M243.6 682.7h0M263.2 671.2h0M231.1 689.7h0M236.0 688.1h0M231.3 687.8h0M263.1 686.4h0M231.5 680.2h0M238.8 675.7h0M260.4 665.8h0M240.8 686.3h0M230.1 687.1h0M234.8 688.9h0M234.3 681.7h0M250.4 689.1h0M235.5 683.4h0M250.6 689.0h0M251.1 674.1h0M232.4 693.2h0M216.8 694.9h0M206.3 684.4h0M255.5 698.9h0M228.2 687.6h0M236.3 666.4h0M239.8 677.9h0M238.0 674.8h0M228.3 675.1h0M235.6 688.0h0M223.5 679.9h0M252.8 683.8h0M236.6 692.4h0M258.8 681.8h0M243.6 687.3h0M237.4 675.8h0M218.5 699.1h0M224.3 681.0h0M226.7 690.4h0M227.7 672.7h0M214.4 685.6h0M230.6 675.5h0M200.4 704.1h0M225.7 694.6h0M231.4 691.8h0M226.0 677.9h0M234.6 675.2h0M254.3 686.5h0M213.6 678.7h0M224.5 682.0h0M246.4 678.0h0M240.8 678.1h0M243.2 686.0h0M249.6 686.5h0M247.2 692.1h0M198.1 686.7h0M255.9 668.8h0M229.7 682.7h0M236.9 684.5h0M246.9 684.2h0M263.2 663.3h0M264.6 675.3h0M264.7 672.6h0M226.9 696.8h0M223.4 696.8h0M220.2 681.8h0M230.1 692.3h0M220.8 705.9h0M247.5 672.4h0M214.4 678.8h0M243.3 673.9h0M226.6 711.2h0M233.0 675.6h0M228.5 681.3h0M238.9 683.7h0M236.8 685.4h0M211.0 688.2h0M245.0 677.7h0M241.0 687.8h0M218.6 686.0h0M257.6 686.0h0M239.7 679.9h0M221.2 693.0h0M236.9 688.9h0M228.2 683.2h0M252.7 679.1h0M235.6 688.2h0M242.5 689.6h0M209.6 693.2h0M246.5 673.1h0M240.7 684.4h0M242.6 673.2h0M227.2 683.4h0M258.4 685.3h0M236.8 678.0h0M242.3 675.6h0M255.7 676.3h0M224.0 695.8h0M258.3 668.2h0M239.6 672.4h0M237.3 672.0h0M232.6 656.3h0M224.0 689.0h0M215.4 697.7h0M259.7 678.5h0M233.0 681.5h0M251.7 681.4h0M240.7 692.9h0M234.7 681.8h0M234.6 686.4h0M214.0 691.3h0M228.3 699.7h0M260.5 678.0h0M230.8 683.2h0M240.4 682.3h0M218.4 691.9h0M243.0 681.1h0M222.4 700.2h0M231.7 683.5h0M257.1 661.3h0M258.1 682.4h0M244.2 665.3h0M237.9 666.1h0M213.7 692.1h0M198.6 681.7h0M254.9 677.2h0M229.6 685.7h0M222.7 686.7h0M254.5 677.1h0M226.4 678.5h0M227.6 680.8h0M222.6 687.8h0M260.6 660.8h0M229.5 691.3h0M221.0 704.8h0M210.4 683.3h0M265.1 681.4h0M224.0 699.0h0M229.4 686.9h0M233.8 661.8h0M217.3 678.2h0M231.6 679.4h0M237.5 686.7h0M232.5 673.0h0M238.6 683.4h0M235.6 697.8h0M213.2 684.6h0M230.8 685.8h0M223.7 693.7h0M241.7 684.2h0M279.8 666.1h0M239.0 681.0h0M241.2 675.7h0M240.5 663.1h0M269.4 687.4h0M238.3 692.3h0M222.8 677.9h0M210.7 685.4h0M218.7 686.8h0M257.6 669.9h0M235.3 684.4h0M205.8 673.8h0M250.9 674.6h0M234.1 672.0h0M251.9 669.8h0M238.9 673.6h0M263.2 689.3h0M236.6 698.0h0M245.3 689.4h0M208.8 686.8h0M247.2 674.4h0M235.7 691.0h0M239.7 670.9h0M222.7 677.8h0M221.8 677.1h0M237.7 688.6h0M231.2 678.7h0M233.6 671.9h0M227.6 698.1h0M251.2 693.4h0M232.4 693.7h0M257.4 672.1h0M243.6 709.0h0M215.0 680.6h0M209.8 685.1h0M225.6 680.8h0M255.9 667.0h0M231.6 681.4h0M233.1 686.3h0M220.1 675.4h0M227.1 664.0h0M239.2 687.7h0M219.8 683.8h0M221.4 683.7h0M248.2 685.4h0M248.5 681.3h0M232.3 666.6h0M255.3 670.6h0M256.6 692.8h0M240.3 680.5h0M221.0 703.0h0M226.1 671.5h0M259.1 681.3h0M256.9 686.5h0M193.5 703.0h0M224.2 681.5h0M255.0 679.0h0M218.5 687.3h0M212.4 686.3h0M240.1 683.6h0M246.6 677.2h0M232.2 678.6h0M220.6 691.2h0M228.1 668.1h0M215.5 690.0h0M232.3 694.0h0M240.6 675.6h0M235.6 671.9h0M249.2 680.8h0M236.5 669.1h0M245.2 676.6h0M216.6 672.5h0M230.5 690.7h0M236.3 685.3h0M246.0 673.8h0M230.4 676.4h0M233.2 677.8h0M226.1 690.2h0M246.8 686.1h0M238.8 686.3h0M234.6 685.5h0M229.9 684.2h0M229.6 676.6h0M233.8 674.8h0M251.8 672.5h0M225.2 688.9h0M247.3 676.8h0M263.5 661.8h0M237.7 689.4h0M233.3 695.0h0M209.5 688.6h0M222.1 676.0h0M214.2 695.5h0M211.3 692.1h0M244.0 678.1h0M233.3 679.2h0M269.7 672.3h0M228.9 697.2h0M221.7 689.6h0M236.4 672.3h0M249.3 658.8h0M221.2 670.4h0M225.9 688.3h0M238.5 678.4h0M252.1 671.4h0M205.0 692.0h0M223.0 697.2h0M212.7 692.6h0M248.3 667.5h0M237.2 676.5h0M251.6 682.1h0M241.4 673.5h0M234.2 701.1h0M206.8 696.9h0M233.5 683.5h0M235.6 683.6h0M206.2 684.7h0M226.9 688.8h0M260.6 689.3h0M239.6 677.1h0M218.6 676.4h0M245.3 680.5h0M229.8 686.9h0M227.4 690.5h0M238.8 673.8h0M236.0 693.4h0M263.5 690.1h0M243.6 683.6h0M230.2 698.6h0M263.2 672.0h0M232.0 680.3h0M225.5 679.9h0M253.5 665.6h0M227.5 695.0h0M240.5 672.3h0M261.3 666.9h0M242.0 685.0h0M227.2 696.4h0M235.4 684.4h0M266.1 678.6h0M218.3 694.9h0M236.4 681.4h0M220.4 697.2h0M225.8 699.7h0M226.9 689.4h0M233.7 689.8h0M257.0 662.0h0M251.9 682.5h0M241.6 679.1h0M232.1 685.0h0M221.3 687.8h0M246.0 680.4h0M254.2 684.7h0M252.2 693.3h0M248.0 666.9h0M253.1 693.5h0M214.4 687.2h0M242.6 684.8h0M231.1 689.3h0M239.5 686.8h0M213.0 682.4h0M193.7 686.1h0M241.1 686.0h0M294.6 663.5h0M237.9 695.8h0M238.2 677.3h0M228.0 700.4h0M242.4 675.1h0M242.1 679.3h0M246.6 674.5h0M235.5 694.9h0M235.9 679.9h0M259.6 672.3h0M228.7 675.6h0M245.7 686.0h0M216.9 704.3h0M265.5 690.7h0M243.9 676.5h0M233.2 668.9h0M227.8 691.7h0M173.3 693.3h0M248.3 692.0h0M236.0 692.4h0M248.9 667.7h0M246.6 672.6h0M221.9 687.8h0M255.0 677.0h0M240.3 704.7h0M264.6 666.6h0M215.2 703.9h0M238.0 686.2h0M248.7 677.0h0M221.9 694.9h0M242.6 685.2h0M229.3 684.2h0M235.1 678.6h0" stroke="#5a9cf3" stroke-width="2.2" stroke-linecap="round" fill="none" stroke-opacity="0.72"/>
<path d="M250.1 675.3h0M222.3 683.0h0M229.3 688.2h0M238.7 682.6h0M234.2 687.1h0M244.9 685.2h0M179.9 710.9h0M228.2 693.1h0M205.8 687.2h0M245.7 675.5h0M233.3 681.2h0M238.1 683.3h0M227.0 690.4h0M202.8 691.6h0M262.1 664.8h0M219.0 684.4h0M250.3 668.4h0M245.0 685.3h0M243.6 700.7h0M229.3 672.2h0M223.3 694.3h0M233.1 683.0h0M201.5 695.7h0M225.8 686.8h0M240.2 689.6h0M251.4 683.2h0M239.0 674.5h0M204.6 686.2h0M228.9 684.3h0M247.2 690.1h0M234.1 694.0h0M251.6 687.0h0M241.8 683.8h0M243.9 667.0h0M221.9 688.1h0M249.7 689.8h0M158.0 712.0h0M241.8 679.8h0M242.7 683.2h0M227.6 679.7h0M217.3 691.1h0M231.8 679.3h0M224.6 675.5h0M191.6 682.3h0M225.4 697.9h0M258.4 679.6h0M204.5 688.0h0M248.0 682.7h0M224.4 668.5h0M234.7 682.9h0M239.0 681.7h0M224.1 680.1h0M225.0 691.9h0M250.7 693.8h0M258.1 673.1h0M253.2 660.9h0M231.4 659.7h0M233.7 685.0h0M230.5 679.8h0M244.0 688.7h0M272.4 675.0h0M228.9 683.1h0M241.6 689.7h0M251.9 668.9h0M256.9 661.8h0M233.2 691.0h0M229.6 703.1h0M228.8 686.1h0M241.0 679.5h0M209.8 697.7h0M243.6 677.3h0M242.1 676.6h0M237.3 676.9h0M225.3 688.9h0M226.7 686.0h0M237.3 674.6h0M248.0 693.0h0M234.5 694.2h0M230.0 690.1h0M238.4 688.0h0M254.9 685.3h0M261.8 703.0h0M226.7 688.6h0M219.6 688.9h0M202.5 700.5h0M252.8 672.3h0M219.4 672.2h0M237.2 687.3h0M242.2 681.5h0M242.7 669.3h0M238.1 684.9h0M261.9 667.1h0M248.2 683.7h0M253.7 674.7h0M205.0 687.1h0M228.9 689.6h0M234.3 697.2h0M236.8 669.7h0M238.0 677.6h0M255.4 686.2h0M256.4 669.7h0M225.0 675.8h0M213.6 700.1h0M235.9 667.3h0M244.7 677.1h0M232.3 682.2h0M237.1 678.1h0M242.9 677.2h0M234.5 683.3h0M222.9 697.1h0M248.1 663.4h0M207.6 696.9h0M223.4 671.1h0M213.5 674.0h0M214.6 691.4h0M247.1 684.1h0M240.3 666.2h0M232.1 703.7h0M254.2 688.9h0M216.1 694.4h0M229.5 684.8h0M227.5 685.5h0M232.1 685.6h0M223.9 692.7h0M220.4 689.5h0M218.0 693.6h0M261.1 684.4h0M248.4 667.2h0M208.6 691.6h0M231.7 687.2h0M226.2 691.4h0M248.2 693.5h0M254.9 674.4h0M242.6 685.1h0M207.2 661.5h0M239.9 683.1h0M265.6 677.2h0M227.5 688.8h0M247.2 681.1h0M237.3 681.5h0M248.9 677.1h0M227.9 684.1h0M240.3 685.5h0M229.7 678.4h0M250.6 675.0h0M251.9 669.1h0M270.4 675.7h0M225.5 685.6h0M236.3 672.5h0M240.7 690.4h0M279.6 674.9h0M233.7 683.2h0M217.4 691.2h0M231.9 689.5h0M232.0 678.8h0M241.8 681.9h0M242.5 673.4h0M241.4 670.0h0M237.2 678.9h0M242.4 689.3h0M245.4 674.9h0M243.3 680.6h0M217.6 693.2h0M250.8 684.8h0M251.0 672.4h0M233.9 670.8h0M243.4 676.7h0M223.1 670.2h0M267.9 678.3h0M237.5 698.2h0M247.4 672.4h0M205.3 705.1h0M250.4 686.1h0M249.9 668.9h0M232.0 673.3h0M256.9 676.8h0M219.5 684.3h0M225.7 689.0h0M229.8 683.1h0M219.4 687.8h0M231.1 679.1h0M227.4 696.1h0M234.8 685.0h0M249.0 682.2h0M215.6 679.5h0M225.8 691.4h0M227.4 689.7h0M231.0 694.4h0M228.0 696.5h0M236.4 669.1h0M254.1 676.5h0M241.3 690.5h0M250.4 680.1h0M232.5 685.9h0M238.2 691.0h0M254.3 682.4h0M256.0 667.5h0M211.9 682.8h0M257.8 674.0h0M222.9 697.2h0M228.1 689.5h0M240.4 692.2h0M234.2 672.7h0M239.0 686.1h0M202.2 681.8h0M239.5 694.1h0M240.7 662.4h0M259.7 675.9h0M213.0 700.0h0M241.5 689.6h0M237.2 682.0h0M238.1 664.8h0M231.3 678.1h0M215.0 688.0h0M231.2 679.8h0M233.5 682.0h0M246.6 684.3h0M242.2 669.9h0M264.4 661.3h0M235.2 688.0h0M211.9 698.7h0M260.8 681.3h0M230.5 706.4h0M191.5 710.3h0M227.6 690.3h0M244.8 652.2h0M238.7 680.0h0M250.5 663.8h0M278.2 637.3h0M220.2 695.6h0M234.8 695.4h0M204.8 706.7h0M216.9 695.7h0M241.4 695.7h0M222.2 688.3h0M241.2 666.5h0M204.9 693.4h0M215.8 692.0h0M221.4 684.3h0M239.4 674.1h0M232.7 679.4h0M237.3 671.7h0M242.7 670.7h0M239.0 691.6h0M233.1 692.9h0M210.6 689.2h0M233.7 672.1h0M222.3 677.5h0M249.5 680.3h0M239.4 691.4h0M252.2 672.8h0M242.3 666.5h0M259.8 680.5h0M225.5 686.8h0M217.9 686.2h0M244.9 683.9h0M229.7 688.6h0M231.4 652.0h0M230.1 677.3h0M230.3 686.9h0M238.6 686.9h0M251.8 662.6h0M233.7 696.0h0M222.3 691.4h0M182.5 694.4h0M248.5 685.3h0M236.8 695.9h0M220.4 676.2h0M240.9 677.9h0M241.4 684.9h0M249.5 680.7h0M245.3 648.6h0M233.6 689.3h0M233.1 674.0h0M252.6 679.2h0M225.6 692.4h0M207.5 705.2h0M221.2 693.6h0M203.6 695.5h0M226.0 687.6h0M217.0 687.9h0M232.6 685.4h0M227.8 687.6h0M239.5 682.3h0M215.8 688.3h0M250.2 681.1h0M268.2 669.9h0M256.2 672.7h0M271.5 666.3h0M225.1 689.2h0M253.7 666.0h0M233.8 691.2h0M234.0 697.4h0M241.6 673.5h0M250.9 667.1h0M209.8 686.7h0M246.1 682.2h0M205.4 675.1h0M225.4 684.5h0M226.9 677.4h0M246.3 678.3h0M248.2 693.8h0M240.0 679.4h0M238.4 697.7h0M216.2 680.1h0M238.6 678.8h0M219.2 693.9h0M245.3 680.9h0M202.7 685.6h0M233.3 684.6h0M224.5 702.1h0M240.6 676.2h0M235.4 684.1h0M234.8 682.0h0M232.0 674.5h0M238.2 689.8h0M245.6 691.8h0M237.1 683.2h0M244.5 673.2h0M214.6 695.1h0M262.8 663.9h0M258.5 663.8h0M214.5 681.6h0M232.4 695.0h0M241.3 681.5h0M227.5 697.3h0M283.1 668.1h0M227.3 694.0h0M241.9 672.5h0M230.6 674.3h0M236.3 669.9h0M217.9 694.8h0M227.9 682.3h0M236.6 693.9h0M237.4 694.0h0M255.3 676.9h0M247.4 686.2h0M196.4 702.7h0M245.7 679.3h0M248.6 668.0h0M241.0 683.7h0M210.3 695.3h0M208.6 698.8h0M246.8 677.9h0M235.1 667.8h0M246.7 673.3h0M247.9 679.0h0M218.4 685.4h0M249.5 681.0h0M246.6 674.9h0M220.4 683.6h0M176.6 693.3h0M250.6 680.9h0M231.8 680.9h0M239.0 676.4h0M232.6 672.3h0M214.1 694.7h0M219.9 697.8h0M236.7 696.7h0M218.8 685.6h0M217.7 686.9h0M220.8 696.6h0M233.2 679.5h0M228.1 682.7h0M279.2 668.5h0M224.9 665.8h0M221.5 693.9h0M233.7 673.5h0M229.3 686.1h0M206.0 689.1h0M245.2 682.7h0M221.5 682.1h0M241.7 670.6h0M228.9 674.9h0M233.3 678.9h0M249.6 678.4h0M213.2 674.2h0M235.4 674.4h0M230.7 685.1h0M246.4 668.7h0M281.5 691.6h0M251.9 670.2h0M244.7 683.0h0M237.5 691.8h0M242.8 682.7h0M250.4 678.3h0M231.0 693.3h0M222.0 689.8h0M238.4 690.9h0M226.1 698.9h0M238.0 679.0h0M232.6 688.7h0M228.2 673.4h0M231.5 677.1h0M242.8 671.0h0M254.8 682.7h0M240.2 675.0h0M249.2 699.2h0M220.0 678.9h0M237.3 689.5h0M235.2 695.7h0M227.8 685.1h0M248.9 686.6h0M249.0 672.6h0M205.9 685.7h0M241.9 691.6h0M243.2 694.7h0M231.4 689.5h0M239.0 686.6h0M229.4 680.1h0M237.9 690.6h0M220.0 688.7h0M245.5 679.4h0M223.0 686.0h0M243.5 659.1h0M235.8 685.8h0M225.9 680.3h0M208.5 694.3h0M254.4 680.9h0M224.6 680.3h0M235.2 679.8h0M226.1 676.3h0M259.2 666.7h0M210.8 678.2h0M230.4 683.2h0M238.8 670.7h0M224.0 694.9h0M234.0 697.1h0M258.0 683.6h0M238.5 673.6h0M195.6 704.6h0M228.1 684.6h0M242.1 677.5h0M246.2 684.2h0M229.5 689.4h0M235.8 682.4h0M245.3 685.0h0M254.5 662.7h0M234.7 679.0h0M233.0 694.5h0M231.9 684.2h0M244.1 684.3h0M210.3 698.2h0M240.5 676.9h0M251.8 692.2h0M234.4 674.0h0M231.5 667.2h0M239.1 668.5h0M231.7 679.7h0M228.8 679.9h0M231.3 678.0h0M235.1 685.9h0M225.5 684.0h0M234.9 680.6h0M216.4 694.6h0M243.3 689.1h0M231.6 687.4h0M243.9 680.9h0M215.7 679.8h0M217.6 687.2h0M249.6 689.4h0M231.6 684.9h0M218.3 698.6h0M256.6 663.7h0M233.1 687.4h0M241.3 680.9h0M217.9 686.3h0M224.5 682.1h0M256.0 665.5h0M248.8 682.9h0M234.6 681.6h0M251.1 690.9h0M271.2 671.6h0M237.0 672.9h0M242.5 683.0h0M230.6 690.8h0M217.7 695.2h0M218.8 680.7h0M226.1 684.5h0M234.8 667.7h0M244.1 672.7h0M234.9 689.1h0M220.0 676.9h0M231.9 690.1h0M234.4 687.6h0M265.2 672.1h0M230.9 672.9h0M224.9 672.9h0M258.4 667.6h0M228.5 690.8h0M222.9 688.5h0M232.5 694.1h0M243.8 685.2h0M264.6 673.3h0M252.3 693.0h0M221.8 675.1h0M207.2 705.4h0M246.6 672.3h0M202.8 689.2h0M210.3 690.1h0M246.0 657.6h0M234.0 678.1h0M214.0 705.2h0M228.9 688.0h0M235.6 677.2h0M224.5 690.7h0M231.0 670.6h0M244.8 682.7h0M214.6 689.3h0M219.7 697.9h0M236.1 678.7h0M238.0 691.5h0M234.3 682.9h0M256.6 671.9h0M210.8 711.8h0M218.2 708.0h0M250.7 669.9h0M251.5 672.5h0M257.8 670.2h0M222.3 681.2h0M248.3 674.4h0M220.8 684.6h0M243.1 667.7h0" stroke="#5a9cf3" stroke-width="2.2" stroke-linecap="round" fill="none" stroke-opacity="0.72"/>
<path d="M236.2 674.2h0M254.0 665.0h0M229.8 705.4h0M250.3 665.9h0M249.3 674.1h0M252.1 679.1h0M234.7 679.0h0M228.1 682.3h0M242.4 679.8h0M233.4 688.1h0M253.7 685.5h0M194.1 710.3h0M244.1 680.5h0M260.8 685.9h0M220.3 692.3h0M225.0 701.5h0M241.5 678.0h0M202.8 692.6h0M211.2 695.0h0M242.1 686.6h0M218.0 681.2h0M218.8 687.5h0M270.2 672.7h0M242.9 668.0h0M271.5 683.0h0M242.2 670.2h0M250.9 672.7h0M230.0 693.0h0M240.3 687.4h0M230.7 674.1h0M217.1 683.1h0M243.6 692.2h0M250.3 679.9h0M232.2 673.4h0M281.5 673.9h0M219.6 690.0h0M226.6 692.7h0M252.0 681.6h0M218.0 689.2h0M218.3 680.9h0M226.4 689.6h0M225.5 691.8h0M234.3 680.3h0M210.0 693.5h0M240.5 677.5h0M240.1 695.8h0M224.9 687.9h0M225.5 678.0h0M232.6 688.2h0M253.7 682.8h0M233.1 673.9h0M217.5 676.9h0M234.5 689.2h0M234.1 687.5h0M242.5 683.4h0M221.8 695.7h0M224.0 691.9h0M228.9 675.2h0M240.8 684.7h0M267.2 686.1h0M230.7 674.6h0M238.7 677.2h0M226.7 690.2h0M212.8 678.2h0M244.3 674.4h0M239.8 676.7h0M239.0 682.6h0M236.3 682.6h0M225.5 686.8h0M196.9 686.6h0M232.0 686.6h0M234.5 681.5h0M221.0 681.1h0M217.6 682.0h0M220.9 700.5h0M217.2 702.9h0M227.0 692.7h0M234.4 680.2h0M227.9 676.2h0M225.0 688.2h0M219.3 678.9h0M263.0 666.8h0M245.7 669.1h0M213.4 690.7h0M258.3 674.4h0M289.1 668.2h0M242.3 685.2h0M253.8 683.3h0M227.9 688.3h0M233.6 688.2h0M234.5 680.6h0M233.3 691.3h0M222.2 689.9h0M202.8 689.9h0M221.0 674.9h0M229.4 677.6h0M239.3 683.6h0M244.2 680.7h0M253.5 668.3h0M221.1 682.8h0M222.9 693.0h0M213.2 674.4h0M239.7 669.3h0M207.0 690.3h0M233.5 678.8h0M216.4 683.4h0M226.7 674.8h0M218.8 702.3h0M241.4 676.9h0M240.2 683.5h0M231.1 690.5h0M249.0 684.6h0M203.9 687.8h0M232.8 680.2h0M244.3 680.7h0M229.8 686.7h0M243.3 692.4h0M214.6 687.4h0M207.8 718.1h0M247.2 678.8h0M230.9 678.3h0M250.9 685.8h0M222.8 677.2h0M243.2 683.6h0M238.8 684.2h0M237.8 685.9h0M233.0 675.5h0M216.7 677.0h0M222.2 683.9h0M247.7 681.0h0M244.0 674.3h0M218.4 699.6h0M230.1 695.4h0M247.3 671.7h0M202.2 694.7h0M214.0 679.1h0M242.5 672.0h0M250.9 691.0h0M227.8 683.0h0M247.5 663.5h0M222.1 694.2h0M225.1 679.0h0M232.6 687.6h0M247.2 683.1h0M209.4 693.2h0M251.7 680.7h0M240.2 694.6h0M226.9 691.0h0M251.4 681.8h0M239.6 688.8h0M253.1 681.1h0M226.6 684.3h0M254.0 665.7h0M238.8 672.4h0M216.4 682.6h0M230.6 692.6h0M237.2 678.0h0M235.7 681.7h0M220.9 702.1h0M248.6 682.5h0M247.2 679.2h0M251.3 667.3h0M231.0 683.2h0M235.9 665.2h0M235.3 699.5h0M230.7 679.2h0M232.3 685.1h0M248.6 679.1h0M233.9 696.1h0M235.9 671.9h0M229.6 681.7h0M238.0 678.2h0M230.8 662.1h0M245.1 677.0h0M232.5 688.7h0M245.2 691.2h0M267.6 675.8h0M229.1 683.2h0M241.9 680.9h0M228.6 692.9h0M226.0 700.8h0M226.2 685.0h0M247.2 692.6h0M233.8 695.0h0M215.7 681.0h0M260.8 666.5h0M221.0 683.8h0M225.3 695.6h0M225.4 692.1h0M238.3 680.6h0M212.3 689.8h0M208.6 679.0h0M228.8 697.8h0M256.8 673.7h0M256.7 685.6h0M228.6 681.2h0M212.0 681.7h0M243.8 661.2h0M222.6 676.6h0M250.2 665.0h0M226.1 676.9h0M237.8 694.2h0M226.7 695.3h0M206.1 688.9h0M217.5 717.2h0M242.0 675.5h0M228.8 699.1h0M251.3 691.6h0M243.8 686.4h0M234.3 684.4h0M214.6 692.5h0M239.3 697.4h0M201.0 682.5h0M224.8 702.4h0M229.2 692.7h0M247.3 675.6h0M245.4 684.8h0M235.7 678.6h0M262.5 671.1h0M219.4 675.8h0M260.1 698.5h0M195.2 681.3h0M236.6 682.1h0M258.6 676.3h0M225.9 679.1h0M240.7 694.5h0M226.6 687.5h0M235.2 689.1h0M220.7 695.6h0M257.1 684.8h0M241.1 686.6h0M237.7 672.4h0M262.6 671.6h0M227.8 686.7h0M237.3 677.6h0M225.7 681.1h0M269.5 678.8h0M247.1 671.6h0M220.7 681.6h0M238.1 688.7h0M261.6 685.4h0M264.7 680.0h0M258.4 678.3h0M247.0 688.7h0M243.6 687.3h0M246.8 680.7h0M214.4 684.5h0M202.8 674.2h0M225.2 680.3h0M234.9 671.5h0M251.8 666.9h0M238.7 679.9h0M230.7 678.3h0M245.6 680.8h0M255.7 684.6h0M227.4 698.5h0M251.2 677.1h0M264.6 668.0h0M246.2 677.3h0M235.7 679.0h0M249.5 678.3h0M253.4 674.6h0M235.0 686.1h0M234.2 670.9h0M234.7 673.3h0M231.1 681.1h0M234.6 675.7h0M222.1 687.0h0M233.8 676.1h0M223.5 688.8h0M212.2 674.6h0M213.3 686.7h0M217.1 689.9h0M241.1 674.2h0M231.6 677.5h0M214.1 696.4h0M226.4 695.1h0M246.4 677.6h0M257.4 682.3h0M232.2 682.1h0M228.1 683.1h0M236.3 692.2h0M238.6 682.1h0M229.2 695.1h0M256.0 672.6h0M225.0 670.3h0M235.5 685.4h0M217.3 679.2h0M241.3 675.3h0M244.3 684.3h0M239.6 683.3h0M238.8 687.5h0M227.3 687.7h0M242.4 676.2h0M230.3 680.7h0M208.6 712.4h0M230.0 696.3h0M253.1 686.1h0M208.0 692.1h0M238.5 686.1h0M205.4 684.6h0M223.3 703.8h0M223.7 689.6h0M243.3 687.8h0M206.0 706.3h0M236.9 691.1h0M235.4 679.0h0M203.0 701.1h0M232.1 687.6h0M247.0 675.6h0M268.9 676.1h0M231.9 675.1h0M244.8 683.7h0M205.4 694.5h0M231.6 687.5h0M242.2 683.0h0M241.2 687.3h0M245.1 684.4h0M238.8 686.4h0M234.7 681.3h0M218.7 689.2h0M244.8 684.7h0M244.0 690.2h0M217.0 681.4h0M237.8 685.1h0M242.3 693.0h0M234.8 669.6h0M247.9 678.4h0M237.8 675.2h0M244.0 689.3h0M241.7 675.4h0M231.4 665.8h0M243.1 681.3h0M247.9 680.4h0M241.2 678.8h0M251.2 673.0h0M229.7 688.9h0M232.8 666.5h0M250.6 670.6h0M217.0 676.7h0M237.3 667.6h0M265.8 684.0h0M237.3 689.8h0M267.7 674.1h0M221.0 666.8h0M233.8 664.0h0M234.5 680.3h0M219.7 688.4h0M238.5 678.6h0M272.1 677.9h0M233.9 671.3h0M257.7 695.2h0M222.7 688.2h0M231.8 690.7h0M238.8 679.1h0M231.4 671.9h0M228.4 680.8h0M222.1 688.7h0M239.3 683.9h0M230.4 693.2h0M246.6 690.1h0M233.5 675.9h0M259.1 675.0h0M249.4 682.6h0M223.9 690.7h0M212.7 687.1h0M251.1 677.1h0M263.5 682.0h0M272.8 679.5h0M254.9 682.0h0M247.2 677.6h0M240.2 685.9h0M228.1 704.0h0M223.6 682.5h0M244.8 690.0h0M245.3 681.5h0M243.7 673.1h0M248.0 672.9h0M234.9 671.0h0M234.4 685.3h0M228.7 676.8h0M256.2 675.6h0M232.0 688.2h0M231.9 682.5h0M219.7 688.7h0M232.7 687.3h0M226.3 695.4h0M237.0 668.8h0M231.7 682.4h0M237.1 687.7h0M240.8 683.6h0M248.6 673.2h0M253.5 678.8h0M222.7 695.6h0M229.2 687.2h0M224.3 708.0h0M240.8 676.5h0M258.7 673.2h0M233.2 694.4h0M238.3 678.6h0M234.6 681.7h0M243.0 683.2h0M236.4 682.0h0M233.7 692.6h0M228.5 671.5h0M240.2 678.1h0M235.1 675.0h0M259.9 687.9h0M236.4 694.7h0M238.8 686.4h0M224.7 687.6h0M238.1 695.5h0M237.5 687.1h0M240.7 669.4h0M208.1 677.1h0M220.9 682.9h0M229.4 683.3h0M218.1 683.7h0M209.3 682.0h0M211.2 710.2h0M217.2 686.4h0M246.4 675.0h0M223.6 694.3h0M243.4 677.1h0M226.0 674.1h0M263.3 674.2h0M244.2 667.9h0M226.2 677.2h0M253.7 680.3h0M232.6 689.1h0M225.8 686.7h0M228.8 697.5h0M234.5 684.8h0M211.7 682.8h0M227.5 683.2h0M232.4 688.2h0M238.1 683.6h0M221.8 693.6h0M237.7 672.4h0M228.7 680.4h0M216.1 705.6h0M224.0 682.1h0M212.3 691.5h0M244.0 682.1h0M210.3 687.2h0M237.9 686.3h0M244.2 670.9h0M229.2 696.4h0M235.7 684.5h0M240.0 668.2h0M192.8 691.2h0M234.9 683.0h0M235.8 685.5h0M220.2 697.5h0M270.9 668.3h0M227.9 677.5h0M216.3 689.5h0M254.9 677.6h0M241.1 679.9h0M234.2 678.0h0M252.4 681.5h0M253.8 684.4h0M257.5 672.3h0M238.2 692.5h0M244.1 675.2h0M268.5 683.5h0M216.3 678.6h0M223.2 689.1h0M242.5 697.2h0M237.3 684.6h0M216.6 692.2h0M242.2 687.9h0M242.0 676.1h0M234.7 681.7h0M248.8 678.1h0M231.3 684.8h0M207.5 696.4h0M232.3 695.9h0M255.8 673.5h0M222.8 696.3h0M240.8 673.2h0M243.3 670.2h0M237.2 677.0h0M217.7 690.5h0M228.5 698.0h0M245.9 685.4h0M217.4 687.6h0M261.1 676.6h0M237.7 689.7h0M242.8 687.0h0M213.4 698.9h0M203.3 708.0h0M242.1 683.6h0M251.6 689.7h0M241.2 671.9h0M234.8 683.1h0M242.0 672.8h0M236.9 670.2h0M226.4 687.0h0M212.7 702.0h0M217.5 697.7h0M229.2 682.6h0M272.3 667.1h0M246.4 687.8h0M256.8 665.4h0M235.6 690.6h0M235.1 685.2h0M247.0 678.5h0M216.8 689.8h0M234.3 678.5h0M210.1 681.5h0M266.4 658.7h0M234.1 682.6h0M212.5 691.4h0M229.0 684.9h0M241.4 679.3h0M228.0 674.7h0M285.8 671.7h0M257.9 675.4h0M243.8 676.5h0M248.4 679.0h0M246.3 682.2h0M238.6 676.7h0" stroke="#5a9cf3" stroke-width="2.2" stroke-linecap="round" fill="none" stroke-opacity="0.72"/>
<path d="M208.7 697.2h0M236.5 687.3h0M224.0 679.2h0M228.7 680.9h0M231.3 684.0h0M237.7 678.4h0M204.9 681.7h0M225.6 682.7h0M232.2 681.0h0M224.9 691.7h0M225.7 691.9h0M249.0 667.8h0M243.0 669.4h0M239.0 679.7h0M181.0 703.8h0M251.0 677.9h0M245.0 691.0h0M237.4 668.5h0M219.8 682.2h0M222.0 680.1h0M237.0 677.1h0M245.2 691.6h0M235.4 684.6h0M240.5 673.0h0M253.2 666.9h0M197.3 688.8h0M214.7 684.7h0M247.1 690.1h0M228.5 684.6h0M231.5 693.1h0M223.4 674.4h0M243.8 676.3h0M239.6 680.7h0M253.1 678.7h0M229.5 684.2h0M262.8 687.4h0M225.6 694.7h0M250.2 671.3h0M236.3 674.8h0M223.1 682.6h0M240.6 675.7h0M254.1 674.4h0M240.9 684.5h0M249.6 691.2h0M231.2 688.6h0M238.5 685.8h0M215.7 695.5h0M229.6 692.8h0M242.5 678.4h0M217.1 679.3h0M239.7 693.3h0M259.1 676.5h0M220.4 678.2h0M239.6 682.9h0M257.9 680.5h0M227.1 686.3h0M245.3 660.1h0M233.0 687.9h0M226.6 696.2h0M234.0 670.1h0M247.2 685.0h0M262.3 667.9h0M249.1 662.4h0M227.4 678.6h0M241.0 683.2h0M225.8 674.9h0M251.1 671.2h0M229.5 685.1h0M227.6 684.2h0M235.7 690.8h0M235.5 682.6h0M255.1 675.1h0M222.5 677.8h0M247.7 693.3h0M228.2 695.3h0M244.3 682.2h0M248.4 678.9h0M239.4 685.6h0M269.9 693.8h0M210.2 673.4h0M225.9 690.5h0M244.8 674.4h0M242.8 669.4h0M233.0 693.8h0M217.2 679.9h0M232.6 676.3h0M233.6 679.8h0M244.7 682.5h0M258.1 679.0h0M257.4 690.5h0M237.8 673.4h0M259.3 682.9h0M232.9 679.4h0M263.9 665.5h0M210.7 710.1h0M223.4 683.2h0M223.6 682.9h0M261.3 667.2h0M234.7 689.9h0M265.9 658.9h0M222.3 684.7h0M207.3 690.0h0M255.4 685.0h0M259.4 667.0h0M211.5 691.8h0M250.9 669.4h0M235.2 678.6h0M242.0 689.6h0M225.7 696.2h0M223.6 690.4h0M244.9 676.7h0M218.6 682.3h0M221.8 678.8h0M212.9 688.2h0M259.9 682.3h0M233.5 685.6h0M235.4 675.8h0M225.9 683.1h0M226.0 674.6h0M242.4 680.5h0M227.4 673.9h0M251.6 686.5h0M235.9 689.0h0M231.6 691.5h0M216.9 697.0h0M228.3 679.6h0M221.6 678.6h0M233.4 691.9h0M226.1 698.5h0M218.2 692.1h0M240.9 678.7h0M245.1 707.4h0M227.0 685.9h0M263.3 670.0h0M226.7 689.3h0M264.5 667.6h0M224.6 694.1h0M247.0 692.9h0M234.3 686.3h0M217.9 686.4h0M217.2 688.8h0M220.4 693.5h0M203.7 680.7h0M243.4 680.3h0M239.6 674.6h0M231.7 692.5h0M219.5 679.4h0M243.2 693.7h0M233.8 677.8h0M238.8 675.2h0M203.7 692.3h0M251.0 678.1h0M258.6 676.8h0M260.2 668.0h0M239.9 687.2h0M251.9 681.2h0M254.4 682.3h0M222.3 693.5h0M241.9 680.3h0M226.1 699.7h0M239.1 675.5h0M209.0 680.5h0M211.6 692.1h0M229.6 689.7h0M222.3 686.1h0M238.5 681.5h0M256.8 667.5h0M207.1 693.9h0M249.5 683.8h0M230.2 677.3h0M252.5 667.2h0M207.1 689.2h0M216.1 718.6h0M226.8 701.4h0M247.1 679.2h0M253.3 670.7h0M239.2 669.9h0M231.4 680.6h0M233.9 698.4h0M220.8 693.2h0M224.2 687.1h0M205.7 691.7h0M231.0 673.5h0M245.4 681.8h0M224.0 680.0h0M255.4 667.5h0M236.4 686.7h0M230.6 681.0h0M192.9 698.1h0M208.0 682.7h0M239.7 678.7h0M226.5 670.2h0M257.9 686.4h0M249.4 699.2h0M204.1 697.8h0M257.6 683.6h0M256.5 672.8h0M245.1 669.9h0M240.2 676.1h0M218.0 707.6h0M233.2 698.6h0M204.2 679.4h0M218.4 677.5h0M240.8 692.0h0M240.9 681.7h0M222.6 690.3h0M233.9 691.1h0M247.9 690.1h0M226.7 678.9h0M237.7 682.7h0M258.4 672.5h0M217.9 692.0h0M217.5 686.7h0M239.7 686.5h0M220.3 704.8h0M248.2 672.7h0M253.4 685.8h0M247.1 690.4h0M244.5 665.9h0M240.3 669.2h0M253.9 671.9h0M251.3 668.4h0M251.7 682.8h0M223.3 699.4h0M204.8 686.1h0M244.3 682.9h0M224.5 682.7h0M241.7 686.1h0M242.0 684.6h0M227.8 683.3h0M199.7 710.8h0M227.3 696.9h0M235.4 666.8h0M223.7 680.9h0M231.9 694.4h0M228.9 677.7h0M212.6 671.8h0M238.0 690.3h0M241.6 659.6h0M207.2 701.4h0M217.1 700.2h0M231.3 695.0h0M241.0 679.9h0M240.3 690.8h0M228.4 679.9h0M218.7 669.5h0M250.8 671.9h0M220.0 687.6h0M234.3 684.8h0M232.6 686.8h0M242.3 683.8h0M221.8 689.6h0M232.6 674.0h0M218.2 687.1h0M244.0 683.5h0M238.0 689.7h0M243.1 674.1h0M242.8 664.1h0M235.2 692.9h0M236.2 689.1h0M241.6 681.4h0M257.8 669.1h0M224.3 677.3h0M202.2 682.2h0M225.2 669.0h0M247.2 689.0h0M238.4 683.1h0M247.5 668.1h0M256.5 676.9h0M237.1 681.5h0M240.5 686.9h0M251.2 678.2h0M235.6 689.5h0M250.0 684.8h0M259.5 678.0h0M235.5 688.5h0M241.1 685.3h0M217.5 672.2h0M245.0 680.4h0M254.6 688.3h0M236.5 675.4h0M243.3 675.3h0M236.1 679.5h0M260.6 672.4h0M274.7 679.5h0M221.2 676.4h0M237.5 685.1h0M241.1 663.7h0M221.9 687.2h0M234.1 694.5h0M244.0 692.1h0M213.4 679.7h0M239.9 680.2h0M265.4 660.8h0M242.2 661.6h0M245.5 693.3h0M244.9 683.4h0M214.9 684.6h0M240.7 693.8h0M223.5 677.8h0M233.5 693.6h0M215.7 675.7h0M222.0 676.5h0M218.1 698.1h0M208.1 692.6h0M241.0 688.3h0M219.2 692.4h0M244.0 677.3h0M227.9 671.8h0M224.2 687.6h0M222.0 703.5h0M209.0 700.3h0M185.3 696.2h0M232.0 699.2h0M236.2 683.0h0M221.4 696.9h0M250.3 675.0h0M250.1 674.2h0M221.6 679.6h0M212.0 683.0h0M229.6 686.8h0M232.0 682.9h0M224.4 679.0h0M241.4 665.7h0M221.5 680.9h0M235.1 687.3h0M244.1 692.3h0M219.9 688.6h0M218.3 686.6h0M230.9 678.9h0M221.7 682.4h0M233.8 683.3h0M231.3 670.7h0M228.6 679.1h0M219.2 682.4h0M220.5 691.5h0M237.3 683.3h0M245.4 664.6h0M220.4 687.0h0M250.6 703.9h0M231.3 677.2h0M242.6 673.8h0M262.5 670.5h0M243.0 680.2h0M238.5 673.7h0M242.9 671.8h0M231.2 693.3h0M251.9 682.4h0M240.4 678.2h0M216.5 687.0h0M228.2 674.3h0M239.5 692.0h0M235.9 679.1h0M210.1 688.1h0M244.5 682.3h0M253.0 679.6h0M210.5 694.3h0M197.0 693.4h0M249.8 682.7h0M237.9 677.9h0M233.7 675.1h0M232.2 671.3h0M242.0 684.1h0M224.6 698.7h0M235.8 692.8h0M226.9 684.6h0M229.7 691.5h0M248.1 677.3h0M238.8 691.4h0M226.7 685.8h0M238.0 675.4h0M219.1 701.1h0M243.6 682.8h0M247.0 675.4h0M230.0 674.1h0M245.4 679.1h0M235.6 685.8h0M237.6 683.6h0M255.8 680.1h0M249.3 675.9h0M245.2 690.6h0M239.7 689.2h0M258.3 690.3h0M222.5 686.9h0M243.7 659.4h0M257.2 679.4h0M259.8 689.7h0M240.0 687.6h0M247.3 677.9h0M237.2 684.6h0M263.4 664.2h0M243.3 677.7h0M239.2 689.2h0M217.9 680.7h0M235.0 667.9h0M239.6 698.0h0M237.8 699.2h0M240.4 682.6h0M253.8 657.3h0M246.5 686.3h0M232.6 686.1h0M272.1 667.3h0M249.9 675.3h0M245.8 669.9h0M243.4 684.4h0M235.6 676.7h0M233.9 665.4h0M228.5 684.3h0M223.2 675.0h0M231.1 666.7h0M264.1 675.7h0M254.6 674.0h0M255.1 672.1h0M205.8 690.5h0M212.7 687.4h0M245.2 665.5h0M252.7 680.4h0M227.0 672.7h0M222.3 697.5h0M227.3 703.0h0M232.0 680.9h0M252.4 683.5h0M223.3 681.3h0M250.2 673.9h0M226.4 682.7h0M240.6 688.6h0M261.2 680.7h0M232.6 683.2h0M218.5 699.9h0M224.3 689.9h0M253.0 680.4h0M222.0 688.7h0M228.6 683.2h0M248.7 683.4h0M233.4 685.0h0M244.8 693.3h0M258.0 669.4h0M228.3 697.0h0M229.1 692.7h0M266.6 652.7h0M247.4 683.5h0M249.1 682.5h0M244.0 684.4h0M238.6 687.6h0M258.2 654.9h0M267.0 662.6h0M228.5 704.2h0M194.0 682.8h0M215.1 700.7h0M231.2 684.5h0M242.5 685.0h0M271.0 680.9h0M229.3 692.6h0M209.7 693.8h0M239.8 681.6h0M207.1 700.8h0M248.6 665.1h0M247.3 682.9h0M213.0 680.7h0M218.0 687.8h0M247.6 667.9h0M245.2 672.1h0M233.1 682.1h0M238.0 677.5h0M243.1 691.5h0M249.6 671.4h0M246.4 674.9h0M221.0 692.9h0M227.1 675.2h0M211.1 692.7h0M242.6 684.3h0M267.3 679.9h0M242.1 674.0h0M245.8 681.8h0M249.9 688.0h0M238.3 690.1h0M232.9 673.3h0M249.2 678.5h0M240.0 677.2h0M222.6 685.3h0M216.0 692.8h0M236.0 671.7h0M220.5 700.2h0M232.4 674.7h0M221.7 683.6h0M239.9 684.2h0M255.9 662.3h0M214.1 693.6h0M266.2 678.3h0M250.7 670.5h0M235.5 683.9h0M241.8 677.6h0M242.3 680.8h0M244.4 675.4h0M233.3 685.6h0M228.8 689.6h0M230.4 678.0h0M206.7 683.9h0M251.6 674.8h0M248.3 672.1h0M251.8 678.9h0M248.5 672.3h0M235.6 690.2h0M200.6 718.1h0M243.7 677.5h0M234.5 685.4h0M246.4 676.5h0M223.8 683.5h0M243.1 688.8h0M217.7 677.3h0M232.4 688.1h0M237.0 672.1h0M248.9 668.2h0M227.2 688.4h0M251.6 670.5h0M242.8 671.8h0M241.2 689.4h0M245.5 684.6h0M223.1 687.5h0M236.7 688.5h0M245.3 684.0h0M231.8 687.3h0" stroke="#5a9cf3" stroke-width="2.2" stroke-linecap="round" fill="none" stroke-opacity="0.72"/>
<path d="M237.9 696.5h0M241.7 679.8h0M254.5 694.0h0M230.6 694.3h0M233.9 690.9h0M253.4 685.4h0M246.8 679.0h0M251.9 683.4h0M244.7 673.0h0M223.6 690.8h0M239.6 667.9h0M232.8 683.5h0M249.2 668.8h0M250.5 686.5h0M222.8 692.2h0M245.4 685.3h0M240.6 682.8h0M210.5 676.3h0M248.4 679.3h0M219.1 687.9h0M265.2 673.0h0M257.6 673.6h0M241.7 663.0h0M241.8 677.2h0M245.9 682.6h0M238.3 684.5h0M208.2 685.5h0M232.7 704.3h0M242.9 690.1h0M245.7 675.0h0M238.4 674.4h0M241.1 685.0h0M257.5 670.7h0M235.8 682.4h0M224.6 677.3h0M261.2 668.7h0M227.6 685.6h0M258.4 675.5h0M233.8 679.1h0M236.4 675.5h0M225.7 676.8h0M225.9 680.5h0M251.6 675.1h0M220.6 700.4h0M214.8 691.0h0M230.0 682.4h0M200.4 701.9h0M238.9 680.8h0M228.2 700.3h0M252.3 680.8h0M245.1 691.6h0M235.9 685.0h0M241.8 682.7h0M239.9 674.8h0M220.3 685.3h0M243.5 696.7h0M232.0 693.4h0M233.1 682.6h0M242.3 673.8h0M237.2 694.8h0M232.9 692.5h0M236.6 677.9h0M210.8 686.2h0M253.8 675.1h0M231.2 686.9h0M251.6 687.4h0M230.9 686.1h0M224.3 679.2h0M250.5 679.0h0M166.8 709.1h0M231.5 671.9h0M248.1 687.8h0M204.8 688.7h0M223.0 693.3h0M253.9 665.4h0M235.8 687.8h0M273.1 654.2h0M231.8 667.8h0M217.6 683.7h0M239.5 683.6h0M232.1 684.0h0M237.6 670.9h0M241.9 661.0h0M226.1 686.4h0M236.6 690.8h0M215.8 694.4h0M242.2 682.7h0M246.4 678.8h0M237.9 681.0h0M230.7 687.9h0M225.2 693.2h0M250.2 676.8h0M227.5 690.7h0M223.0 676.7h0M247.5 678.1h0M248.0 690.5h0M235.8 691.1h0M219.1 687.5h0M265.2 669.1h0M251.1 682.1h0M242.0 682.1h0M215.8 694.6h0M234.6 677.1h0M241.1 686.4h0M222.4 691.9h0M241.0 689.6h0M236.1 670.1h0M224.9 686.1h0M241.9 676.1h0M250.4 671.5h0M251.3 669.1h0M239.3 688.3h0M237.6 692.6h0M232.0 686.3h0M236.4 680.6h0M241.3 676.9h0M230.1 699.2h0M242.6 685.5h0M224.5 672.9h0M236.8 683.4h0M205.7 692.3h0M240.5 684.6h0M273.5 680.3h0M231.1 684.1h0M241.4 673.2h0M229.0 681.1h0M226.8 693.7h0M244.1 677.2h0M240.9 684.1h0M248.4 674.5h0M219.5 691.0h0M251.1 681.3h0M161.3 708.5h0M234.8 678.7h0M217.1 699.2h0M231.9 679.1h0M240.0 674.7h0M228.1 669.3h0M235.5 679.7h0M226.2 677.7h0M225.0 691.3h0M236.2 683.7h0M233.4 691.7h0M230.9 689.8h0M243.2 669.5h0M259.4 670.3h0M223.7 687.9h0M236.9 682.8h0M239.5 685.5h0M236.0 680.9h0M237.8 676.6h0M230.1 683.2h0M246.0 689.5h0M242.4 685.3h0M233.0 682.6h0M214.1 682.3h0M242.3 672.0h0M251.4 676.8h0M261.3 664.3h0M216.5 684.9h0M240.7 698.6h0M232.3 680.3h0M259.5 676.5h0M221.6 678.6h0M247.0 695.1h0M196.9 709.8h0M239.1 670.8h0M246.3 676.3h0M216.4 683.2h0M250.2 683.1h0M240.1 684.3h0M267.9 689.7h0M213.0 695.2h0M225.3 696.7h0M234.1 680.3h0M236.7 686.5h0M235.9 694.2h0M245.8 684.0h0M245.0 682.6h0M223.8 695.3h0M214.3 691.4h0M241.3 678.9h0M225.3 679.5h0M255.0 676.5h0M235.9 682.1h0M246.0 694.3h0M240.7 677.7h0M245.9 692.3h0M204.4 697.6h0M237.4 676.5h0M256.3 675.3h0M199.6 701.8h0M229.3 661.9h0M242.0 691.5h0M244.8 677.0h0M245.0 688.7h0M251.5 681.8h0M256.5 687.8h0M245.1 666.5h0M252.4 694.1h0M205.6 688.8h0M233.1 679.4h0M250.1 694.3h0M256.8 678.3h0M257.8 673.8h0M233.6 684.6h0M254.2 676.2h0M247.8 689.5h0M238.4 670.2h0M229.9 701.4h0M203.5 699.1h0M235.0 677.3h0M243.7 691.3h0M232.8 684.3h0M239.2 676.4h0M251.5 670.6h0M240.3 688.0h0M220.9 677.3h0M262.6 674.8h0M240.6 685.1h0M255.8 670.8h0M216.3 677.1h0M222.5 679.2h0M210.2 691.4h0M253.9 666.9h0M204.0 698.4h0M203.5 713.3h0M213.9 694.7h0M211.6 696.0h0M235.3 683.6h0M263.6 663.9h0M251.7 688.8h0M225.5 673.2h0M220.7 685.6h0M176.6 704.4h0M251.7 687.7h0M230.9 679.3h0M224.5 686.5h0M232.8 696.1h0M231.3 684.8h0M250.0 684.4h0M224.6 682.4h0M236.5 693.2h0M211.4 682.1h0M231.6 685.1h0M238.4 676.2h0M235.5 684.6h0M245.1 668.1h0M226.0 697.0h0M254.8 686.8h0M241.3 688.3h0M233.0 678.7h0M251.4 679.2h0M228.6 686.0h0M218.9 683.9h0M262.2 677.2h0M245.9 678.7h0M240.8 676.6h0M231.1 677.5h0M261.8 677.3h0M236.5 678.6h0M242.6 666.5h0M265.1 675.7h0M219.7 674.6h0M208.2 686.0h0M251.8 674.2h0M248.8 668.5h0M251.6 682.9h0M233.5 683.5h0M244.6 692.1h0M237.5 677.0h0M246.9 693.7h0M215.1 691.9h0M219.1 693.2h0M226.1 682.0h0M234.9 668.7h0M228.8 696.1h0M230.3 690.6h0M228.8 692.6h0M238.3 681.8h0M251.1 674.7h0M241.3 673.0h0M241.9 684.4h0M240.8 694.3h0M229.3 666.4h0M225.2 697.0h0M262.0 664.0h0M220.7 666.5h0M230.3 683.4h0M248.7 666.7h0M226.6 676.5h0M229.0 685.0h0M254.0 670.4h0M228.0 682.8h0M244.2 684.7h0M234.2 701.7h0M242.9 679.2h0M246.3 679.8h0M232.6 691.6h0M243.3 675.5h0M219.4 699.9h0M214.9 688.5h0M215.5 688.9h0M242.8 672.2h0M232.9 672.2h0M235.8 696.3h0M241.3 683.1h0M238.1 693.0h0M233.0 686.1h0M251.7 690.6h0M227.1 681.8h0M240.1 674.5h0M223.9 680.3h0M254.3 676.5h0M235.0 670.0h0M227.6 705.4h0M225.4 692.7h0M221.3 689.4h0M232.3 670.0h0M255.9 686.2h0M242.9 669.1h0M226.0 687.1h0M246.1 673.0h0M216.4 674.8h0M234.2 677.6h0M245.2 678.2h0M236.5 684.3h0M246.3 684.9h0M193.4 681.8h0M245.7 685.4h0M234.8 697.6h0M240.5 677.5h0M218.2 689.3h0M244.7 666.6h0M220.4 697.4h0M240.2 679.4h0M231.9 682.7h0M219.1 702.3h0M245.2 677.3h0M208.3 694.7h0M195.8 686.1h0M249.6 685.8h0M209.3 688.2h0M240.3 680.2h0M246.7 690.8h0M235.5 688.2h0M249.8 681.7h0M242.3 667.9h0M256.4 695.7h0M227.7 691.4h0M245.3 676.9h0M229.7 699.6h0M226.6 674.9h0M247.1 680.5h0M242.9 677.3h0M251.8 685.4h0M254.3 660.8h0M237.6 674.2h0M257.6 682.4h0M243.8 679.1h0M219.6 695.6h0M228.6 672.2h0M249.0 676.7h0M238.2 674.8h0M232.5 677.4h0M241.1 666.8h0M224.7 698.4h0M210.4 679.0h0M241.8 690.0h0M239.3 684.1h0M226.3 668.1h0M225.1 677.3h0M225.6 675.9h0M237.5 688.4h0M231.0 678.7h0M239.6 669.6h0M262.8 674.7h0M256.2 677.1h0M217.9 684.9h0M238.0 686.4h0M252.5 678.3h0M272.9 671.4h0M238.2 688.0h0M258.6 659.9h0M232.2 694.0h0M243.1 669.1h0M244.7 685.0h0M239.1 693.6h0M243.4 667.2h0M226.0 680.7h0M240.4 691.5h0M245.2 679.0h0M192.9 697.1h0M213.2 698.2h0M248.2 680.0h0M236.5 695.3h0M241.7 683.3h0M234.5 680.9h0M249.4 678.1h0M243.1 669.1h0M248.8 678.9h0M226.8 697.1h0M220.2 688.2h0M241.3 677.3h0M245.3 675.8h0M236.7 676.2h0M257.0 681.8h0M223.7 682.5h0M247.8 684.8h0M201.5 678.5h0M249.8 663.5h0M241.6 685.4h0M258.9 683.7h0M247.9 668.9h0M217.6 689.6h0M234.2 691.2h0M243.1 671.0h0M235.9 694.0h0M231.6 697.9h0M222.0 696.0h0M249.4 674.7h0M235.8 677.4h0M233.3 670.2h0M251.9 668.4h0M238.1 693.1h0M255.4 675.5h0M224.1 675.3h0M259.2 672.4h0M235.6 678.1h0M221.3 687.0h0M231.9 682.5h0M249.9 664.2h0M261.2 678.1h0M227.4 688.7h0M251.1 692.5h0M247.5 676.0h0M213.0 695.5h0M250.0 675.4h0M230.8 682.3h0M241.4 677.8h0M241.1 676.0h0M206.1 687.5h0M248.1 672.2h0M205.1 705.7h0M227.5 691.3h0M235.9 679.2h0M247.7 694.6h0M229.4 694.0h0M253.8 676.3h0M240.0 681.0h0M229.8 687.5h0M227.1 686.1h0M221.3 674.8h0M216.2 676.8h0M244.0 670.2h0M228.0 683.7h0M222.4 672.7h0M221.6 686.8h0M256.1 680.3h0M247.3 678.3h0M227.3 695.7h0M221.9 692.2h0M238.1 688.6h0M259.9 686.1h0M224.6 695.6h0M251.1 685.4h0M212.2 691.9h0M224.6 689.2h0M217.9 691.6h0M239.7 676.7h0M239.6 689.0h0M231.6 689.5h0M254.4 679.8h0M253.3 670.9h0M220.5 686.3h0M218.6 672.8h0M237.8 682.9h0M223.4 689.7h0M246.5 666.5h0M182.0 701.3h0M226.7 700.4h0M233.5 678.9h0M271.1 681.3h0M236.6 684.7h0M243.7 675.3h0M222.1 689.8h0M258.2 677.5h0M251.1 675.9h0M208.1 693.1h0M232.8 680.4h0M230.2 671.8h0M234.8 679.7h0M242.7 693.0h0M248.0 685.3h0M221.4 690.6h0M240.5 693.9h0M243.6 695.2h0M245.0 677.8h0M246.2 689.3h0M232.4 680.4h0M252.6 684.3h0M214.6 691.3h0M233.9 668.6h0M252.5 666.1h0M211.5 690.3h0M250.2 669.4h0M226.7 682.0h0M243.2 670.9h0M244.7 692.8h0M220.5 678.8h0M252.6 684.7h0M232.8 697.7h0M236.6 680.8h0M239.2 686.1h0M235.0 689.7h0M212.3 682.9h0M222.5 689.1h0M249.7 682.6h0M233.1 692.0h0M238.5 688.4h0M238.6 670.3h0M224.2 680.8h0" stroke="#5a9cf3" stroke-width="2.2" stroke-linecap="round" fill="none" stroke-opacity="0.72"/>
<path d="M216.2 687.7h0M232.0 676.7h0M247.3 681.4h0M214.6 687.8h0M248.6 685.6h0M237.2 663.5h0M269.9 682.1h0M243.8 674.9h0M237.4 679.9h0M232.3 677.6h0M252.7 682.3h0M244.5 686.5h0M225.1 687.9h0M202.1 698.7h0M230.0 678.0h0M245.1 676.4h0M246.1 684.0h0M203.0 692.2h0M220.2 682.8h0M251.4 685.0h0M250.0 669.7h0M211.2 694.6h0M246.5 674.8h0M201.4 691.7h0M276.3 686.1h0M231.0 683.0h0M225.4 681.5h0M215.3 690.7h0M246.9 679.3h0M241.4 674.2h0M227.8 685.6h0M216.8 693.0h0M213.8 692.3h0M233.8 674.2h0M219.7 684.9h0M252.7 676.4h0M245.3 691.9h0M255.2 677.0h0M212.4 688.0h0M220.8 689.9h0M242.9 679.9h0M237.0 682.5h0M224.0 677.3h0M217.0 677.4h0M235.1 669.5h0M247.8 664.6h0M235.9 679.1h0M232.0 688.9h0M264.5 676.3h0M246.2 682.8h0M235.8 683.5h0M240.1 668.5h0M266.2 671.7h0M279.3 676.4h0M262.9 679.2h0M256.1 677.2h0M244.4 674.7h0M233.8 684.2h0M252.3 681.5h0M240.0 683.3h0M244.7 682.9h0M258.7 671.8h0M198.8 688.5h0M240.6 689.3h0M215.8 683.2h0M249.3 670.7h0M241.6 684.4h0M240.8 680.2h0M207.9 685.0h0M241.7 676.0h0M224.3 667.8h0M222.0 689.3h0M230.4 685.1h0M250.0 680.0h0M258.7 673.8h0M236.2 688.5h0M240.3 677.6h0M237.9 673.9h0M222.4 691.7h0M250.2 677.7h0M233.9 703.4h0M237.4 710.2h0M248.1 676.6h0M254.6 682.2h0M240.4 679.1h0M243.5 676.0h0M229.7 694.2h0M236.7 692.2h0M242.2 682.4h0M233.4 684.5h0M252.4 685.6h0M215.5 691.5h0M239.6 684.1h0M253.0 675.4h0M231.4 669.1h0M255.1 693.4h0M238.1 689.1h0M246.7 686.9h0M211.3 693.7h0M238.4 684.8h0M215.7 695.0h0M236.4 684.2h0M233.8 683.2h0M259.8 673.1h0M263.8 669.2h0M219.3 687.5h0M266.0 695.5h0M266.7 679.4h0M255.4 669.1h0M231.1 670.1h0M231.2 681.4h0M212.6 704.2h0M205.4 684.5h0M228.8 686.2h0M212.3 688.1h0M227.7 681.2h0M236.5 695.3h0M223.4 688.5h0M219.3 690.2h0M228.8 679.3h0M236.2 700.8h0M248.8 677.2h0M264.9 664.2h0M245.3 676.0h0M225.9 694.6h0M239.6 685.2h0M246.7 664.9h0M231.2 697.6h0M259.9 683.9h0M255.7 654.9h0M226.3 668.1h0M213.3 687.5h0M246.3 686.2h0M224.5 680.7h0M246.5 688.9h0M271.7 659.1h0M228.2 677.2h0M228.9 674.7h0M245.4 673.2h0M230.7 673.7h0M211.8 689.7h0M231.1 688.2h0M236.0 691.5h0M241.2 688.9h0M244.1 687.0h0M234.2 682.4h0M239.5 686.8h0M243.4 673.7h0M253.7 682.5h0M247.3 687.0h0M212.8 695.8h0M261.6 670.5h0M236.0 670.2h0M225.2 666.2h0M242.8 689.9h0M250.3 681.8h0M234.1 677.1h0M245.6 680.7h0M232.1 678.7h0M237.5 684.6h0M248.4 682.0h0M241.2 700.0h0M234.6 672.3h0M258.7 700.9h0M235.2 706.4h0M254.2 653.8h0M250.8 674.7h0M245.3 665.6h0M224.2 674.8h0M230.0 684.8h0M212.4 677.2h0M227.2 689.9h0M220.3 693.8h0M238.6 683.1h0M231.4 692.1h0M209.1 697.8h0M258.9 714.1h0M257.2 694.9h0M224.4 683.8h0M253.4 688.7h0M225.0 681.8h0M230.2 680.1h0M238.3 673.4h0M229.1 685.5h0M224.3 694.8h0M218.8 685.2h0M223.9 699.9h0M237.7 665.7h0M221.1 688.7h0M219.8 686.9h0M220.0 679.1h0M234.1 684.4h0M268.7 671.1h0M233.3 664.7h0M240.6 686.5h0M208.3 685.3h0M239.6 680.4h0M234.4 677.0h0M236.7 681.4h0M234.3 684.0h0M241.1 673.1h0M237.9 695.7h0M233.0 690.4h0M229.3 685.7h0M216.4 692.5h0M232.7 693.5h0M230.1 679.2h0M213.1 684.2h0M270.9 659.7h0M222.6 703.2h0M240.3 677.1h0M229.3 679.0h0M272.9 678.0h0M217.4 689.3h0M266.9 675.8h0M221.9 699.2h0M229.1 668.0h0M231.6 679.7h0M235.2 667.3h0M230.7 686.6h0M213.4 711.1h0M235.4 695.1h0M257.4 689.5h0M215.8 687.4h0M219.1 687.5h0M236.3 679.5h0M246.7 697.0h0M235.6 674.9h0M192.2 704.6h0M228.6 678.7h0M238.1 692.3h0M269.0 668.1h0M224.7 686.3h0M237.6 682.9h0M213.3 698.4h0M253.3 665.7h0M218.1 693.5h0M240.4 698.1h0M255.4 675.7h0M251.4 678.5h0M242.7 690.1h0M248.7 684.1h0M247.0 672.6h0M285.4 661.5h0M272.2 672.5h0M249.9 680.2h0M260.3 675.9h0M222.8 678.9h0M244.6 673.7h0M226.3 684.4h0M243.9 688.4h0M253.5 677.1h0M235.4 677.2h0M228.0 695.4h0M232.6 668.0h0M250.4 690.6h0M236.3 675.1h0M230.2 674.4h0M220.5 690.3h0M248.3 680.4h0M258.4 685.8h0M269.5 675.2h0M216.0 691.7h0M241.7 688.7h0M253.7 677.4h0M225.0 686.8h0M242.1 681.7h0M262.2 657.4h0M239.4 688.4h0M247.2 682.2h0M237.6 681.3h0M240.6 679.4h0M240.7 671.7h0M239.3 663.8h0M240.0 676.0h0M220.6 666.9h0M238.1 683.6h0M226.4 688.6h0M241.9 680.7h0M228.6 686.8h0M217.0 691.1h0M229.7 683.1h0M248.9 694.3h0M236.6 676.1h0M248.0 664.9h0M247.4 676.7h0M227.0 697.7h0M247.5 676.8h0M208.3 695.8h0M224.2 691.3h0M228.8 672.3h0M257.1 679.0h0M225.5 687.0h0M242.6 658.8h0M239.8 689.6h0M260.3 678.9h0M216.5 675.7h0M239.9 688.4h0M232.2 702.2h0M233.6 677.9h0M216.6 712.9h0M238.8 675.0h0M247.0 674.0h0M228.5 689.7h0M257.9 664.7h0M211.3 700.6h0M243.7 693.5h0M236.7 680.0h0M213.0 692.2h0M254.0 678.0h0M218.9 685.5h0M233.2 681.4h0M214.8 692.9h0M234.9 708.3h0M251.3 675.1h0M242.0 684.6h0M215.8 694.1h0M246.2 668.2h0M234.8 681.2h0M221.8 691.6h0M225.6 683.1h0M200.0 697.8h0M238.1 670.9h0M233.5 687.7h0M242.4 685.8h0M259.4 674.9h0M199.7 697.0h0M215.2 672.7h0M242.8 675.6h0M239.3 683.5h0M248.9 666.0h0M236.1 695.1h0M246.3 674.0h0M234.3 682.3h0M246.9 666.4h0M245.4 681.1h0M240.1 679.2h0M257.0 677.8h0M231.4 683.4h0M235.8 683.3h0M235.4 686.3h0M224.5 695.6h0M238.0 700.7h0M230.2 688.9h0M223.1 691.0h0M226.7 684.3h0M248.6 686.9h0M235.2 681.1h0M234.1 698.0h0M232.7 688.3h0M224.1 690.1h0M250.6 682.9h0M225.6 689.1h0M240.1 691.8h0M233.2 679.6h0M264.1 671.6h0M254.8 674.5h0M235.2 682.8h0M243.6 679.6h0M229.3 685.6h0M262.9 703.2h0M236.0 686.4h0M244.0 668.9h0M209.0 683.9h0M225.5 707.1h0M255.1 679.2h0M222.8 680.3h0M236.1 672.8h0M217.8 692.2h0M248.4 674.8h0M194.1 673.6h0M240.0 682.4h0M232.6 692.1h0M224.2 680.6h0M239.7 668.7h0M233.6 699.4h0M255.3 665.5h0M219.8 694.8h0M232.7 688.5h0M252.0 673.9h0M232.4 687.2h0M248.6 672.4h0M269.9 673.6h0M222.3 682.7h0M250.7 696.4h0M212.9 675.3h0M220.0 695.5h0M251.7 675.7h0M254.1 683.5h0M251.6 677.2h0M240.9 685.6h0M243.5 686.6h0M217.0 704.7h0M216.9 681.2h0M239.9 669.6h0M241.7 682.5h0M234.7 689.0h0M223.1 683.9h0M252.4 691.0h0M235.7 690.4h0M217.2 689.3h0M237.6 681.1h0M249.3 674.7h0M222.1 699.1h0M238.5 675.6h0M220.1 694.7h0M227.8 703.7h0M248.1 701.3h0M245.6 674.7h0M226.9 689.2h0M226.1 702.5h0M251.3 666.1h0M242.7 670.3h0M232.7 672.0h0M245.9 671.6h0M239.7 686.1h0M264.5 680.8h0M235.5 686.8h0M240.1 674.6h0M231.5 691.7h0M260.0 673.2h0M219.9 689.5h0M233.9 686.0h0M237.7 699.2h0M237.7 673.0h0M239.0 678.9h0M225.7 670.7h0M219.6 692.7h0M249.2 690.6h0M243.9 702.7h0M242.7 671.6h0M228.1 688.1h0M224.7 688.1h0M227.2 712.8h0M235.0 684.3h0M224.7 689.3h0M252.9 680.7h0M224.8 688.6h0M219.1 692.4h0M214.3 687.8h0M223.2 674.2h0M183.9 683.4h0M215.1 697.1h0M232.9 665.6h0M219.1 682.8h0M232.3 685.5h0M235.4 685.5h0M226.1 680.9h0M234.6 677.5h0M213.8 691.5h0M266.2 679.8h0M214.8 687.9h0M230.9 686.1h0M222.1 681.4h0M209.7 685.9h0M235.6 683.3h0M248.8 670.7h0M215.8 693.1h0M237.0 678.4h0M245.7 684.9h0M231.9 664.1h0M220.7 705.0h0M234.5 663.8h0M227.3 682.1h0M225.6 686.3h0M214.0 679.9h0M231.5 691.0h0M221.7 689.3h0M219.9 686.6h0M254.7 692.9h0M226.8 701.3h0M230.2 678.9h0M216.3 691.8h0M229.9 678.2h0M249.5 678.6h0M231.5 676.3h0M219.8 687.4h0M232.9 684.3h0M232.7 678.3h0M231.3 688.1h0M227.0 704.7h0M252.6 660.1h0M236.1 679.7h0M239.3 681.8h0M221.0 678.6h0M214.7 690.3h0M234.9 697.1h0M216.9 689.4h0M238.8 678.1h0M227.7 689.8h0M252.0 689.9h0M230.3 692.6h0M227.4 675.2h0M252.5 702.0h0M244.3 664.3h0M226.9 677.1h0M243.3 683.0h0M212.3 685.6h0M247.0 674.6h0M238.4 683.0h0M259.3 676.4h0M230.3 680.8h0M248.0 676.1h0M247.0 663.5h0M250.1 681.8h0M220.8 670.3h0M214.4 705.0h0M224.0 690.8h0M239.0 675.8h0M233.4 678.2h0M233.9 677.7h0M216.0 695.7h0M214.7 675.7h0M238.9 679.6h0M238.8 671.1h0M239.9 673.6h0M242.4 682.7h0M241.1 680.6h0M220.5 695.9h0M228.9 686.8h0M231.9 694.8h0M242.8 671.8h0" stroke="#5a9cf3" stroke-width="2.2" stroke-linecap="round" fill="none" stroke-opacity="0.72"/>
<circle cx="284.0" cy="618.6" r="2.1" fill="#9a0c0c"/>
<circle cx="290.0" cy="621.6" r="2.1" fill="#9a0c0c"/>
<circle cx="277.6" cy="625.4" r="2.1" fill="#9a0c0c"/>
<circle cx="281.4" cy="625.0" r="2.1" fill="#9a0c0c"/>
<circle cx="266.4" cy="627.0" r="2.1" fill="#9a0c0c"/>
<circle cx="265.0" cy="633.0" r="2.1" fill="#9a0c0c"/>
<circle cx="272.4" cy="636.0" r="2.1" fill="#9a0c0c"/>
<circle cx="256.6" cy="640.6" r="2.1" fill="#9a0c0c"/>
<circle cx="251.6" cy="651.6" r="2.1" fill="#9a0c0c"/>
<circle cx="249.6" cy="656.6" r="2.1" fill="#9a0c0c"/>
<circle cx="246.0" cy="661.4" r="2.1" fill="#9a0c0c"/>
<circle cx="266.4" cy="660.6" r="2.1" fill="#9a0c0c"/>
<text x="279.6" y="615.6" font-size="6.6" text-anchor="start" fill="#a82020" font-style="italic" textLength="18.8" lengthAdjust="spacingAndGlyphs">CXCL8</text>
<text x="293.4" y="623.6" font-size="6.6" text-anchor="start" fill="#a82020" font-style="italic" textLength="18.6" lengthAdjust="spacingAndGlyphs">CCL20</text>
<text x="283.6" y="628.0" font-size="6.6" text-anchor="start" fill="#a82020" font-style="italic" textLength="18.4" lengthAdjust="spacingAndGlyphs">CXCL3</text>
<text x="257.0" y="624.6" font-size="6.6" text-anchor="start" fill="#a82020" font-style="italic" textLength="15" lengthAdjust="spacingAndGlyphs">CSF3</text>
<text x="242.0" y="632.6" font-size="6.6" text-anchor="start" fill="#a82020" font-style="italic" textLength="19" lengthAdjust="spacingAndGlyphs">CXCL2</text>
<text x="270.4" y="632.6" font-size="6.6" text-anchor="start" fill="#a82020" font-style="italic" textLength="17.6" lengthAdjust="spacingAndGlyphs">CXCL1</text>
<text x="273.0" y="640.6" font-size="6.6" text-anchor="start" fill="#a82020" font-style="italic" textLength="14.6" lengthAdjust="spacingAndGlyphs">CCL2</text>
<text x="243.0" y="640.6" font-size="6.6" text-anchor="start" fill="#a82020" font-style="italic" textLength="10.6" lengthAdjust="spacingAndGlyphs">TNF</text>
<text x="243.0" y="650.0" font-size="6.6" text-anchor="start" fill="#a82020" font-style="italic" textLength="14" lengthAdjust="spacingAndGlyphs">CSF2</text>
<text x="254.4" y="657.4" font-size="6.6" text-anchor="start" fill="#a82020" font-style="italic" textLength="8" lengthAdjust="spacingAndGlyphs">IL6</text>
<text x="234.4" y="659.0" font-size="6.6" text-anchor="start" fill="#a82020" font-style="italic" textLength="10.6" lengthAdjust="spacingAndGlyphs">IL1B</text>
<text x="271.0" y="663.0" font-size="6.6" text-anchor="start" fill="#a82020" font-style="italic" textLength="14" lengthAdjust="spacingAndGlyphs">IL17C</text>
<text x="374.8" y="586.6" font-size="12.3" font-weight="bold" fill="#000">k</text>
<text x="514.7" y="591.0" font-size="9" text-anchor="middle" fill="#222" >In vivo versus in vitro bacteria-associated</text>
<text x="514.8" y="603.0" font-size="9" text-anchor="middle" fill="#222" >gene expression changes</text>
<line x1="427.0" y1="612.4" x2="427.0" y2="729.0" stroke="#cbcbcb" stroke-width="1.25"/>
<line x1="422.0" y1="612.4" x2="427.0" y2="612.4" stroke="#858585" stroke-width="0.9"/>
<text x="418.0" y="614.9" font-size="8" text-anchor="end" fill="#333" >0.50</text>
<line x1="422.0" y1="641.5" x2="427.0" y2="641.5" stroke="#858585" stroke-width="0.9"/>
<text x="418.0" y="644.0" font-size="8" text-anchor="end" fill="#333" >0.25</text>
<line x1="422.0" y1="670.7" x2="427.0" y2="670.7" stroke="#858585" stroke-width="0.9"/>
<text x="418.0" y="673.2" font-size="8" text-anchor="end" fill="#333" >0</text>
<line x1="422.0" y1="699.9" x2="427.0" y2="699.9" stroke="#858585" stroke-width="0.9"/>
<text x="418.0" y="702.4" font-size="8" text-anchor="end" fill="#333" >−0.25</text>
<line x1="422.0" y1="729.0" x2="427.0" y2="729.0" stroke="#858585" stroke-width="0.9"/>
<text x="418.0" y="731.5" font-size="8" text-anchor="end" fill="#333" >−0.50</text>
<line x1="422.0" y1="729.0" x2="602.1" y2="729.0" stroke="#858585" stroke-width="0.9"/>
<line x1="427.3" y1="729.0" x2="427.3" y2="734.0" stroke="#cbcbcb" stroke-width="1.25"/>
<text x="427.3" y="743.4" font-size="8" text-anchor="middle" fill="#333" >−2</text>
<line x1="471.0" y1="729.0" x2="471.0" y2="734.0" stroke="#858585" stroke-width="0.9"/>
<text x="471.0" y="743.4" font-size="8" text-anchor="middle" fill="#333" >0</text>
<line x1="514.7" y1="729.0" x2="514.7" y2="734.0" stroke="#858585" stroke-width="0.9"/>
<text x="514.7" y="743.4" font-size="8" text-anchor="middle" fill="#333" >2</text>
<line x1="558.4" y1="729.0" x2="558.4" y2="734.0" stroke="#858585" stroke-width="0.9"/>
<text x="558.4" y="743.4" font-size="8" text-anchor="middle" fill="#333" >4</text>
<line x1="602.1" y1="729.0" x2="602.1" y2="734.0" stroke="#858585" stroke-width="0.9"/>
<text x="602.1" y="743.4" font-size="8" text-anchor="middle" fill="#333" >6</text>
<text transform="translate(382.5,671.0) rotate(-90)" font-size="9" text-anchor="middle" fill="#222">Correlation with TBB</text>
<text transform="translate(393.0,671.0) rotate(-90)" font-size="9" text-anchor="middle" fill="#222">in participant tumors</text>
<text x="514.8" y="758.3" font-size="9" text-anchor="middle" fill="#222" >Average change after infection</text>
<text x="514.2" y="767.6" font-size="9" text-anchor="middle" fill="#222" >in cell lines</text>
<path d="M463.9 654.5h0M481.3 654.0h0M463.6 672.5h0M466.8 666.5h0M454.9 698.9h0M467.1 625.4h0M471.5 665.0h0M475.5 675.1h0M467.3 688.8h0M466.5 680.0h0M473.1 640.6h0M470.0 685.8h0M465.2 659.1h0M463.9 696.4h0M458.4 678.2h0M465.1 681.2h0M475.6 656.8h0M475.2 695.0h0M464.0 709.0h0M481.6 668.0h0M466.5 673.0h0M460.6 709.1h0M482.1 686.0h0M462.5 679.8h0M476.4 697.8h0M472.5 676.1h0M478.0 717.0h0M463.3 631.2h0M463.8 693.9h0M472.8 684.7h0M459.1 675.2h0M470.5 687.8h0M468.8 663.3h0M464.2 679.6h0M470.2 684.0h0M461.5 668.2h0M486.8 683.7h0M477.6 652.7h0M469.0 677.1h0M478.8 680.2h0M473.2 666.4h0M475.5 694.9h0M476.1 673.8h0M462.0 713.1h0M464.5 687.6h0M475.3 635.0h0M455.5 646.7h0M474.2 664.1h0M491.9 667.1h0M460.8 627.9h0M473.4 651.9h0M469.7 677.4h0M470.7 648.9h0M456.9 665.5h0M467.6 687.2h0M468.3 677.7h0M480.7 671.0h0M461.2 704.7h0M465.7 646.2h0M474.7 717.8h0M473.1 688.4h0M462.6 682.5h0M467.9 697.7h0M466.1 649.6h0M465.3 639.2h0M466.7 680.1h0M468.9 699.0h0M475.9 689.2h0M476.8 680.3h0M466.7 657.6h0M472.7 636.4h0M469.1 679.5h0M460.1 678.1h0M464.6 667.8h0M465.6 663.8h0M468.2 666.2h0M459.2 694.8h0M451.3 648.1h0M465.5 677.6h0M460.6 692.5h0M470.8 672.4h0M467.4 647.5h0M464.9 658.1h0M467.0 677.6h0M465.5 665.4h0M472.9 673.4h0M471.0 679.8h0M463.1 639.8h0M481.1 662.5h0M467.5 694.0h0M470.2 686.2h0M458.6 659.8h0M468.6 690.8h0M465.2 664.0h0M458.5 678.3h0M464.7 678.0h0M473.1 700.5h0M470.1 678.8h0M457.1 680.4h0M464.3 696.1h0M476.9 719.6h0M456.2 670.1h0M457.6 663.2h0M472.7 677.5h0M471.6 660.6h0M479.5 660.6h0M463.2 655.8h0M475.6 718.7h0M478.3 654.1h0M469.3 690.9h0M472.4 684.7h0M472.9 670.4h0M451.8 664.8h0M472.1 672.2h0M462.9 682.3h0M469.8 622.1h0M446.6 693.5h0M476.1 691.3h0M473.8 680.1h0M465.6 646.1h0M460.2 670.2h0M479.8 710.9h0M473.5 692.2h0M465.4 680.2h0M460.2 647.5h0M480.4 699.1h0M468.7 654.5h0M469.3 620.5h0M477.2 646.7h0M479.5 691.6h0M460.9 677.7h0M476.4 666.0h0M454.4 682.1h0M482.9 677.2h0M472.6 662.0h0M474.6 704.8h0M471.0 672.1h0M456.5 649.5h0M466.2 691.8h0M468.9 663.9h0M462.9 630.6h0M478.4 652.7h0M474.7 684.0h0M473.4 687.2h0M457.2 706.4h0M454.0 685.8h0M468.9 671.1h0M463.4 707.3h0M457.0 679.9h0M465.3 647.2h0M451.8 706.0h0M449.5 661.6h0M465.2 637.2h0M469.5 630.7h0M467.3 647.9h0M478.3 679.3h0M474.7 670.7h0M459.6 663.9h0M476.3 649.9h0M469.2 658.1h0M482.4 692.0h0M479.4 666.7h0M471.5 653.6h0M456.7 669.6h0M462.3 681.5h0M460.8 701.1h0M463.6 690.1h0M470.5 690.5h0M458.8 684.6h0M470.9 695.2h0M465.8 695.8h0M469.5 671.4h0M476.0 635.6h0M474.3 657.5h0M465.3 687.5h0M457.8 680.8h0M463.4 651.7h0M478.5 660.7h0M476.4 657.0h0M481.3 649.4h0M481.3 720.0h0M466.2 662.4h0M468.8 677.7h0M473.1 663.1h0M461.4 658.1h0M455.7 670.4h0M472.6 675.8h0M466.2 644.3h0M469.2 684.4h0M470.4 665.4h0M467.0 663.1h0M473.9 666.0h0M472.5 679.1h0M458.6 637.8h0M458.6 681.6h0M455.3 670.0h0M472.1 685.6h0M467.4 642.7h0M468.5 664.2h0M485.1 688.3h0M466.1 649.6h0M458.7 664.7h0M463.7 681.3h0M470.5 678.9h0M461.6 694.2h0M457.6 701.2h0M459.8 676.8h0M468.4 690.7h0M453.4 683.3h0M468.2 681.4h0M475.4 665.5h0M477.7 650.3h0M480.7 666.2h0M467.5 699.7h0M472.1 661.8h0M471.9 695.5h0M481.5 681.6h0M467.8 666.4h0M465.9 694.2h0M468.8 691.7h0M473.5 660.9h0M456.9 691.6h0M465.9 669.9h0M462.5 665.6h0M480.6 652.4h0M472.5 701.8h0M466.4 659.7h0M470.0 650.8h0M459.6 714.5h0M467.0 647.7h0M468.7 669.3h0M454.0 683.3h0M470.6 692.0h0M472.8 685.1h0M460.6 657.8h0M464.1 706.2h0M463.5 639.7h0M459.9 656.3h0M474.5 663.0h0M468.1 705.1h0M466.7 667.8h0M452.9 691.2h0M467.0 707.0h0M490.8 683.6h0M466.8 686.4h0M452.8 668.5h0M465.4 663.6h0M460.6 685.8h0M470.5 674.8h0M473.1 649.3h0M456.7 658.0h0M466.0 687.4h0M463.8 648.7h0M473.7 642.6h0M472.7 667.3h0M477.5 661.1h0M475.1 667.5h0M477.4 681.3h0M484.0 673.2h0M470.2 652.3h0M476.1 673.1h0M469.1 674.0h0M470.2 654.1h0M473.6 680.4h0M462.4 708.2h0M454.0 666.8h0M475.1 668.6h0M471.5 676.1h0M465.9 702.5h0M458.6 685.1h0M468.1 689.9h0M472.4 677.1h0M475.6 702.0h0M471.1 683.4h0M459.9 694.1h0M472.8 662.6h0M457.5 703.7h0M472.3 679.8h0M470.4 658.2h0M473.5 661.2h0M469.5 643.3h0M467.8 700.9h0M458.4 682.9h0M467.6 691.3h0M472.8 663.3h0M473.0 673.4h0M472.0 692.1h0M466.6 677.2h0M464.5 656.8h0M467.0 675.4h0M472.5 652.1h0M453.6 686.1h0M463.0 647.2h0M471.2 670.7h0M472.5 698.5h0M471.9 690.4h0M474.6 665.5h0M487.6 669.4h0M461.5 671.9h0M468.9 697.2h0M467.5 672.0h0M456.5 690.3h0M468.4 678.5h0M456.5 693.0h0M469.5 693.8h0M467.0 677.5h0M465.7 624.9h0M460.3 687.0h0M476.4 643.6h0M473.0 657.4h0M476.0 672.5h0M475.5 677.4h0M472.8 670.1h0M461.0 642.6h0M477.2 677.4h0M480.0 695.1h0M473.8 634.2h0M475.9 679.7h0M469.8 660.2h0M476.3 654.8h0M464.0 690.4h0M469.7 695.9h0M466.8 659.8h0M466.0 649.1h0M472.3 722.7h0M456.2 676.5h0M468.3 657.4h0M468.6 690.6h0M464.6 673.2h0M462.3 635.9h0M476.1 642.3h0M463.9 699.4h0M467.5 628.5h0M464.1 666.9h0M469.8 661.8h0M476.1 665.9h0M466.9 701.6h0M464.5 659.6h0M456.1 698.7h0M466.1 645.9h0M470.2 655.0h0M466.4 681.8h0M462.2 680.7h0M461.1 667.2h0M460.0 664.9h0M473.4 658.1h0M466.0 686.6h0M461.3 664.3h0M469.1 683.1h0M469.4 633.0h0M457.7 680.0h0M464.0 703.9h0M465.5 665.9h0M472.6 688.1h0M475.0 665.7h0M465.3 655.1h0M471.1 685.0h0M464.2 665.6h0M479.9 649.1h0M466.8 658.1h0M458.7 683.7h0M470.5 696.7h0M468.8 679.5h0M477.5 683.1h0M470.6 643.2h0M473.4 700.1h0M469.9 644.8h0M463.6 667.1h0M468.2 633.8h0M470.8 638.8h0M463.0 680.2h0M482.4 685.6h0M473.4 661.2h0M469.6 662.2h0M475.3 654.5h0M455.6 715.7h0M472.6 629.8h0M481.9 688.6h0M467.5 690.6h0M470.9 661.6h0M492.1 625.3h0M479.8 658.3h0M466.2 701.2h0M480.9 694.2h0M471.7 706.0h0M468.1 669.5h0M500.6 661.5h0M488.6 685.7h0M471.2 685.4h0M469.3 647.8h0M472.0 659.9h0M456.0 707.3h0M468.7 701.0h0M488.2 693.1h0M460.4 659.8h0M475.1 686.3h0M458.5 691.8h0M475.0 696.4h0M468.8 698.8h0M479.0 687.0h0M474.0 662.9h0M475.3 688.2h0M457.6 668.1h0M452.8 654.8h0M462.3 661.4h0M486.3 667.0h0M480.4 669.2h0M465.1 631.7h0M459.8 681.3h0M449.4 680.6h0M466.2 659.5h0M465.0 687.3h0M471.4 666.4h0M465.3 659.0h0M459.6 686.2h0M478.7 693.8h0M471.8 697.6h0M460.9 671.1h0M465.7 688.8h0M473.8 645.2h0M472.2 673.1h0M474.4 656.9h0M466.9 651.8h0M460.8 678.8h0M466.8 626.9h0M480.7 687.3h0M486.0 663.8h0M454.1 670.5h0M462.7 630.4h0M476.9 647.4h0M468.0 649.1h0M456.0 676.8h0M470.9 672.7h0M466.2 633.4h0M482.7 720.2h0M473.5 668.8h0M468.8 705.6h0M479.0 669.0h0M469.5 675.8h0M467.5 718.4h0M468.7 672.5h0M468.2 668.1h0M468.9 699.5h0M487.8 689.1h0M477.3 661.9h0M470.8 680.2h0M465.3 657.6h0M474.5 675.1h0M477.1 697.0h0M457.0 665.5h0M455.1 681.9h0M467.8 656.8h0M471.5 669.6h0M469.6 671.9h0M456.3 661.3h0M466.5 644.2h0M466.7 671.8h0M475.6 686.9h0M471.5 702.9h0M464.1 691.6h0M500.0 658.2h0M476.4 659.7h0M476.5 659.3h0M465.5 675.5h0M465.9 619.7h0M469.7 660.7h0M479.9 683.3h0M463.7 652.1h0M485.4 662.1h0M469.6 631.6h0M459.4 708.1h0M473.3 654.4h0M473.6 650.4h0M463.4 668.0h0M472.3 642.0h0M453.1 673.9h0M467.6 637.3h0M473.5 680.3h0M466.0 679.0h0M463.1 698.8h0M463.7 698.5h0M467.3 666.3h0M476.0 655.6h0M462.2 693.3h0M464.8 666.8h0M460.4 705.6h0M465.9 656.1h0M460.5 643.9h0M464.2 675.8h0M451.6 676.0h0M468.1 641.7h0M458.9 642.2h0M471.2 675.6h0M472.2 682.3h0M475.1 687.5h0M465.4 692.5h0M470.7 659.8h0M464.9 707.0h0M470.8 689.9h0M453.9 666.6h0M477.2 695.9h0M467.2 680.7h0M472.9 685.7h0M469.0 666.5h0M476.2 636.2h0M483.6 680.4h0M465.2 705.3h0M478.1 711.3h0M471.3 670.5h0M464.4 689.4h0M467.5 632.1h0M467.3 712.4h0M470.4 688.8h0M505.5 677.2h0M476.6 686.5h0M467.4 710.6h0M474.9 646.5h0M467.5 665.6h0M478.1 632.7h0M471.9 623.6h0M468.7 681.6h0M459.8 676.8h0M473.5 655.0h0M475.6 685.2h0M471.8 680.2h0M471.7 639.2h0M470.6 653.5h0M468.1 666.1h0M469.7 694.9h0M460.8 701.5h0M477.3 668.1h0M465.0 683.9h0M463.0 689.5h0M471.4 656.9h0M476.1 678.2h0M470.1 647.2h0M461.8 702.9h0M472.0 685.3h0M469.1 660.0h0M462.8 697.1h0M470.0 644.4h0M464.2 659.6h0M460.5 649.6h0M474.3 683.6h0M472.5 692.8h0M450.5 685.3h0M480.6 672.9h0M466.8 659.3h0M476.4 673.5h0M477.4 671.7h0M483.7 663.3h0M464.7 666.0h0M470.9 690.6h0M461.6 673.4h0M468.1 702.0h0M474.3 671.6h0M459.5 672.2h0M484.6 670.7h0M454.0 706.6h0M471.5 643.8h0M466.3 634.3h0M469.8 698.6h0M474.4 677.1h0M469.4 666.2h0M458.5 670.8h0M481.2 707.8h0M465.6 673.6h0M468.0 634.3h0M466.4 699.2h0M472.1 676.5h0M466.7 656.2h0M460.8 705.6h0M467.1 660.7h0M481.3 693.3h0M480.3 651.1h0M485.7 653.3h0M465.6 658.7h0M465.4 691.3h0M475.7 673.7h0M470.3 673.6h0M463.6 664.2h0M459.3 689.0h0M461.2 665.4h0M461.9 662.4h0M475.4 675.4h0M455.4 659.0h0M464.1 669.1h0M462.6 666.7h0M465.2 716.2h0M473.8 696.9h0M476.6 649.4h0M462.5 626.4h0M462.1 659.1h0M475.2 668.3h0M461.9 666.9h0M472.4 629.1h0M465.7 694.3h0M476.9 667.6h0M467.6 655.2h0M462.6 669.5h0M468.1 681.3h0M471.8 640.2h0M468.9 661.3h0M467.2 666.5h0M471.7 694.0h0M465.6 660.7h0M462.4 690.2h0M459.1 672.4h0M463.9 672.0h0M462.4 687.4h0M468.4 648.5h0M469.2 625.0h0M473.9 663.7h0M458.7 654.5h0M464.1 646.2h0M466.2 659.3h0M477.6 667.1h0M469.1 666.1h0M465.7 655.4h0M452.1 681.1h0M463.8 684.3h0M460.1 691.8h0M465.0 693.6h0M451.3 667.6h0M473.1 652.1h0M473.8 625.9h0M475.0 667.1h0M477.4 666.1h0M471.1 671.9h0M461.7 661.5h0M477.2 682.7h0M476.1 692.4h0M465.3 648.0h0M466.4 673.3h0M463.9 679.4h0M472.3 662.0h0M464.4 625.9h0M468.6 658.4h0M461.0 680.5h0M465.3 662.9h0M467.7 662.7h0M474.2 654.3h0M465.5 680.5h0M481.4 639.6h0M467.8 655.9h0M469.5 692.9h0M466.2 667.6h0M466.7 701.7h0M448.4 690.7h0M475.4 643.8h0M456.8 690.5h0M476.9 656.4h0M512.3 656.9h0M465.0 646.5h0M463.8 665.1h0M462.1 655.6h0M464.3 678.4h0M467.4 647.0h0M462.0 655.3h0M468.2 673.6h0M461.3 672.4h0M473.0 681.3h0M460.0 682.3h0M464.0 690.4h0M458.0 640.9h0M478.9 682.1h0M480.0 684.7h0M477.2 681.4h0M482.4 663.5h0M473.9 688.1h0M470.3 683.7h0M457.7 677.9h0M464.1 690.7h0M461.2 653.7h0M476.6 675.3h0M459.0 657.3h0M460.5 659.7h0M466.2 619.5h0M457.8 657.3h0M466.5 678.6h0M468.3 653.1h0M466.0 676.6h0M470.6 668.7h0M463.4 693.0h0M474.1 666.2h0M449.7 702.0h0M447.4 690.0h0M470.1 722.6h0M474.4 662.2h0M460.5 671.0h0M488.1 672.8h0M457.4 663.6h0M489.1 668.9h0M479.8 692.5h0M472.6 717.9h0M470.6 683.5h0M463.5 646.7h0M465.3 682.1h0M461.8 680.2h0M470.7 651.8h0M480.1 653.8h0M457.4 659.0h0M459.5 687.3h0M463.5 660.9h0M468.9 648.3h0M463.9 665.9h0M472.0 672.8h0M482.3 680.4h0M459.7 665.6h0M479.8 657.8h0M450.2 658.9h0M464.2 660.9h0M469.5 686.3h0M472.6 687.3h0M464.5 679.5h0M457.4 658.7h0" stroke="#5a9cf3" stroke-width="2.1" stroke-linecap="round" fill="none" stroke-opacity="0.72"/>
<path d="M467.5 674.9h0M469.9 642.7h0M466.3 674.2h0M467.2 697.8h0M475.3 720.9h0M468.0 678.2h0M457.6 648.5h0M473.8 661.7h0M465.3 659.3h0M472.8 698.4h0M457.8 681.3h0M474.2 690.3h0M463.3 699.0h0M469.8 671.7h0M473.8 656.0h0M456.3 679.2h0M470.8 631.3h0M475.0 655.1h0M465.8 679.8h0M514.3 650.2h0M473.2 689.7h0M463.6 636.6h0M462.3 675.2h0M462.3 670.5h0M474.7 697.3h0M467.3 673.2h0M482.2 645.4h0M467.8 623.7h0M472.0 692.0h0M458.6 686.5h0M483.7 666.9h0M454.0 675.8h0M468.4 702.8h0M475.9 653.4h0M480.3 668.5h0M473.4 696.2h0M471.6 656.8h0M463.7 675.3h0M456.2 681.2h0M465.2 687.5h0M464.4 675.5h0M470.9 686.4h0M470.0 628.0h0M466.4 685.3h0M474.0 654.0h0M474.3 683.5h0M459.4 699.1h0M462.9 653.5h0M465.6 674.5h0M473.1 692.8h0M479.8 669.9h0M471.8 665.4h0M474.2 659.9h0M466.6 685.5h0M475.9 662.3h0M458.8 638.3h0M464.8 647.6h0M465.2 636.2h0M459.4 649.6h0M456.4 695.3h0M471.7 654.5h0M467.6 687.0h0M460.5 670.9h0M515.0 662.9h0M473.0 675.3h0M457.7 653.0h0M476.0 651.3h0M470.8 699.2h0M473.3 683.1h0M466.4 656.5h0M481.2 703.3h0M466.8 692.5h0M474.9 666.4h0M462.3 662.7h0M458.8 708.8h0M463.9 687.4h0M469.4 682.5h0M486.0 647.4h0M464.1 646.7h0M476.1 667.1h0M471.2 657.2h0M461.3 664.8h0M476.2 694.9h0M466.6 684.9h0M460.3 663.9h0M460.5 667.1h0M474.3 685.7h0M481.5 665.5h0M456.1 703.1h0M480.0 671.2h0M459.8 679.2h0M477.4 662.4h0M459.0 690.5h0M470.2 663.0h0M484.5 674.8h0M479.6 693.6h0M476.6 703.2h0M474.2 626.2h0M468.8 660.5h0M476.1 655.2h0M473.4 676.5h0M471.9 638.6h0M472.2 663.2h0M467.6 656.5h0M475.9 674.8h0M477.5 640.4h0M470.2 688.7h0M475.4 676.2h0M474.0 655.4h0M475.3 694.4h0M477.8 696.6h0M464.5 720.6h0M468.5 658.6h0M452.9 664.9h0M469.6 647.1h0M469.6 698.0h0M473.1 654.6h0M452.6 672.0h0M470.1 687.7h0M462.8 626.9h0M465.9 653.5h0M475.0 690.1h0M481.1 657.4h0M455.1 690.3h0M477.7 665.4h0M472.1 692.8h0M459.7 709.7h0M457.3 678.3h0M469.5 681.2h0M484.2 683.7h0M460.2 672.9h0M462.8 664.4h0M459.1 696.9h0M474.7 650.3h0M477.5 693.1h0M478.3 670.6h0M466.9 647.4h0M480.3 671.4h0M462.1 645.1h0M461.6 626.7h0M477.1 643.7h0M453.7 666.1h0M473.3 638.4h0M470.7 659.0h0M464.3 716.6h0M469.3 681.9h0M468.2 687.6h0M453.3 656.5h0M453.6 694.8h0M462.7 661.8h0M469.6 676.4h0M459.2 626.6h0M477.7 666.1h0M463.4 648.2h0M477.4 680.7h0M469.0 691.0h0M460.9 671.6h0M483.1 673.5h0M462.7 692.9h0M459.5 666.0h0M458.2 675.1h0M469.1 703.8h0M518.9 703.0h0M457.6 687.2h0M468.5 667.9h0M465.2 675.0h0M457.6 638.9h0M466.1 648.0h0M462.8 691.1h0M464.9 661.9h0M467.2 681.5h0M464.5 676.8h0M472.1 663.4h0M475.2 678.1h0M468.7 665.3h0M474.4 654.6h0M460.8 688.8h0M462.3 651.3h0M452.9 685.1h0M468.6 670.1h0M454.8 676.8h0M471.9 672.4h0M485.8 669.3h0M469.2 695.5h0M464.6 695.9h0M465.2 656.3h0M469.9 716.7h0M466.1 703.5h0M459.8 659.1h0M465.9 718.9h0M468.9 679.1h0M472.8 686.5h0M457.8 688.5h0M455.7 668.7h0M465.0 671.0h0M472.0 649.9h0M474.9 714.8h0M467.3 705.0h0M462.5 659.6h0M470.4 670.0h0M475.7 646.1h0M464.9 715.8h0M471.6 682.5h0M472.8 655.0h0M455.7 654.2h0M468.7 659.9h0M471.3 663.4h0M462.4 683.3h0M459.3 665.3h0M469.2 637.2h0M465.8 627.9h0M452.5 698.5h0M471.3 657.9h0M470.5 663.9h0M475.8 668.6h0M460.6 691.0h0M464.4 679.5h0M473.0 686.6h0M475.4 663.5h0M464.8 676.0h0M470.7 676.2h0M483.6 674.3h0M459.2 668.5h0M461.8 684.1h0M468.1 661.2h0M460.0 675.2h0M490.7 669.5h0M464.8 658.7h0M466.5 680.9h0M463.4 708.7h0M448.8 657.7h0M464.9 662.6h0M470.9 649.7h0M473.8 650.8h0M466.1 664.5h0M455.4 690.4h0M470.1 652.5h0M467.7 649.8h0M469.8 656.0h0M465.1 663.7h0M472.2 686.4h0M470.4 721.1h0M471.2 701.0h0M471.9 671.1h0M466.9 684.9h0M461.9 683.7h0M468.9 647.3h0M493.1 678.5h0M473.7 676.1h0M458.4 685.9h0M465.4 689.7h0M467.7 652.2h0M469.7 684.1h0M460.2 676.4h0M460.9 663.1h0M474.0 682.0h0M463.0 679.3h0M482.1 689.5h0M467.4 631.8h0M473.6 682.3h0M473.3 670.2h0M465.4 676.5h0M458.9 671.4h0M465.6 649.4h0M470.5 676.6h0M466.1 698.1h0M466.9 671.1h0M476.0 653.8h0M487.2 676.2h0M472.2 662.8h0M475.7 637.4h0M460.0 681.8h0M465.9 677.4h0M446.0 686.3h0M467.0 667.6h0M469.0 679.2h0M474.9 685.5h0M458.9 686.3h0M460.7 688.5h0M467.1 631.7h0M470.4 695.9h0M450.1 684.1h0M467.0 683.8h0M463.4 696.0h0M459.4 670.2h0M461.5 677.6h0M468.9 680.2h0M475.0 676.2h0M472.1 669.0h0M473.0 675.2h0M451.9 682.6h0M470.6 681.0h0M472.5 655.3h0M464.4 670.4h0M463.1 696.6h0M462.4 661.3h0M470.5 704.5h0M463.5 682.0h0M477.3 638.0h0M453.1 642.9h0M472.6 674.3h0M472.9 655.3h0M456.2 708.3h0M469.6 664.8h0M465.1 700.9h0M468.4 686.0h0M461.6 688.8h0M467.0 660.5h0M481.5 652.4h0M464.7 678.6h0M464.7 660.5h0M469.4 664.1h0M469.2 648.5h0M501.9 676.5h0M464.6 662.5h0M461.3 677.9h0M465.7 678.8h0M473.4 665.4h0M492.9 624.2h0M464.7 677.8h0M471.7 633.2h0M466.9 644.0h0M468.7 661.6h0M467.2 691.2h0M454.9 671.3h0M464.6 657.2h0M473.9 673.4h0M467.3 708.2h0M484.7 674.3h0M507.1 662.7h0M467.4 685.1h0M466.6 698.3h0M464.1 719.9h0M465.2 657.8h0M503.8 653.8h0M467.7 673.6h0M464.4 721.5h0M477.8 661.7h0M483.3 711.3h0M467.7 652.0h0M468.5 635.5h0M471.4 702.7h0M464.5 649.7h0M460.2 648.0h0M459.5 690.6h0M463.3 658.6h0M470.6 692.5h0M481.0 681.5h0M461.2 670.4h0M463.9 666.3h0M481.5 687.6h0M468.0 656.2h0M466.2 658.3h0M476.1 640.5h0M465.8 665.5h0M446.2 677.1h0M456.3 668.4h0M468.1 685.6h0M455.2 669.7h0M457.9 680.8h0M464.8 649.7h0M472.2 654.4h0M476.3 664.1h0M467.0 667.7h0M459.6 666.3h0M474.3 669.0h0M471.6 713.3h0M465.2 632.9h0M464.4 664.5h0M458.8 668.0h0M464.1 655.5h0M463.0 698.7h0M472.5 664.8h0M466.3 652.7h0M476.7 666.1h0M467.6 662.9h0M482.4 699.8h0M463.8 637.6h0M491.3 665.5h0M478.1 710.5h0M468.0 672.1h0M520.0 667.0h0M449.2 689.4h0M465.5 671.8h0M467.0 697.4h0M485.3 687.9h0M463.6 679.6h0M467.6 680.3h0M465.8 681.6h0M475.5 680.7h0M453.7 696.1h0M460.8 651.1h0M469.5 656.6h0M473.6 629.5h0M452.3 636.3h0M461.1 644.6h0M469.1 657.1h0M479.7 705.0h0M481.0 655.1h0M459.8 683.6h0M469.0 693.3h0M463.8 649.0h0M467.1 663.3h0M470.0 635.4h0M456.3 676.0h0M458.8 691.7h0M470.6 651.0h0M474.4 683.2h0M464.1 704.0h0M468.2 657.6h0M475.3 663.9h0M465.4 674.6h0M481.6 666.9h0M480.3 642.9h0M454.0 666.4h0M455.0 705.5h0M462.9 669.2h0M487.8 667.7h0M466.3 649.1h0M470.5 656.8h0M462.0 674.4h0M467.9 645.4h0M468.9 669.6h0M464.9 667.4h0M459.2 692.4h0M479.7 627.2h0M468.2 666.2h0M466.4 657.1h0M470.5 672.1h0M473.6 682.1h0M463.2 674.6h0M471.3 673.0h0M461.4 666.6h0M470.0 622.8h0M462.4 663.3h0M470.3 699.1h0M462.1 665.7h0M515.1 661.1h0M470.0 665.7h0M470.4 686.0h0M458.3 668.1h0M474.4 705.8h0M492.0 703.0h0M465.5 677.5h0M454.6 677.9h0M468.7 701.6h0M465.4 636.0h0M470.5 645.0h0M467.1 710.9h0M473.5 667.1h0M470.2 676.1h0M453.7 663.6h0M466.0 689.8h0M485.5 645.3h0M476.0 655.4h0M467.0 649.5h0M462.5 645.2h0M486.2 657.1h0M477.9 671.1h0M482.9 668.6h0M470.6 680.9h0M461.1 639.4h0M464.0 672.6h0M490.0 663.2h0M465.4 666.7h0M469.2 647.1h0M455.6 664.0h0M472.5 690.4h0M467.0 670.5h0M458.6 697.3h0M471.8 669.4h0M478.9 666.3h0M460.5 698.0h0M478.3 658.5h0M463.5 657.7h0M461.3 677.9h0M468.0 657.3h0M464.2 646.9h0M473.2 703.2h0M475.8 662.6h0M468.8 696.7h0M476.6 685.3h0M475.3 635.3h0M467.3 680.7h0M464.3 643.5h0M463.2 657.0h0M466.3 708.6h0M468.6 677.1h0M470.6 630.3h0M483.5 650.4h0M481.4 636.2h0M465.6 675.4h0M473.4 661.8h0M468.9 651.9h0M468.4 669.8h0M475.7 692.6h0M463.7 665.3h0M471.1 671.5h0M458.3 670.9h0M465.8 625.6h0M461.4 672.5h0M466.7 691.1h0M476.0 706.0h0M483.4 649.8h0M462.6 677.5h0M464.6 665.7h0M469.7 638.0h0M471.6 694.9h0M459.8 663.4h0M476.1 666.1h0M466.1 647.4h0M464.6 673.0h0M470.3 687.4h0M474.0 656.2h0M452.0 677.3h0M453.4 673.7h0M469.8 662.4h0M468.1 702.5h0M468.9 684.4h0M473.2 701.5h0M479.2 692.5h0M459.5 684.3h0M467.4 676.7h0M458.2 661.2h0M467.2 672.7h0M468.1 678.7h0M463.8 658.8h0M465.3 714.8h0M467.4 671.4h0M461.8 664.9h0M459.4 699.8h0M471.2 668.3h0M467.9 615.6h0M468.3 637.2h0M467.6 676.7h0M475.8 693.7h0M477.7 662.9h0M472.0 687.6h0M468.1 703.4h0M475.3 687.7h0M488.1 674.1h0M479.6 673.9h0M462.1 683.9h0M459.5 699.2h0M462.1 715.4h0M467.2 656.8h0M456.5 662.3h0M476.7 668.0h0M462.8 644.1h0M464.0 701.3h0M469.5 688.7h0M470.2 662.1h0M467.6 634.0h0M465.5 662.6h0M477.7 647.6h0M474.9 655.3h0M472.3 641.2h0M472.7 634.6h0M464.9 659.8h0M473.0 656.7h0M473.6 662.6h0M470.4 675.4h0M443.3 675.5h0M484.4 695.4h0M458.6 674.0h0M477.8 651.0h0M469.5 682.1h0M476.0 681.1h0M462.3 668.4h0M468.5 636.0h0M454.6 670.7h0M467.4 658.5h0M467.6 646.1h0M477.4 693.0h0M458.6 664.2h0M458.3 670.8h0M468.9 642.5h0M460.0 660.0h0M480.1 675.0h0M479.9 704.8h0M496.3 704.9h0M467.9 704.0h0M461.0 636.7h0M474.9 633.0h0M478.3 687.4h0M460.0 667.1h0M458.9 682.0h0M466.1 677.7h0M463.4 657.2h0M474.9 693.8h0M472.7 663.9h0M484.8 684.0h0M462.6 659.9h0M450.8 682.6h0M474.6 673.5h0M475.0 660.2h0M473.9 678.5h0M480.4 650.6h0M458.4 669.8h0M475.3 665.0h0M469.7 624.2h0M461.3 657.3h0M458.0 650.4h0M468.2 679.4h0M462.2 679.2h0M463.5 659.4h0M472.9 659.1h0M468.0 681.0h0M487.9 666.3h0M468.7 705.3h0M462.1 666.1h0M471.1 690.6h0M475.6 647.1h0M466.4 692.4h0M461.9 655.6h0M477.6 656.8h0M469.3 649.5h0M472.1 684.2h0M457.3 661.9h0M467.2 665.5h0M466.6 626.2h0M474.1 670.3h0M468.5 680.2h0M458.0 673.6h0M472.7 671.1h0M474.0 677.3h0M469.3 685.5h0M464.7 659.0h0M494.1 670.2h0M455.2 685.1h0M470.4 677.4h0M481.3 687.9h0M461.8 678.6h0M462.2 676.6h0M486.3 708.6h0M473.2 662.6h0M469.3 643.0h0M455.7 684.7h0M468.8 681.5h0M470.6 649.7h0M468.2 641.5h0M465.1 647.2h0M476.3 686.2h0M465.3 669.4h0M477.0 670.7h0M452.2 644.5h0M471.1 711.9h0M474.4 698.1h0M460.6 676.9h0M472.9 655.3h0M472.7 700.1h0M471.6 704.1h0M462.5 681.0h0M482.7 633.8h0M468.9 680.6h0M472.3 699.4h0M478.0 655.0h0M474.9 717.1h0M475.1 671.1h0M467.8 651.3h0M465.0 645.1h0M472.2 645.1h0M459.0 689.5h0M463.7 695.3h0M463.5 635.8h0M458.7 665.3h0M470.5 721.6h0M468.1 648.1h0M475.5 651.6h0M476.9 660.6h0M454.4 695.0h0M467.3 660.8h0M472.8 671.3h0M471.3 672.5h0M477.1 681.8h0M469.7 641.9h0M467.0 708.5h0M485.1 661.7h0M478.7 662.3h0M472.2 671.6h0M474.9 656.4h0M463.7 695.5h0M459.8 677.0h0M460.2 656.1h0M470.0 645.2h0M459.8 675.5h0M459.5 694.4h0M465.8 682.7h0M460.0 697.3h0M476.1 624.9h0M465.6 705.1h0M472.2 664.8h0M457.9 666.4h0M462.1 664.2h0M459.9 663.3h0M462.8 690.5h0M470.7 664.5h0M480.7 656.9h0M468.8 682.4h0M462.2 656.3h0M469.4 685.6h0M463.0 653.7h0M479.4 692.3h0M461.3 665.3h0M466.8 651.2h0M468.1 664.2h0M466.2 698.1h0M469.9 646.0h0M464.7 693.4h0M461.6 667.9h0M475.2 672.0h0M460.0 641.6h0M471.5 667.2h0M469.0 656.4h0M465.8 677.5h0M468.8 708.5h0" stroke="#5a9cf3" stroke-width="2.1" stroke-linecap="round" fill="none" stroke-opacity="0.72"/>
<path d="M453.8 678.0h0M457.5 652.6h0M459.8 680.8h0M471.9 709.1h0M470.9 687.7h0M459.1 637.7h0M464.9 676.3h0M470.4 676.1h0M468.9 706.3h0M487.7 680.7h0M480.5 683.0h0M474.7 701.6h0M487.5 701.8h0M476.2 637.6h0M482.9 682.8h0M459.2 658.6h0M473.3 657.5h0M456.1 672.2h0M456.0 671.4h0M461.8 662.0h0M458.6 656.5h0M469.5 669.0h0M470.7 644.3h0M473.5 629.0h0M472.1 680.2h0M463.6 630.6h0M454.4 673.9h0M468.2 713.9h0M475.8 657.0h0M463.6 658.1h0M458.9 689.5h0M464.2 655.6h0M474.5 673.3h0M456.6 672.6h0M472.2 658.3h0M445.8 678.7h0M454.5 645.5h0M462.8 667.8h0M483.0 673.5h0M464.1 637.6h0M468.3 672.0h0M454.7 656.3h0M456.8 668.4h0M470.0 673.7h0M469.2 671.3h0M468.4 690.7h0M465.7 689.1h0M470.0 670.2h0M463.1 692.6h0M463.5 684.4h0M516.4 699.6h0M473.8 646.5h0M467.6 684.5h0M469.9 695.6h0M449.6 680.0h0M468.9 673.9h0M453.0 688.6h0M474.3 673.5h0M460.8 696.2h0M468.3 680.3h0M464.1 637.0h0M462.6 652.6h0M467.5 670.0h0M475.5 665.6h0M459.3 690.0h0M469.9 685.2h0M469.3 647.2h0M476.5 719.9h0M465.2 684.2h0M459.3 643.8h0M461.3 658.9h0M471.8 686.6h0M462.7 639.1h0M463.5 669.3h0M466.1 656.1h0M464.2 694.0h0M469.8 699.8h0M476.4 646.4h0M485.2 698.9h0M478.0 673.9h0M460.6 698.1h0M462.1 711.8h0M493.0 660.2h0M464.2 691.6h0M477.7 710.3h0M486.4 670.5h0M465.5 656.4h0M484.5 669.3h0M458.5 685.9h0M457.3 688.3h0M470.7 655.4h0M466.1 646.6h0M468.8 682.2h0M490.1 658.9h0M468.6 673.0h0M473.8 694.4h0M461.9 670.3h0M458.6 637.6h0M465.8 694.7h0M462.5 677.8h0M475.0 686.3h0M478.1 672.1h0M465.0 690.2h0M545.3 694.0h0M459.4 670.5h0M469.3 677.9h0M467.6 681.4h0M465.1 659.7h0M449.7 675.6h0M459.3 669.7h0M467.7 657.0h0M469.3 678.2h0M482.5 656.8h0M452.5 678.8h0M475.4 626.3h0M462.0 694.8h0M474.2 669.0h0M455.8 688.2h0M466.0 703.3h0M473.2 693.7h0M465.8 667.9h0M459.9 677.5h0M470.7 695.8h0M457.7 643.2h0M477.5 645.6h0M476.3 628.2h0M475.2 714.4h0M473.8 621.1h0M471.9 663.9h0M479.3 688.3h0M481.8 682.2h0M455.5 714.4h0M466.1 687.4h0M457.8 709.0h0M476.3 691.8h0M458.0 693.4h0M480.3 681.9h0M459.0 686.3h0M476.3 685.6h0M463.9 669.4h0M451.0 704.3h0M464.5 690.5h0M476.3 659.0h0M477.6 671.8h0M467.8 655.9h0M474.4 675.8h0M459.1 704.2h0M474.1 674.2h0M469.4 674.3h0M464.4 647.5h0M475.4 681.5h0M451.8 691.7h0M458.2 683.5h0M481.6 691.1h0M469.4 622.9h0M466.3 680.0h0M453.4 648.0h0M488.5 677.0h0M469.1 709.3h0M462.6 681.7h0M463.3 685.8h0M477.5 685.3h0M473.3 648.6h0M470.4 700.9h0M474.6 687.9h0M477.5 698.9h0M471.8 709.3h0M462.1 673.2h0M463.2 686.8h0M470.8 688.1h0M469.0 665.7h0M472.2 668.7h0M471.7 661.7h0M467.7 692.3h0M477.6 667.8h0M470.7 661.8h0M468.5 715.7h0M466.7 696.2h0M470.0 641.2h0M478.9 698.9h0M462.3 673.9h0M458.4 675.3h0M473.7 645.3h0M483.4 690.8h0M465.6 677.9h0M471.1 688.2h0M466.0 680.8h0M469.2 683.5h0M461.6 675.5h0M481.6 690.1h0M489.2 644.4h0M462.8 667.2h0M490.3 671.8h0M472.4 680.0h0M454.1 668.5h0M471.6 657.9h0M459.0 652.1h0M450.2 677.8h0M467.0 627.4h0M461.7 634.5h0M470.6 663.4h0M468.9 641.4h0M461.3 684.2h0M483.9 676.1h0M471.7 684.0h0M476.9 684.8h0M480.4 673.4h0M464.7 660.7h0M463.4 705.2h0M464.2 680.0h0M453.9 666.7h0M463.3 687.7h0M473.5 642.5h0M464.2 687.0h0M471.2 688.8h0M459.3 669.4h0M482.9 693.9h0M473.1 679.3h0M465.5 650.8h0M473.7 648.2h0M464.9 669.1h0M476.2 656.6h0M477.4 650.6h0M463.2 677.8h0M474.3 680.0h0M476.7 679.7h0M467.2 656.4h0M471.0 668.1h0M483.1 683.2h0M467.3 643.2h0M462.6 701.0h0M468.4 663.8h0M467.6 679.1h0M459.7 651.2h0M465.7 661.0h0M471.6 638.6h0M473.1 652.2h0M458.4 654.0h0M461.6 690.8h0M465.8 668.6h0M465.9 667.7h0M477.3 668.2h0M469.6 643.9h0M465.1 632.3h0M472.7 663.4h0M479.0 672.8h0M470.9 673.2h0M459.1 671.0h0M467.1 658.8h0M475.3 678.4h0M461.6 673.2h0M474.3 691.7h0M471.3 683.2h0M468.1 706.1h0M469.7 631.4h0M474.2 695.6h0M467.4 685.7h0M482.8 662.5h0M469.5 645.1h0M467.7 640.6h0M467.9 699.8h0M464.3 673.8h0M468.3 638.3h0M455.5 658.1h0M468.0 645.5h0M462.0 668.3h0M443.7 648.8h0M474.6 685.7h0M469.1 704.1h0M476.3 623.8h0M473.5 655.1h0M462.1 675.7h0M433.9 682.4h0M469.9 696.7h0M451.6 669.0h0M490.5 657.5h0M454.5 671.6h0M462.0 693.5h0M467.8 694.7h0M469.0 629.4h0M471.3 674.1h0M466.5 665.5h0M492.0 684.7h0M466.5 680.8h0M466.7 661.1h0M469.1 647.9h0M462.3 703.6h0M463.1 686.3h0M467.9 645.4h0M464.1 698.2h0M460.3 690.0h0M466.3 669.8h0M464.3 685.1h0M478.6 683.5h0M475.1 695.7h0M471.0 668.2h0M459.1 636.8h0M478.3 695.7h0M472.0 667.2h0M471.3 678.6h0M465.3 656.5h0M460.1 675.6h0M460.4 685.0h0M479.0 690.0h0M451.7 684.6h0M469.6 671.6h0M466.1 691.1h0M463.6 639.5h0M462.8 658.4h0M465.6 668.9h0M467.0 645.0h0M480.2 663.2h0M464.1 695.9h0M473.6 680.1h0M464.6 681.0h0M474.2 692.7h0M463.9 694.2h0M464.7 693.0h0M468.0 662.1h0M470.3 674.9h0M455.6 637.6h0M486.4 649.0h0M472.9 653.8h0M466.4 676.2h0M465.3 659.7h0M463.8 685.6h0M470.5 666.5h0M465.7 714.7h0M465.7 651.7h0M469.2 658.5h0M463.1 699.1h0M480.0 635.1h0M453.6 666.1h0M467.7 673.9h0M461.5 671.7h0M477.3 677.0h0M455.6 698.8h0M469.0 698.8h0M474.4 649.5h0M469.8 648.4h0M475.9 688.6h0M491.2 670.7h0M470.5 646.1h0M477.4 691.4h0M472.8 681.0h0M463.2 659.7h0M459.1 650.7h0M457.1 646.7h0M463.4 655.5h0M467.2 674.1h0M482.0 650.9h0M470.9 642.4h0M469.2 689.4h0M466.5 665.6h0M449.1 679.9h0M472.3 669.8h0M465.4 678.0h0M467.6 651.8h0M474.6 682.8h0M463.8 657.3h0M468.0 668.7h0M461.7 681.8h0M474.7 665.1h0M475.2 666.7h0M470.8 702.8h0M451.6 650.9h0M460.6 636.5h0M459.8 695.4h0M461.9 661.8h0M482.1 643.1h0M472.6 667.8h0M465.4 711.2h0M468.2 689.8h0M469.1 653.6h0M470.7 681.2h0M466.7 676.2h0M474.7 649.9h0M458.7 647.6h0M504.9 662.1h0M470.2 651.4h0M473.1 708.4h0M475.0 687.9h0M473.3 686.4h0M465.9 704.4h0M462.5 674.7h0M463.1 695.9h0M466.8 636.4h0M461.0 667.2h0M460.0 656.5h0M469.1 680.5h0M458.8 657.4h0M463.2 668.6h0M486.6 669.1h0M456.1 653.0h0M470.4 664.6h0M465.4 666.5h0M474.0 657.5h0M461.3 656.8h0M463.7 642.0h0M460.9 665.0h0M456.2 627.2h0M458.7 653.5h0M470.9 683.0h0M473.6 704.3h0M479.0 685.2h0M459.1 651.3h0M483.8 674.0h0M476.6 664.1h0M465.1 687.1h0M464.4 698.3h0M475.7 682.8h0M476.9 682.9h0M470.3 651.0h0M459.0 678.2h0M459.4 677.1h0M453.1 703.3h0M468.9 691.5h0M467.0 659.6h0M468.3 653.3h0M466.6 649.3h0M449.4 700.2h0M473.2 688.3h0M477.1 674.3h0M461.3 636.7h0M465.8 676.5h0M482.4 669.0h0M459.6 670.7h0M475.9 681.8h0M477.9 678.7h0M476.1 697.0h0M470.7 644.2h0M475.4 675.0h0M477.2 707.1h0M462.8 669.3h0M465.2 663.0h0M472.8 683.8h0M473.3 641.7h0M471.4 683.7h0M458.8 688.7h0M455.0 673.5h0M456.7 667.4h0M465.4 683.6h0M454.6 695.8h0M470.7 665.6h0M481.2 692.1h0M475.7 655.0h0M457.2 705.4h0M472.5 671.0h0M468.0 686.4h0M477.7 670.1h0M473.2 635.5h0M471.8 645.3h0M461.3 676.0h0M459.2 672.0h0M476.2 678.9h0M465.5 644.9h0M464.6 671.4h0M475.2 692.5h0M466.0 656.7h0M462.3 668.7h0M462.8 671.2h0M463.7 691.8h0M467.6 707.3h0M475.3 702.0h0M472.8 671.3h0M466.1 641.3h0M549.7 668.4h0M479.8 687.0h0M474.1 663.0h0M467.9 698.0h0M480.7 690.5h0M471.8 708.7h0M457.5 680.3h0M464.8 634.8h0M464.5 634.2h0M479.5 669.8h0M488.3 652.7h0M465.2 698.1h0M458.1 694.9h0M440.4 676.5h0M472.2 622.9h0M473.5 678.2h0M495.1 677.1h0M458.4 686.4h0M470.7 679.8h0M474.8 701.3h0M472.8 686.4h0M464.6 652.9h0M470.0 663.9h0M481.2 668.0h0M474.8 681.9h0M447.3 672.8h0M467.0 671.6h0M463.8 648.8h0M459.8 644.0h0M458.8 678.7h0M459.7 656.1h0M467.1 626.1h0M461.7 664.0h0M467.5 669.4h0M466.2 673.7h0M463.2 631.2h0M456.8 659.8h0M457.5 673.3h0M491.2 692.2h0M472.2 642.8h0M471.1 661.1h0M473.0 684.0h0M460.1 667.9h0M465.7 667.8h0M469.5 645.7h0M473.9 656.4h0M460.5 685.5h0M459.7 691.6h0M464.4 654.6h0M466.3 681.9h0M465.9 668.8h0M471.3 662.5h0M481.0 670.2h0M465.0 675.8h0M465.2 690.9h0M462.7 640.9h0M466.5 676.3h0M464.9 671.6h0M465.0 714.2h0M454.0 660.5h0M467.0 700.9h0M482.3 669.5h0M481.2 678.0h0M480.5 674.9h0M462.7 661.7h0M471.8 670.2h0M460.2 668.3h0M471.1 651.3h0M460.2 670.1h0M473.0 634.3h0M460.7 661.6h0M476.4 672.9h0M480.3 678.9h0M468.7 650.6h0M473.3 693.9h0M475.3 694.8h0M462.9 663.7h0M474.9 659.8h0M467.4 688.6h0M473.2 636.0h0M453.6 706.3h0M473.7 665.2h0M461.8 693.0h0M469.2 664.7h0M467.4 701.1h0M464.7 662.7h0M453.2 670.4h0M465.6 670.1h0M463.3 686.0h0M469.4 690.3h0M466.6 635.0h0M482.0 691.0h0M447.5 679.6h0M470.8 664.4h0M469.2 667.3h0M461.8 653.4h0M463.7 659.3h0M469.4 690.0h0M465.2 679.9h0M468.9 677.4h0M475.3 715.4h0M465.5 666.9h0M459.7 665.6h0M464.7 678.0h0M473.4 655.9h0M471.8 651.1h0M465.8 647.4h0M462.6 624.2h0M461.3 665.5h0M471.2 692.9h0M474.9 659.4h0M468.1 654.6h0M461.0 648.7h0M462.8 691.1h0M467.1 684.8h0M469.9 684.6h0M474.5 641.5h0M464.9 677.0h0M476.6 689.5h0M458.2 668.1h0M474.6 683.9h0M458.7 649.8h0M469.6 705.3h0M462.8 673.9h0M479.6 668.5h0M447.8 676.2h0M471.8 670.1h0M475.4 659.7h0M473.6 645.6h0M485.3 670.8h0M468.5 669.0h0M468.7 643.8h0M481.8 656.2h0M465.4 657.4h0M466.5 636.9h0M472.0 697.6h0M456.0 699.2h0M464.5 687.2h0M467.3 678.8h0M469.0 704.0h0M471.7 680.6h0M466.3 663.7h0M461.0 683.5h0M472.6 669.1h0M481.4 669.3h0M476.1 694.7h0M482.0 689.3h0M469.4 683.1h0M457.1 696.3h0M480.1 661.9h0M476.3 642.3h0M457.5 697.2h0M520.6 674.4h0M457.3 677.9h0M456.7 685.4h0M462.3 662.5h0M470.5 664.7h0M468.6 657.1h0M465.0 624.5h0M474.2 661.3h0M464.6 693.2h0M469.1 645.4h0M463.8 670.2h0M471.3 689.8h0M490.7 678.3h0M460.6 652.1h0M468.5 666.3h0M463.2 673.6h0M460.7 669.5h0M467.1 666.7h0M469.8 650.3h0M470.8 679.4h0M454.2 677.0h0M471.9 704.4h0M464.0 711.3h0M464.1 680.2h0M466.7 673.5h0M476.0 658.8h0M491.9 678.1h0M464.0 670.2h0M473.2 635.5h0M469.2 675.0h0M470.8 635.5h0M472.6 649.6h0M468.1 689.2h0M467.2 677.6h0M459.4 650.6h0M465.4 700.8h0M474.4 677.6h0M465.7 683.9h0M457.2 674.1h0M468.7 701.7h0M478.9 637.0h0M481.4 635.4h0M480.6 666.1h0M463.1 676.1h0M464.9 648.9h0M464.2 687.5h0M465.3 676.3h0M476.0 641.2h0M453.9 688.1h0M461.0 668.6h0M465.6 625.1h0M468.1 645.7h0M476.3 695.7h0M470.4 650.0h0M473.3 678.0h0M470.5 708.1h0M465.5 700.4h0M473.4 663.3h0M466.6 670.7h0M485.8 696.8h0M469.1 709.1h0M469.2 674.4h0M463.9 680.9h0M475.6 714.1h0M467.2 646.7h0M462.0 663.9h0M469.1 710.8h0M460.9 664.4h0M473.5 665.8h0M457.0 691.4h0M473.7 698.0h0M468.5 654.2h0M469.5 679.3h0M463.6 649.0h0M474.8 697.4h0M474.1 706.8h0M481.4 662.1h0M465.4 679.9h0M463.8 695.5h0M471.7 693.1h0M475.9 650.5h0M475.5 661.7h0M466.2 711.0h0M471.7 643.4h0M477.6 671.2h0M465.5 688.2h0M459.5 690.3h0M461.2 642.7h0M469.5 702.1h0M458.5 691.2h0M471.4 676.7h0M477.4 666.4h0M469.6 705.1h0M458.8 677.8h0M475.6 678.4h0M463.8 677.6h0M470.7 696.4h0M475.7 675.9h0" stroke="#5a9cf3" stroke-width="2.1" stroke-linecap="round" fill="none" stroke-opacity="0.72"/>
<path d="M464.4 642.1h0M475.3 662.0h0M468.9 719.5h0M455.1 697.1h0M470.0 699.9h0M466.9 643.7h0M472.2 656.6h0M465.6 658.4h0M468.1 676.2h0M483.5 644.1h0M478.7 689.6h0M461.4 670.7h0M481.0 662.6h0M472.4 711.4h0M479.7 657.7h0M459.1 643.4h0M468.4 650.5h0M467.3 659.7h0M470.0 690.0h0M467.1 681.4h0M472.1 657.7h0M468.4 658.7h0M512.0 683.5h0M470.8 658.8h0M488.9 646.2h0M455.3 678.0h0M473.7 692.2h0M471.8 687.6h0M485.0 668.7h0M457.4 687.4h0M458.9 719.4h0M462.0 684.2h0M462.5 678.3h0M460.1 692.7h0M467.3 626.1h0M455.9 695.6h0M476.2 649.2h0M466.5 650.7h0M461.4 685.7h0M461.6 665.6h0M463.5 713.2h0M472.5 629.4h0M464.7 648.5h0M466.8 651.5h0M469.5 681.5h0M470.5 682.7h0M469.6 667.6h0M457.0 649.8h0M478.6 675.5h0M464.8 680.4h0M463.4 681.0h0M482.8 692.9h0M473.4 673.9h0M458.6 703.7h0M465.2 700.3h0M469.9 648.9h0M453.9 652.1h0M477.9 698.0h0M475.5 631.1h0M461.8 653.7h0M456.7 648.9h0M465.1 671.5h0M493.7 699.5h0M465.9 645.7h0M470.7 667.8h0M466.2 661.4h0M467.8 685.9h0M481.2 666.6h0M466.8 692.5h0M462.1 675.8h0M463.5 662.8h0M463.4 670.6h0M465.9 646.7h0M461.4 650.6h0M468.2 654.4h0M461.0 664.9h0M473.9 684.4h0M476.1 657.8h0M467.1 700.5h0M481.1 679.5h0M470.7 695.8h0M467.2 672.8h0M477.3 661.3h0M475.1 645.0h0M461.2 698.8h0M468.5 664.8h0M467.2 633.1h0M468.8 705.0h0M461.5 668.3h0M465.8 646.1h0M462.9 697.5h0M464.0 658.4h0M485.5 682.5h0M456.8 665.6h0M472.6 686.7h0M465.8 647.7h0M470.4 677.4h0M479.0 679.0h0M468.9 682.7h0M471.6 710.1h0M460.6 632.1h0M473.1 665.0h0M461.2 693.0h0M464.4 648.4h0M476.9 656.0h0M459.8 646.3h0M457.2 645.3h0M476.4 695.1h0M464.4 663.6h0M467.9 693.8h0M490.7 685.8h0M466.4 680.5h0M462.7 669.2h0M459.0 665.3h0M464.6 638.1h0M477.0 684.3h0M483.5 658.4h0M468.0 717.8h0M464.6 662.0h0M477.9 647.9h0M461.1 686.4h0M465.6 694.0h0M470.6 659.5h0M458.4 674.9h0M468.1 660.7h0M479.0 670.9h0M458.8 648.6h0M465.5 637.9h0M469.0 707.0h0M476.7 687.2h0M466.3 704.1h0M466.5 656.1h0M468.8 635.1h0M450.9 677.9h0M476.3 664.5h0M474.5 666.0h0M476.3 681.2h0M466.3 639.9h0M462.4 711.9h0M474.3 679.3h0M469.3 683.1h0M453.5 647.8h0M468.7 686.3h0M460.5 653.2h0M471.1 678.1h0M475.4 700.2h0M461.4 655.7h0M452.6 653.9h0M469.2 694.8h0M463.6 682.0h0M475.0 685.9h0M481.3 686.2h0M468.8 664.2h0M475.2 673.2h0M466.6 686.5h0M477.1 667.4h0M467.3 676.1h0M463.5 657.1h0M468.6 670.3h0M459.3 673.8h0M471.2 675.3h0M452.3 672.4h0M462.4 632.8h0M456.0 647.1h0M464.7 676.4h0M470.6 659.9h0M469.3 642.6h0M476.5 672.3h0M473.4 645.6h0M464.9 663.0h0M471.5 646.5h0M458.2 664.4h0M466.1 676.8h0M470.5 666.7h0M466.8 652.6h0M474.7 659.7h0M469.4 644.8h0M470.3 627.8h0M464.4 708.9h0M478.6 700.5h0M462.6 673.1h0M477.6 680.8h0M463.4 648.5h0M460.1 636.1h0M473.4 668.7h0M474.1 669.3h0M468.5 686.9h0M475.0 692.9h0M471.2 645.9h0M462.8 679.5h0M468.0 663.0h0M468.7 678.9h0M469.9 647.7h0M455.1 678.3h0M464.0 636.8h0M482.7 665.4h0M458.6 679.5h0M461.0 670.6h0M464.8 649.8h0M469.3 681.2h0M475.5 682.3h0M463.2 654.8h0M484.5 672.8h0M490.3 660.3h0M467.4 640.4h0M476.5 683.0h0M468.6 635.4h0M471.9 669.1h0M473.1 677.5h0M432.0 649.2h0M469.8 660.2h0M466.9 692.0h0M471.5 680.8h0M478.4 674.3h0M464.6 654.3h0M474.0 655.8h0M473.6 651.4h0M469.4 653.1h0M468.5 636.1h0M458.3 697.1h0M458.8 650.2h0M467.1 681.8h0M476.9 701.1h0M455.8 666.6h0M476.7 685.3h0M478.6 658.0h0M476.8 708.4h0M470.2 670.1h0M464.5 694.6h0M455.6 673.1h0M464.0 670.8h0M460.2 677.1h0M468.9 637.3h0M473.7 666.2h0M484.7 685.1h0M469.2 665.0h0M459.1 690.4h0M469.7 705.1h0M481.8 659.8h0M472.1 678.4h0M461.0 672.4h0M462.3 656.1h0M474.4 647.2h0M480.3 686.7h0M464.6 707.4h0M461.5 681.4h0M463.9 691.9h0M460.3 661.5h0M485.3 696.6h0M449.4 692.6h0M467.3 672.3h0M469.3 680.1h0M462.6 688.8h0M465.9 667.0h0M466.1 662.2h0M460.3 645.6h0M484.9 698.2h0M466.7 638.2h0M481.5 655.1h0M469.4 657.2h0M475.6 679.5h0M472.0 688.3h0M465.7 697.0h0M478.3 640.4h0M466.6 678.6h0M466.0 681.5h0M474.7 685.5h0M459.3 655.6h0M472.3 709.7h0M458.9 709.3h0M454.4 698.5h0M460.0 681.4h0M462.3 663.0h0M459.0 717.2h0M464.9 673.0h0M458.3 654.2h0M465.3 700.5h0M468.1 694.2h0M473.9 674.1h0M468.2 642.6h0M475.5 657.3h0M465.6 674.1h0M462.4 657.5h0M470.1 696.8h0M458.3 668.0h0M469.6 672.7h0M462.6 688.5h0M451.6 655.7h0M465.9 693.5h0M459.2 646.4h0M474.9 654.7h0M477.2 696.7h0M457.3 714.4h0M477.0 666.8h0M477.8 674.0h0M458.5 682.6h0M467.8 680.9h0M472.7 675.8h0M464.1 673.9h0M465.2 680.3h0M470.0 672.5h0M516.5 673.3h0M478.4 676.5h0M473.5 673.3h0M466.9 647.9h0M474.2 679.2h0M478.4 688.0h0M507.5 701.7h0M463.9 662.2h0M463.2 680.0h0M468.6 650.7h0M462.4 641.4h0M468.5 672.5h0M472.9 693.4h0M471.0 639.3h0M473.6 644.8h0M458.4 672.4h0M463.2 714.8h0M468.3 714.4h0M472.1 678.6h0M463.1 657.0h0M473.8 712.5h0M469.3 709.8h0M467.2 683.0h0M468.2 703.5h0M461.9 661.7h0M486.4 685.8h0M460.9 659.8h0M465.7 668.6h0M476.3 670.7h0M468.5 654.5h0M461.6 659.7h0M468.9 696.4h0M481.7 671.3h0M485.8 654.8h0M473.4 664.0h0M473.3 662.0h0M462.4 679.9h0M468.9 673.0h0M466.1 710.9h0M464.5 691.1h0M470.3 663.5h0M475.3 655.5h0M464.7 684.3h0M457.0 689.2h0M469.7 678.0h0M474.4 696.6h0M480.3 669.6h0M469.6 628.0h0M473.7 656.5h0M482.8 652.0h0M468.3 673.7h0M460.2 717.4h0M460.4 677.4h0M467.3 692.0h0M469.9 668.2h0M465.8 663.4h0M488.1 674.5h0M473.8 682.4h0M465.0 652.1h0M468.6 676.0h0M461.7 692.0h0M461.4 678.7h0M464.0 670.5h0M463.1 634.0h0M474.4 623.4h0M449.8 692.0h0M472.6 700.6h0M495.2 677.4h0M461.1 678.8h0M470.5 707.9h0M469.3 630.0h0M459.7 682.2h0M460.3 643.2h0M463.7 659.1h0M465.4 669.7h0M468.1 675.2h0M463.0 632.1h0M458.5 673.9h0M483.6 681.9h0M461.4 676.3h0M470.5 623.1h0M476.8 662.6h0M465.0 675.8h0M476.4 686.8h0M519.8 710.7h0M466.9 683.0h0M471.9 675.1h0M463.7 666.0h0M474.5 699.8h0M462.2 677.3h0M460.4 654.5h0M458.3 682.3h0M469.2 667.3h0M460.6 680.3h0M465.2 649.9h0M471.7 664.4h0M474.3 673.8h0M463.1 631.5h0M467.8 698.5h0M481.0 675.6h0M457.0 708.6h0M482.0 654.5h0M470.0 684.8h0M467.7 648.6h0M474.3 677.9h0M471.0 707.4h0M464.4 684.4h0M473.8 707.4h0M481.0 686.9h0M475.5 670.7h0M467.7 680.0h0M464.6 656.0h0M463.2 685.6h0M466.7 642.9h0M476.3 690.4h0M467.0 671.2h0M459.0 641.3h0M469.0 686.0h0M476.6 693.7h0M457.0 672.9h0M469.3 665.7h0M464.6 680.8h0M467.2 692.8h0M474.8 706.1h0M463.7 650.3h0M460.8 676.4h0M458.8 690.8h0M466.4 680.9h0M451.3 663.9h0M475.8 683.4h0M463.5 691.5h0M465.2 657.7h0M467.8 691.6h0M468.6 665.4h0M467.1 665.2h0M477.9 709.7h0M471.2 675.1h0M462.6 673.2h0M465.8 691.0h0M475.5 672.3h0M454.9 678.8h0M475.3 700.6h0M461.6 678.9h0M474.1 685.5h0M454.9 697.7h0M467.6 689.1h0M462.2 629.7h0M463.1 652.4h0M480.0 681.2h0M465.5 703.7h0M476.2 683.1h0M481.7 660.0h0M478.6 696.5h0M467.1 652.2h0M469.7 664.1h0M487.5 716.2h0M472.9 689.0h0M477.3 662.6h0M468.2 655.8h0M461.3 679.5h0M462.3 629.5h0M458.2 676.2h0M469.2 640.5h0M514.7 669.6h0M458.6 671.5h0M461.1 643.6h0M453.8 676.0h0M471.6 645.0h0M474.7 658.0h0M466.9 640.9h0M471.6 682.0h0M481.7 658.3h0M462.9 696.4h0M456.7 661.6h0M459.7 717.2h0M463.3 676.0h0M474.8 667.5h0M475.3 703.7h0M460.7 668.4h0M459.8 686.8h0M464.4 689.6h0M458.1 695.5h0M462.0 673.8h0M472.2 687.5h0M476.9 672.9h0M466.8 630.4h0M453.1 666.3h0M458.0 684.4h0M472.8 686.0h0M467.7 638.7h0M474.8 672.2h0M458.2 707.3h0M465.2 666.9h0M470.1 660.6h0M476.7 692.6h0M461.2 655.7h0M452.8 700.9h0M454.8 684.0h0M477.4 663.8h0M465.6 644.7h0M484.6 668.9h0M469.5 644.6h0M466.6 690.1h0M459.5 685.0h0M450.7 652.5h0M454.8 653.4h0M473.2 647.4h0M458.8 681.6h0M472.3 682.4h0M471.5 665.0h0M493.2 656.2h0M469.9 667.4h0M474.1 677.9h0M471.8 673.8h0M459.9 686.7h0M466.7 684.4h0M471.3 662.5h0M469.2 661.1h0M464.2 635.8h0M456.2 665.1h0M472.4 669.4h0M455.7 640.5h0M519.1 681.8h0M467.1 677.0h0M463.3 650.4h0M473.7 646.4h0M470.7 699.1h0M470.3 665.1h0M464.8 675.0h0M469.2 671.9h0M487.5 706.4h0M469.5 658.5h0M471.5 655.0h0M469.0 668.1h0M466.7 699.0h0M475.1 697.9h0M461.6 695.4h0M468.0 649.6h0M470.7 687.8h0M445.6 665.8h0M463.6 719.0h0M480.1 680.9h0M516.5 660.3h0M469.8 643.7h0M465.8 674.4h0M473.7 695.3h0M462.4 691.4h0M456.3 635.3h0M477.1 660.7h0M471.5 650.4h0M461.6 643.1h0M475.5 699.4h0M461.2 639.9h0M466.5 678.3h0M460.3 650.3h0M464.9 674.8h0M477.1 659.0h0M452.3 663.1h0M453.1 710.4h0M462.2 653.8h0M472.8 694.9h0M457.7 652.1h0M466.0 627.5h0M472.8 694.3h0M468.4 687.6h0M479.3 654.3h0M458.7 634.6h0M462.0 672.1h0M458.2 661.1h0M467.7 683.2h0M474.8 700.4h0M460.2 650.9h0M464.6 698.1h0M465.9 627.6h0M483.6 705.8h0M465.9 717.8h0M471.8 707.4h0M477.7 647.4h0M467.8 629.5h0M467.6 687.4h0M460.3 677.0h0M475.7 659.4h0M467.8 636.9h0M469.3 671.3h0M467.1 655.8h0M459.1 637.3h0M483.0 673.2h0M462.5 671.4h0M476.6 681.5h0M468.3 681.2h0M461.1 672.2h0M456.3 661.5h0M462.3 676.3h0M453.6 657.7h0M493.1 654.9h0M471.2 652.1h0M472.6 622.0h0M470.4 660.5h0M474.5 658.5h0M468.1 696.8h0M460.3 676.6h0M469.3 694.4h0M559.5 676.5h0M465.6 656.0h0M474.5 678.7h0M462.8 661.8h0M471.8 675.9h0M471.9 629.2h0M471.1 665.6h0M460.0 696.3h0M453.6 706.9h0M474.6 655.9h0M469.4 685.9h0M461.0 665.1h0M465.6 662.6h0M464.7 672.3h0M465.7 657.6h0M457.8 680.1h0M464.3 699.4h0M469.4 677.8h0M465.9 643.7h0M471.4 691.4h0M453.9 713.4h0M454.2 682.6h0M460.8 698.3h0M462.4 654.5h0M458.9 679.8h0M479.8 665.1h0M465.9 700.8h0M473.2 689.7h0M471.2 627.5h0M460.0 692.6h0M480.4 669.6h0M462.6 654.1h0M468.1 684.6h0M467.1 688.3h0M473.6 666.6h0M456.4 683.0h0M468.4 694.6h0M470.3 635.0h0M462.5 655.8h0M477.6 701.1h0M469.1 699.4h0M465.6 708.7h0M472.4 647.2h0M451.4 680.5h0M457.6 705.4h0M469.1 670.3h0M469.6 631.8h0M480.9 656.0h0M463.2 670.5h0M467.4 659.6h0M470.1 689.7h0M473.3 692.3h0M458.4 667.6h0M466.9 678.6h0M471.6 651.6h0M469.6 680.0h0M470.7 653.2h0M475.1 688.1h0M484.8 665.4h0M456.9 685.3h0M477.0 669.1h0M473.9 647.7h0M472.7 621.3h0M475.1 659.7h0M472.3 678.8h0M459.6 628.5h0M457.4 709.1h0M467.8 635.9h0M477.9 686.3h0M464.9 681.0h0M458.0 663.9h0M466.9 701.5h0M457.5 669.4h0M464.3 682.9h0M466.2 698.2h0M465.3 655.2h0M472.7 657.2h0M471.4 663.2h0M450.3 645.7h0M478.0 660.9h0M456.0 687.0h0M475.6 657.1h0M470.2 646.3h0M466.9 685.2h0M466.6 697.7h0M474.3 670.3h0M466.0 690.6h0M462.8 652.3h0M468.5 707.4h0M462.7 671.5h0M460.5 692.4h0M476.3 714.3h0M449.4 707.7h0M498.1 667.6h0M466.7 630.7h0M466.0 633.8h0M473.9 681.9h0M473.3 699.8h0M472.9 629.7h0M461.8 677.7h0M467.7 653.6h0M473.9 641.6h0M464.6 714.5h0M493.3 682.0h0M449.1 687.7h0M468.7 660.8h0M469.1 671.0h0M467.9 651.2h0M459.0 681.1h0M465.6 664.4h0M460.0 693.0h0M465.7 700.8h0M465.4 650.4h0" stroke="#5a9cf3" stroke-width="2.1" stroke-linecap="round" fill="none" stroke-opacity="0.72"/>
<path d="M473.9 656.2h0M461.6 666.4h0M456.4 655.1h0M463.7 694.6h0M468.8 673.3h0M456.9 673.9h0M459.5 694.5h0M469.5 670.4h0M465.5 693.9h0M471.7 671.2h0M454.3 707.4h0M478.5 656.4h0M474.0 673.3h0M462.1 652.5h0M486.6 669.9h0M477.2 672.9h0M464.4 688.1h0M470.3 639.4h0M461.8 660.9h0M463.0 648.2h0M466.1 657.7h0M449.9 662.4h0M466.9 681.1h0M477.9 657.7h0M467.0 669.5h0M467.4 644.1h0M470.4 684.4h0M464.3 663.8h0M462.8 691.7h0M469.4 648.0h0M469.3 690.9h0M473.4 642.5h0M468.6 660.8h0M456.3 677.2h0M473.6 670.6h0M463.8 645.2h0M463.1 697.6h0M468.0 624.8h0M467.4 670.1h0M468.5 678.0h0M461.9 640.2h0M462.1 648.8h0M461.6 670.4h0M474.5 657.4h0M455.0 656.3h0M467.7 670.8h0M458.2 671.6h0M454.6 672.8h0M470.5 664.8h0M473.9 652.7h0M468.1 691.0h0M465.9 670.2h0M473.4 628.2h0M470.1 686.9h0M482.8 687.1h0M453.8 662.4h0M477.9 706.4h0M472.6 665.7h0M464.7 713.6h0M483.3 677.6h0M476.9 645.1h0M452.7 661.5h0M457.0 679.6h0M462.4 649.2h0M480.8 663.0h0M480.6 681.5h0M466.7 666.5h0M478.7 694.4h0M478.2 650.3h0M475.2 639.6h0M450.2 655.8h0M482.7 665.6h0M481.9 681.4h0M458.0 664.1h0M466.8 642.9h0M473.7 671.4h0M482.8 663.3h0M476.7 689.0h0M459.3 639.6h0M459.4 685.9h0M468.6 662.6h0M446.7 638.0h0M457.1 701.1h0M465.6 701.5h0M465.7 665.2h0M463.2 690.4h0M459.1 671.9h0M536.5 661.4h0M464.7 693.9h0M462.5 646.7h0M461.0 695.9h0M454.0 656.0h0M461.8 659.8h0M470.7 653.8h0M481.6 694.8h0M474.0 654.3h0M515.5 644.9h0M464.4 678.2h0M454.9 662.9h0M464.0 661.6h0M457.0 701.0h0M462.3 641.9h0M462.5 687.9h0M457.8 686.2h0M456.5 663.9h0M468.6 659.0h0M467.5 664.1h0M467.2 680.9h0M456.7 655.5h0M476.0 691.3h0M474.9 662.8h0M469.5 634.0h0M470.8 653.2h0M465.1 656.8h0M474.1 649.4h0M481.1 663.6h0M467.5 659.4h0M472.3 650.6h0M458.2 653.9h0M449.6 701.5h0M471.0 647.4h0M469.0 675.2h0M448.8 694.2h0M456.6 666.4h0M456.5 662.9h0M470.0 682.8h0M467.4 710.1h0M474.5 643.6h0M476.7 689.6h0M482.5 702.7h0M472.8 682.0h0M468.3 667.2h0M458.8 669.6h0M466.5 665.7h0M466.3 685.5h0M474.6 683.0h0M468.8 671.4h0M484.3 717.4h0M473.3 682.7h0M464.1 680.2h0M478.1 676.2h0M468.1 689.0h0M473.1 701.5h0M464.3 707.7h0M470.5 673.1h0M479.7 663.3h0M459.9 679.2h0M460.1 701.5h0M466.7 692.8h0M469.5 658.2h0M490.4 672.5h0M461.8 664.7h0M463.4 702.3h0M475.0 675.6h0M465.7 671.0h0M470.7 666.8h0M468.2 640.5h0M483.0 683.6h0M467.6 670.6h0M469.4 664.4h0M476.1 676.7h0M460.6 693.6h0M464.8 663.8h0M474.5 647.8h0M476.3 665.6h0M451.8 698.8h0M464.3 680.8h0M467.3 679.2h0M476.3 660.7h0M477.4 696.9h0M455.3 648.5h0M466.8 656.5h0M468.8 649.6h0M456.3 638.2h0M449.9 699.3h0M465.9 689.1h0M483.6 689.4h0M459.4 710.1h0M460.7 650.6h0M475.7 654.2h0M459.1 659.3h0M452.2 685.2h0M460.6 647.3h0M461.7 656.1h0M461.4 657.9h0M483.6 680.8h0M470.6 705.2h0M470.2 694.9h0M466.3 655.0h0M463.3 679.5h0M479.2 672.0h0M476.3 711.0h0M466.5 664.5h0M453.1 699.0h0M475.0 684.5h0M469.3 660.9h0M448.9 692.6h0M468.0 652.3h0M480.2 649.6h0M458.5 660.3h0M468.6 615.5h0M457.0 683.9h0M474.8 633.2h0M468.7 682.4h0M467.4 671.4h0M470.6 676.8h0M457.4 646.1h0M475.5 687.8h0M465.8 669.9h0M485.3 649.5h0M474.6 721.9h0M463.4 686.8h0M474.8 656.4h0M467.6 679.9h0M466.0 661.5h0M468.1 667.9h0M461.6 656.5h0M469.4 688.2h0M470.6 674.5h0M471.9 659.8h0M459.6 666.0h0M473.2 650.2h0M472.1 657.7h0M475.3 674.8h0M468.0 673.1h0M457.8 679.0h0M470.0 637.0h0M465.2 662.8h0M472.4 673.3h0M464.1 664.2h0M468.2 704.6h0M465.7 628.0h0M477.1 682.7h0M472.6 720.7h0M474.7 683.5h0M461.7 699.2h0M487.2 654.8h0M457.9 694.8h0M460.2 670.2h0M459.0 663.3h0M470.7 709.9h0M455.8 660.4h0M458.5 667.3h0M462.5 644.1h0M484.3 656.7h0M462.4 681.9h0M468.1 684.8h0M462.6 712.6h0M464.9 671.4h0M462.4 649.2h0M462.3 706.8h0M475.6 669.9h0M466.6 684.8h0M460.7 709.7h0M464.1 687.9h0M470.5 672.1h0M467.1 688.9h0M469.8 686.7h0M474.4 694.6h0M476.8 655.1h0M463.2 663.9h0M453.0 702.3h0M473.6 665.4h0M473.3 651.4h0M465.1 666.4h0M476.1 683.2h0M468.6 692.2h0M469.2 709.8h0M464.1 654.6h0M467.8 638.1h0M457.9 677.6h0M476.9 660.0h0M475.1 679.2h0M458.9 653.7h0M483.7 653.3h0M480.2 671.8h0M468.6 712.3h0M481.6 662.8h0M510.3 678.3h0M470.0 669.6h0M464.9 658.2h0M474.7 693.8h0M464.6 698.7h0M470.2 649.3h0M460.1 631.3h0M489.0 693.2h0M464.0 652.8h0M470.7 681.1h0M464.8 664.3h0M466.1 661.8h0M470.7 656.7h0M481.7 719.6h0M462.7 686.0h0M465.8 654.5h0M457.7 664.5h0M493.0 645.5h0M469.4 645.3h0M467.7 682.1h0M470.4 684.5h0M466.9 652.0h0M476.1 656.2h0M473.9 632.8h0M451.7 683.9h0M489.8 667.0h0M479.5 705.2h0M466.1 662.9h0M477.3 678.2h0M517.7 681.2h0M464.3 664.5h0M479.1 639.6h0M461.8 653.3h0M478.6 689.2h0M467.4 680.6h0M466.7 641.2h0M471.6 664.3h0M466.4 703.1h0M489.7 694.3h0M473.8 687.4h0M464.6 672.6h0M466.6 651.9h0M461.0 654.2h0M470.9 663.4h0M465.4 679.2h0M458.6 656.2h0M475.0 646.6h0M484.5 666.4h0M468.9 666.6h0M457.7 714.3h0M470.3 692.6h0M465.6 659.7h0M463.1 688.6h0M466.3 641.6h0M463.5 702.5h0M468.7 649.2h0M473.0 674.9h0M461.5 689.5h0M478.6 702.6h0M469.2 693.6h0M465.5 686.1h0M476.0 680.0h0M468.8 668.3h0M470.7 670.0h0M459.7 673.1h0M472.4 651.8h0M465.6 714.5h0M465.7 651.8h0M465.8 711.8h0M484.1 678.1h0M457.4 656.4h0M492.1 680.2h0M468.4 680.3h0M470.7 670.3h0M463.5 655.2h0M476.5 690.9h0M470.8 704.8h0M505.3 686.6h0M458.1 661.1h0M466.7 654.6h0M467.1 652.0h0M478.0 645.7h0M473.9 665.1h0M484.1 672.2h0M486.1 693.1h0M461.4 620.9h0M457.2 665.1h0M471.5 693.5h0M469.9 693.7h0M466.6 643.0h0M465.2 645.1h0M470.4 710.3h0M465.7 662.7h0M456.0 667.8h0M477.5 682.1h0M462.2 656.2h0M456.5 690.5h0M458.2 676.8h0M456.1 659.5h0M463.0 677.2h0M458.8 660.3h0M472.8 679.9h0M470.0 677.0h0M466.8 657.1h0M464.6 673.4h0M461.2 652.7h0M473.0 666.6h0M476.6 668.3h0M505.8 696.5h0M464.8 665.8h0M465.4 683.2h0M457.0 673.5h0M472.5 678.0h0M467.6 712.7h0M456.2 694.0h0M481.9 668.1h0M464.0 665.7h0M468.1 651.9h0M482.5 658.5h0M489.1 685.3h0M468.2 653.4h0M473.6 667.6h0M464.9 665.1h0M456.9 664.6h0M456.9 625.8h0M480.5 681.2h0M463.6 617.1h0M469.0 705.3h0M463.6 704.4h0M452.2 656.6h0M458.1 661.0h0M463.0 662.2h0M472.8 677.8h0M459.7 658.0h0M462.5 687.9h0M460.2 655.6h0M485.5 674.3h0M471.2 666.0h0M459.3 685.4h0M457.1 632.2h0M470.0 671.2h0M482.9 673.4h0M459.5 663.5h0M470.4 706.2h0M470.0 625.1h0M468.7 653.3h0M463.4 626.9h0M468.1 641.3h0M472.5 666.8h0M462.4 676.0h0M465.3 636.7h0M461.6 672.0h0M482.2 660.6h0M465.6 694.9h0M471.3 670.4h0M463.2 680.2h0M475.2 675.5h0M477.4 667.3h0M469.7 640.4h0M466.8 668.2h0M464.6 682.2h0M456.7 649.5h0M468.0 663.3h0M492.1 687.6h0M468.1 695.4h0M465.8 675.5h0M468.8 637.8h0M459.1 639.0h0M473.7 653.2h0M473.3 681.7h0M460.3 704.8h0M468.3 666.3h0M478.2 681.7h0M468.0 652.4h0M478.8 665.2h0M470.5 676.8h0M469.7 686.8h0M463.7 619.1h0M469.5 630.2h0M459.6 673.4h0M471.5 720.4h0M459.7 662.6h0M467.7 703.3h0M457.8 660.8h0M475.0 700.4h0M473.1 650.5h0M462.5 672.8h0M464.0 686.3h0M469.4 676.7h0M514.6 703.9h0M490.1 686.6h0M451.1 684.5h0M465.5 687.6h0M461.6 690.2h0M468.5 694.7h0M471.2 645.2h0M471.5 677.1h0M453.6 677.4h0M457.3 674.4h0M469.0 660.9h0M468.8 699.2h0M463.3 672.1h0M464.4 662.0h0M485.5 685.6h0M496.9 653.6h0M479.6 654.0h0M462.0 637.0h0M466.2 674.1h0M454.2 668.6h0M464.9 694.0h0M467.9 673.0h0M460.5 683.6h0M471.7 693.9h0M463.2 665.6h0M471.4 696.6h0M460.3 651.4h0M465.2 650.9h0M469.2 677.2h0M460.6 718.3h0M479.3 667.9h0M477.8 671.3h0M462.1 639.3h0M475.6 690.4h0M464.9 668.5h0M468.5 705.4h0M469.4 688.3h0M460.9 676.3h0M478.2 675.7h0M456.7 670.0h0M474.3 665.0h0M465.8 663.1h0M464.2 666.8h0M463.8 707.7h0M464.1 720.1h0M460.0 673.5h0M473.7 717.1h0M461.2 690.6h0M462.3 693.3h0M470.4 699.8h0M471.1 655.4h0M471.4 643.5h0M470.8 665.8h0M468.7 671.9h0M471.0 658.5h0M465.0 685.8h0M457.2 656.6h0M481.9 663.3h0M466.0 694.2h0M469.6 678.4h0M469.9 695.1h0M469.4 666.5h0M467.4 654.0h0M476.4 705.6h0M455.4 669.3h0M465.0 674.4h0M463.5 678.2h0M469.2 659.1h0M459.2 691.1h0M476.6 662.7h0M464.4 671.1h0M465.3 625.5h0M463.9 658.5h0M459.3 711.3h0M470.9 658.4h0M468.9 695.1h0M465.0 686.7h0M479.9 681.7h0M471.9 666.3h0M459.9 675.2h0M472.2 660.1h0M480.5 700.3h0M475.5 663.1h0M462.6 656.2h0M477.7 694.3h0M475.2 669.2h0M462.8 668.5h0M456.7 665.9h0M471.5 675.5h0M468.0 660.3h0M466.0 685.3h0M472.6 683.3h0M458.8 667.0h0M472.4 678.6h0M461.9 669.3h0M466.4 703.5h0M468.7 641.9h0M473.1 664.4h0M454.5 700.8h0M473.2 695.2h0M464.6 694.0h0M471.5 645.3h0M469.4 679.5h0M470.2 716.2h0M468.3 698.4h0M480.7 679.3h0M490.3 655.6h0M466.3 659.8h0M469.4 670.5h0M459.6 702.6h0M469.7 659.9h0M469.5 666.2h0M482.0 680.0h0M462.9 696.9h0M519.9 682.0h0M482.5 663.1h0M476.8 689.8h0M463.3 618.3h0M463.6 664.1h0M466.5 665.4h0M466.5 690.3h0M473.4 694.3h0M462.3 657.4h0M462.0 692.4h0M475.4 705.3h0M468.9 674.6h0M450.1 643.2h0M462.1 646.1h0M460.7 658.0h0M456.0 634.3h0M516.6 678.0h0M457.0 694.5h0M474.1 670.1h0M473.7 640.9h0M479.9 710.6h0M460.6 682.2h0M460.7 663.3h0M514.2 665.1h0M467.0 685.6h0M462.9 706.2h0M469.9 649.1h0M472.5 682.3h0M462.9 667.0h0M478.7 675.6h0M467.5 688.8h0M464.2 648.9h0M451.2 664.9h0M469.3 642.9h0M465.8 681.1h0M466.0 670.4h0M474.6 684.9h0M467.2 670.7h0M465.7 694.9h0M470.1 663.8h0M466.8 665.5h0M470.7 680.7h0M471.1 678.1h0M486.2 710.2h0M458.9 683.9h0M465.2 641.6h0M466.9 651.1h0M471.0 704.9h0M455.5 678.8h0M456.7 683.9h0M467.6 674.0h0M481.4 660.8h0M465.5 684.3h0M474.8 714.8h0M464.9 690.7h0M476.6 674.9h0M456.8 682.1h0M493.9 648.5h0M452.7 683.4h0M475.3 627.7h0M469.1 684.7h0M469.1 655.9h0M462.1 664.2h0M474.9 676.0h0M463.2 660.2h0M479.4 684.3h0M459.5 646.2h0M459.3 655.9h0M476.4 690.8h0M476.9 694.7h0M466.6 643.5h0M466.5 652.4h0M482.3 681.7h0M468.5 677.2h0M453.0 707.5h0M478.7 693.1h0M477.8 687.0h0M468.7 679.0h0M475.2 689.2h0M463.8 689.7h0M473.5 680.1h0M467.0 653.4h0M466.9 676.3h0M458.4 672.1h0M461.0 634.0h0M477.6 653.9h0M470.0 659.2h0M483.5 670.9h0M464.4 662.9h0M491.0 680.6h0M463.1 667.3h0M455.6 682.9h0M482.2 668.6h0M473.5 655.5h0M461.0 652.3h0M465.4 653.9h0M469.5 648.8h0M480.6 683.5h0M466.9 668.2h0M471.2 686.8h0M469.4 647.8h0M468.0 653.8h0M471.5 622.2h0M458.6 682.1h0M470.0 702.3h0M460.1 686.5h0M478.2 672.6h0M463.9 682.6h0M471.7 686.4h0M465.3 679.4h0M474.2 667.6h0M469.8 644.9h0M462.8 644.4h0M458.4 685.7h0M466.3 692.7h0M472.1 702.3h0M456.8 681.1h0M487.9 636.9h0M478.6 666.9h0M467.9 665.6h0M454.3 686.9h0M474.4 650.6h0M462.6 714.4h0M486.8 680.0h0M488.2 671.4h0M467.5 685.3h0M473.3 680.8h0M481.5 693.8h0M461.7 660.1h0M464.3 617.5h0M452.6 682.3h0M477.8 669.7h0M459.4 660.0h0M466.0 644.7h0" stroke="#5a9cf3" stroke-width="2.1" stroke-linecap="round" fill="none" stroke-opacity="0.72"/>
<path d="M478.9 658.7h0M473.5 712.4h0M468.3 683.3h0M470.9 663.8h0M476.9 678.9h0M460.0 660.1h0M473.3 671.6h0M474.4 667.7h0M459.9 647.2h0M465.8 656.3h0M476.6 661.3h0M457.3 676.9h0M464.0 641.5h0M480.8 690.5h0M474.7 660.4h0M462.4 710.2h0M460.7 682.1h0M461.0 675.1h0M462.1 685.2h0M461.4 693.6h0M474.0 655.9h0M460.2 713.6h0M460.8 687.2h0M468.8 630.1h0M468.1 674.0h0M462.5 665.9h0M470.2 654.2h0M464.2 696.3h0M460.4 670.1h0M463.2 698.1h0M470.3 715.3h0M469.1 683.8h0M460.2 672.0h0M461.1 698.2h0M470.5 684.6h0M478.5 683.8h0M466.3 658.5h0M466.3 679.0h0M454.4 663.8h0M458.7 676.7h0M459.8 680.5h0M466.2 705.3h0M484.0 665.1h0M477.0 686.8h0M466.1 681.5h0M458.0 681.3h0M467.6 650.6h0M459.2 717.9h0M468.7 664.6h0M519.7 675.6h0M468.3 654.1h0M475.9 654.6h0M469.3 689.6h0M457.0 664.6h0M468.7 654.4h0M465.9 669.6h0M468.1 651.4h0M475.6 676.7h0M456.6 648.1h0M468.4 628.6h0M476.4 643.1h0M449.9 682.7h0M460.9 670.5h0M459.5 684.4h0M462.3 680.2h0M465.7 666.8h0M486.2 676.5h0M465.8 673.7h0M467.8 677.2h0M468.0 678.5h0M469.2 682.9h0M455.5 680.2h0M463.2 665.5h0M478.3 678.8h0M466.5 674.2h0M475.6 698.1h0M466.6 677.4h0M473.9 654.2h0M477.5 651.4h0M463.4 696.8h0M470.2 670.3h0M474.0 665.4h0M465.1 645.7h0M464.6 671.2h0M471.6 614.0h0M460.4 699.9h0M466.2 646.1h0M473.0 660.1h0M454.7 682.2h0M468.8 681.5h0M465.6 659.4h0M478.0 692.1h0M465.7 632.6h0M458.6 654.3h0M496.8 673.2h0M467.9 661.0h0M469.3 693.9h0M470.3 653.9h0M475.4 692.3h0M460.5 681.0h0M461.7 662.8h0M458.7 710.5h0M466.0 691.0h0M473.2 634.7h0M462.3 680.4h0M462.7 666.4h0M461.5 651.3h0M469.9 655.9h0M458.2 649.0h0M471.7 713.7h0M459.1 692.9h0M473.1 673.2h0M477.0 651.9h0M469.8 678.5h0M472.5 655.4h0M487.6 667.2h0M478.9 677.0h0M502.3 657.4h0M464.6 672.0h0M488.2 697.5h0M468.7 672.3h0M457.3 672.0h0M463.7 643.2h0M459.1 614.6h0M482.0 668.4h0M466.9 656.7h0M474.7 689.9h0M464.1 647.7h0M470.4 668.9h0M467.9 690.7h0M460.6 670.3h0M463.9 657.3h0M458.6 673.0h0M469.5 694.6h0M476.8 693.4h0M461.9 688.6h0M466.2 674.9h0M453.1 671.5h0M473.3 654.4h0M466.6 650.1h0M470.2 678.3h0M458.8 658.0h0M460.8 693.7h0M477.4 653.4h0M467.9 689.1h0M459.1 655.5h0M479.5 680.9h0M465.6 709.1h0M475.1 658.3h0M475.1 700.5h0M486.2 647.3h0M457.6 655.0h0M471.5 654.4h0M466.9 642.7h0M472.0 655.4h0M464.5 651.4h0M463.2 700.3h0M476.9 678.4h0M469.8 673.2h0M448.6 669.2h0M465.0 666.7h0M460.3 690.4h0M476.4 687.3h0M471.4 650.3h0M452.7 678.2h0M474.3 682.8h0M467.6 652.1h0M468.5 683.0h0M464.2 643.0h0M487.8 683.6h0M451.7 675.0h0M463.3 654.6h0M465.2 687.4h0M466.0 672.0h0M452.0 667.7h0M467.0 701.8h0M451.6 659.2h0M479.3 674.9h0M469.9 669.7h0M460.2 692.4h0M489.9 681.8h0M466.8 677.9h0M452.2 677.1h0M480.5 666.4h0M467.7 692.2h0M467.9 672.3h0M464.5 627.5h0M463.2 650.9h0M468.8 681.9h0M465.7 689.2h0M469.2 660.4h0M478.4 666.6h0M461.1 643.8h0M464.4 676.7h0M460.6 697.3h0M465.8 681.2h0M465.2 667.5h0M477.5 678.0h0M460.0 672.5h0M473.7 671.2h0M469.7 643.8h0M487.3 701.7h0M463.2 637.0h0M471.9 656.7h0M469.7 671.4h0M448.8 690.2h0M461.0 659.2h0M462.0 708.0h0M469.3 676.5h0M478.8 683.0h0M457.5 680.1h0M455.7 669.7h0M464.4 658.2h0M465.9 672.9h0M467.7 694.8h0M474.7 649.5h0M470.1 670.4h0M465.7 653.9h0M472.8 662.6h0M460.7 650.1h0M471.3 711.2h0M458.1 683.3h0M477.0 721.0h0M470.8 644.5h0M480.4 673.6h0M465.0 661.3h0M472.5 667.5h0M465.4 667.3h0M473.9 674.0h0M460.2 633.7h0M481.9 682.5h0M481.3 650.1h0M462.2 694.8h0M473.7 658.4h0M470.6 686.7h0M475.8 704.0h0M469.3 673.8h0M479.7 696.4h0M470.2 684.1h0M467.7 666.4h0M462.4 660.4h0M480.0 661.9h0M456.0 670.9h0M471.0 689.6h0M481.9 665.4h0M463.7 660.6h0M469.4 671.4h0M465.2 678.8h0M482.1 687.4h0M479.0 667.2h0M471.7 677.4h0M473.7 703.0h0M469.3 666.6h0M470.1 663.7h0M458.7 653.6h0M492.8 647.9h0M462.7 649.4h0M479.8 666.9h0M470.4 660.1h0M467.1 643.3h0M456.8 687.7h0M468.8 664.2h0M469.8 696.8h0M485.5 669.8h0M479.8 674.9h0M459.7 680.6h0M466.2 708.7h0M491.1 688.3h0M471.0 631.5h0M461.6 668.3h0M471.7 669.0h0M477.5 691.4h0M462.0 657.2h0M453.4 666.5h0M465.7 709.7h0M477.5 679.0h0M465.1 672.9h0M468.5 658.5h0M476.8 672.2h0M451.4 664.4h0M473.4 700.8h0M483.3 654.8h0M466.4 672.2h0M464.1 651.4h0M463.5 684.5h0M465.9 639.7h0M477.5 693.6h0M471.6 638.6h0M480.3 666.8h0M460.7 638.5h0M469.1 654.0h0M473.5 686.8h0M464.6 675.5h0M457.3 659.9h0M465.8 678.5h0M464.4 663.1h0M474.6 654.5h0M474.9 670.6h0M470.7 663.4h0M480.6 663.8h0M460.9 654.0h0M463.6 692.9h0M449.4 675.4h0M455.9 668.4h0M468.9 652.7h0M463.1 672.9h0M479.7 686.9h0M476.3 700.7h0M470.4 659.1h0M444.7 669.7h0M476.6 696.7h0M466.3 689.7h0M473.7 643.1h0M467.2 652.8h0M477.6 678.8h0M459.0 669.1h0M472.8 704.8h0M461.0 664.5h0M461.7 643.8h0M475.3 647.2h0M463.5 648.3h0M469.1 663.8h0M466.0 686.0h0M479.4 683.8h0M460.3 696.4h0M465.6 638.3h0M468.1 656.3h0M471.5 670.9h0M474.1 675.6h0M471.0 660.5h0M476.4 702.3h0M464.2 634.2h0M471.6 661.6h0M463.3 643.8h0M472.5 669.3h0M469.1 713.1h0M463.2 664.0h0M466.3 657.1h0M472.2 637.0h0M454.9 679.4h0M458.9 690.3h0M473.1 646.9h0M515.4 639.6h0M478.5 679.2h0M445.1 665.3h0M459.8 645.3h0M466.1 694.3h0M470.4 672.9h0M468.0 626.6h0M463.6 669.4h0M467.5 702.8h0M464.7 642.8h0M459.0 660.8h0M462.7 648.8h0M478.0 700.4h0M475.6 633.6h0M468.3 674.5h0M461.5 628.2h0M463.0 651.1h0M460.5 677.2h0M479.4 666.5h0M465.2 700.1h0M468.6 693.8h0M469.0 685.0h0M464.4 685.0h0M470.8 715.9h0M469.9 660.1h0M470.3 654.0h0M485.1 676.0h0M458.4 674.6h0M509.0 660.3h0M476.8 705.4h0M462.5 686.7h0M464.3 687.6h0M465.3 613.6h0M465.5 666.5h0M467.8 665.2h0M468.4 697.4h0M493.8 647.5h0M472.8 664.0h0M470.5 674.7h0M470.4 657.8h0M482.0 707.4h0M479.5 691.5h0M475.1 672.8h0M466.9 675.7h0M452.0 703.7h0M469.1 682.7h0M466.8 677.7h0M475.3 668.7h0M482.0 693.1h0M460.9 617.3h0M475.9 669.5h0M467.9 675.1h0M474.9 684.1h0M462.8 674.3h0M489.4 648.7h0M471.5 641.8h0M464.9 673.3h0M477.1 671.9h0M480.7 661.9h0M478.5 684.2h0M464.3 662.0h0M456.6 684.1h0M469.3 663.9h0M483.8 681.3h0M463.7 671.6h0M473.8 688.5h0M465.8 701.2h0M462.7 700.8h0M467.3 673.9h0M476.1 677.0h0M467.6 662.9h0M462.2 673.0h0M472.6 697.4h0M504.5 655.5h0M476.7 654.8h0M477.1 621.6h0M480.2 688.8h0M469.1 702.8h0M475.7 639.7h0M469.7 693.0h0M482.4 681.9h0M466.5 693.6h0M469.6 650.1h0M468.5 708.8h0M470.6 640.7h0M457.3 687.3h0M491.0 692.1h0M470.4 673.2h0M471.3 661.4h0M463.7 661.8h0M458.9 665.0h0M464.5 700.4h0M460.0 666.9h0M467.7 685.2h0M463.6 670.6h0M451.1 644.8h0M477.5 672.3h0M466.9 657.1h0M462.9 662.4h0M473.1 674.8h0M468.2 674.0h0M475.9 649.1h0M461.8 652.5h0M462.0 695.6h0M481.3 696.9h0M457.5 674.4h0M479.0 658.7h0M463.3 673.7h0M472.7 693.6h0M477.4 696.9h0M458.0 690.9h0M462.6 703.3h0M467.3 634.3h0M462.7 685.4h0M467.8 669.5h0M466.0 685.7h0M471.2 645.1h0M473.3 675.9h0M463.2 638.4h0M465.9 625.8h0M469.3 637.1h0M464.0 628.5h0M465.6 660.6h0M479.7 701.9h0M466.4 667.4h0M468.7 681.9h0M534.4 697.5h0M462.3 675.0h0M461.1 705.3h0M448.2 690.6h0M476.5 699.6h0M462.0 637.3h0M456.0 665.3h0M456.6 690.2h0M463.7 673.1h0M470.2 671.5h0M462.7 658.9h0M463.9 680.6h0M455.3 688.7h0M468.4 661.4h0M475.4 692.5h0M445.3 683.9h0M473.4 639.6h0M470.1 674.0h0M464.0 658.5h0M462.1 675.7h0M468.2 664.3h0M467.1 642.7h0M468.7 662.4h0M464.6 676.3h0M462.6 684.0h0M461.2 673.8h0M475.8 690.1h0M474.5 714.0h0M467.1 661.5h0M457.8 690.4h0M467.1 653.3h0M470.7 673.3h0M462.5 697.4h0M475.3 693.2h0M473.7 685.3h0M462.5 662.6h0M473.6 670.9h0M468.1 705.9h0M482.3 667.2h0M475.8 659.4h0M461.1 663.0h0M463.0 676.2h0M453.4 690.3h0M454.6 697.8h0M474.2 665.8h0M467.3 672.2h0M464.7 667.8h0M456.9 680.5h0M479.2 657.2h0M474.2 654.2h0M472.9 668.9h0M473.3 673.5h0M465.1 673.2h0M475.3 704.3h0M459.7 671.6h0M462.0 709.7h0M466.9 654.0h0M453.0 673.2h0M464.9 671.3h0M467.4 694.6h0M470.0 684.8h0M471.1 712.6h0M463.2 680.0h0M457.5 680.1h0M471.6 631.3h0M475.3 675.4h0M463.2 653.4h0M465.3 685.0h0M476.9 667.3h0M458.1 671.6h0M461.1 686.8h0M461.3 689.2h0M466.9 683.5h0M479.6 663.9h0M454.3 678.0h0M465.7 673.3h0M462.6 637.2h0M463.9 656.1h0M465.6 671.7h0M474.3 633.9h0M465.8 652.5h0M470.4 645.5h0M487.2 693.9h0M462.2 676.8h0M464.1 637.6h0M457.9 687.6h0M467.8 692.5h0M458.7 671.5h0M464.7 658.0h0M464.2 662.4h0M461.5 655.8h0M466.7 646.3h0M471.5 659.1h0M467.7 657.0h0M464.8 645.5h0M474.9 652.8h0M460.5 663.3h0M460.3 672.0h0M460.6 660.1h0M466.5 676.6h0M465.4 654.8h0M471.3 670.4h0M517.9 646.8h0M473.5 683.0h0M473.9 693.5h0M470.7 682.9h0M472.4 675.2h0M453.2 679.5h0M474.5 674.9h0M468.0 648.4h0M464.1 684.9h0M467.4 698.8h0M466.3 669.7h0M474.3 634.0h0M474.9 680.2h0M487.2 676.3h0M475.9 688.1h0M449.7 651.7h0M459.6 671.7h0M467.5 658.2h0M519.7 657.9h0M477.7 700.7h0M467.6 633.1h0M509.0 647.9h0M472.4 663.9h0M469.4 679.7h0M469.7 688.3h0M464.7 685.2h0M453.0 704.3h0M465.1 692.2h0M486.5 705.9h0M474.9 653.0h0M457.2 640.2h0M465.2 664.6h0M470.6 669.4h0M465.2 669.5h0M467.5 652.9h0M469.4 667.5h0M473.2 648.8h0M486.7 679.1h0M463.3 676.7h0M465.9 696.5h0M455.7 660.5h0M470.4 676.9h0M465.3 678.2h0M452.7 673.1h0M471.1 694.0h0M475.4 693.3h0M466.7 675.6h0M468.5 668.1h0M477.0 698.7h0M469.7 663.9h0M465.9 689.4h0M471.8 666.8h0M460.1 708.9h0M480.7 671.1h0M466.2 654.7h0M463.2 641.6h0M469.9 693.0h0M463.1 664.4h0M475.7 663.7h0M464.5 651.4h0M461.5 651.8h0M470.0 667.6h0M472.3 691.8h0M470.1 652.3h0M464.4 675.2h0M461.7 656.1h0M461.8 658.5h0M472.7 635.5h0M466.9 649.8h0M462.5 688.1h0M476.9 680.0h0M467.8 681.9h0M460.0 672.4h0M459.1 673.3h0M474.7 650.6h0M466.6 661.9h0M462.3 677.6h0M482.0 705.9h0M458.6 710.8h0M472.3 668.0h0M481.1 677.4h0M465.6 640.9h0M465.5 651.2h0M461.1 636.2h0M456.6 700.4h0M464.4 664.9h0M457.9 685.2h0M470.3 689.3h0M465.4 682.0h0M483.1 675.8h0M456.3 683.5h0M476.8 672.1h0M472.6 661.1h0M466.0 648.3h0M480.2 666.2h0M464.6 665.1h0M472.9 692.8h0M463.6 641.0h0M464.3 695.5h0M479.4 649.4h0M465.9 698.7h0M469.6 623.1h0M462.4 644.6h0M466.6 645.3h0M475.7 692.4h0M465.6 648.8h0M458.1 650.6h0M499.7 693.3h0M471.9 678.3h0M462.7 692.9h0M458.3 694.6h0M471.9 681.0h0M477.1 669.7h0M461.8 668.2h0M465.9 671.3h0M471.7 647.0h0M467.9 663.4h0M476.8 663.9h0M486.5 661.1h0M480.6 690.1h0M476.8 671.8h0M472.2 649.4h0M473.0 654.5h0M475.6 675.1h0M474.2 695.3h0M465.5 673.5h0M464.3 699.6h0M461.9 641.9h0M461.9 685.6h0M475.3 687.0h0M477.4 664.0h0M471.2 694.1h0M460.3 667.3h0M476.3 678.4h0M473.3 679.5h0M464.9 666.4h0M466.1 680.6h0M464.0 642.7h0M469.9 664.2h0M475.3 686.8h0M469.2 651.7h0M463.9 690.6h0M464.1 669.9h0M462.8 663.3h0M449.1 671.0h0" stroke="#5a9cf3" stroke-width="2.1" stroke-linecap="round" fill="none" stroke-opacity="0.72"/>
<path d="M477.4 693.4h0M460.5 651.8h0M456.4 663.3h0M469.3 689.5h0M464.2 684.4h0M466.0 657.4h0M472.4 662.8h0M472.5 671.8h0M462.8 640.8h0M449.1 693.1h0M476.2 694.1h0M474.3 689.7h0M474.1 666.5h0M458.5 662.7h0M483.9 660.8h0M464.5 680.6h0M468.9 639.6h0M457.9 643.9h0M482.1 672.2h0M470.6 715.4h0M462.8 661.4h0M471.5 673.6h0M474.4 658.2h0M461.8 674.1h0M470.0 687.2h0M467.3 677.0h0M478.2 667.8h0M471.1 663.5h0M466.0 676.4h0M473.9 676.7h0M466.6 653.7h0M461.9 682.5h0M470.3 665.6h0M479.8 665.9h0M476.0 668.6h0M480.6 662.2h0M460.7 674.0h0M466.0 661.9h0M471.5 666.5h0M470.7 695.5h0M472.1 627.1h0M474.1 698.3h0M471.1 663.0h0M466.3 680.6h0M458.8 660.0h0M471.6 650.5h0M452.9 671.4h0M456.7 670.9h0M460.8 686.7h0M463.8 689.8h0M472.2 651.6h0M456.2 695.5h0M467.3 629.8h0M464.3 675.8h0M469.2 668.4h0M466.6 639.5h0M477.1 701.3h0M475.6 717.9h0M449.6 681.0h0M465.1 676.2h0M460.3 667.0h0M464.8 667.7h0M514.6 639.7h0M462.7 648.0h0M468.3 680.8h0M456.2 691.2h0M470.1 681.2h0M468.1 662.4h0M462.6 684.5h0M469.6 652.7h0M480.4 647.2h0M465.5 667.0h0M468.2 652.7h0M464.2 659.7h0M478.9 686.4h0M467.7 646.7h0M461.6 679.7h0M465.7 634.3h0M462.8 684.8h0M464.4 683.4h0M475.1 662.9h0M464.5 654.7h0M465.6 668.4h0M465.6 679.4h0M462.9 690.1h0M478.4 700.8h0M475.8 659.1h0M476.0 684.3h0M468.3 677.0h0M461.8 674.0h0M469.6 715.9h0M464.4 681.2h0M473.8 678.3h0M457.9 674.3h0M462.5 654.6h0M465.9 640.0h0M457.7 656.2h0M465.8 664.5h0M479.6 684.0h0M460.5 673.1h0M452.0 678.7h0M475.1 657.6h0M467.6 706.0h0M469.5 680.6h0M468.2 713.3h0M471.4 694.2h0M466.7 689.1h0M466.5 668.5h0M463.6 664.8h0M469.5 634.7h0M461.7 656.1h0M464.0 648.5h0M460.2 698.2h0M465.6 692.5h0M464.7 694.3h0M471.4 688.1h0M457.9 685.3h0M455.5 684.7h0M463.9 629.4h0M461.7 708.5h0M456.2 700.0h0M466.7 690.7h0M464.3 661.2h0M476.6 686.2h0M463.6 681.5h0M477.0 648.8h0M462.6 674.6h0M454.1 703.4h0M466.6 719.3h0M475.4 641.7h0M477.1 629.6h0M466.7 676.1h0M471.5 657.2h0M466.7 690.1h0M448.5 674.0h0M462.6 635.3h0M468.1 697.3h0M463.1 694.5h0M471.8 623.8h0M482.3 648.6h0M477.3 663.3h0M460.4 707.3h0M453.8 676.1h0M471.4 675.5h0M484.9 695.2h0M468.5 690.9h0M460.3 648.6h0M472.8 656.4h0M472.3 692.0h0M469.3 666.3h0M455.1 657.0h0M460.5 691.8h0M473.1 678.0h0M468.3 660.4h0M449.1 670.8h0M470.7 670.4h0M473.0 650.9h0M465.6 665.3h0M471.3 649.7h0M511.7 656.3h0M456.1 677.8h0M463.0 695.4h0M473.4 657.4h0M468.4 623.4h0M473.4 681.4h0M473.6 709.6h0M456.4 674.7h0M466.9 673.1h0M470.5 668.9h0M464.7 642.7h0M467.2 626.0h0M475.4 687.6h0M469.1 653.1h0M483.2 659.7h0M467.2 706.5h0M468.2 692.9h0M468.8 677.9h0M458.8 693.7h0M465.0 645.3h0M456.3 668.8h0M482.0 684.0h0M462.4 658.0h0M463.3 670.1h0M472.9 667.2h0M476.0 692.5h0M471.0 690.0h0M466.1 667.2h0M443.8 687.9h0M478.2 670.5h0M463.8 622.2h0M473.8 690.6h0M463.6 711.8h0M455.8 686.4h0M483.0 685.2h0M473.1 694.0h0M481.6 654.0h0M485.4 673.1h0M462.4 651.4h0M464.2 650.4h0M475.6 695.4h0M464.9 663.7h0M471.4 678.6h0M471.0 686.0h0M467.1 661.2h0M484.6 693.8h0M493.0 660.8h0M468.5 660.8h0M476.2 638.5h0M467.4 636.8h0M476.1 681.5h0M475.2 707.0h0M465.8 681.2h0M460.0 686.5h0M467.3 688.4h0M457.9 676.7h0M477.0 670.3h0M472.5 654.6h0M451.0 666.5h0M480.8 691.5h0M472.3 676.1h0M471.2 664.6h0M459.7 685.6h0M478.1 679.3h0M458.2 664.3h0M474.1 686.2h0M464.3 699.8h0M448.3 674.9h0M458.1 706.0h0M471.7 672.6h0M467.0 625.3h0M468.9 683.4h0M470.5 667.4h0M467.2 703.6h0M477.8 662.4h0M477.2 660.9h0M472.2 674.5h0M459.4 675.1h0M468.1 666.7h0M465.5 673.6h0M467.5 651.2h0M462.7 633.0h0M463.1 670.6h0M462.3 699.7h0M462.5 681.9h0M473.3 673.3h0M471.2 652.6h0M455.5 676.7h0M474.2 688.3h0M478.7 694.3h0M463.7 657.3h0M478.1 671.6h0M453.0 670.2h0M462.1 648.5h0M471.2 685.8h0M455.1 685.3h0M467.1 680.3h0M475.3 659.3h0M466.9 662.2h0M469.7 694.9h0M477.0 653.9h0M464.0 679.3h0M470.7 665.0h0M467.6 636.6h0M474.3 698.4h0M468.8 665.3h0M469.7 700.5h0M483.1 706.4h0M453.7 677.6h0M468.4 671.6h0M465.7 651.3h0M463.2 697.6h0M476.5 706.7h0M477.6 684.3h0M466.3 688.8h0M472.5 648.3h0M479.1 669.9h0M460.9 668.7h0M467.7 691.3h0M462.4 697.4h0M466.3 672.4h0M462.7 655.5h0M461.8 665.6h0M466.1 675.2h0M473.6 619.7h0M472.7 703.7h0M460.0 681.8h0M453.6 694.6h0M468.3 689.4h0M465.6 675.6h0M461.3 705.6h0M468.4 657.5h0M459.3 681.8h0M472.3 674.6h0M452.0 702.0h0M479.3 674.0h0M460.8 690.7h0M468.4 656.7h0M471.6 663.4h0M467.9 669.1h0M464.0 673.7h0M475.4 713.9h0M461.3 647.3h0M464.4 676.8h0M471.8 693.1h0M451.1 672.2h0M521.0 663.8h0M469.0 669.4h0M469.7 646.8h0M462.9 651.4h0M467.6 670.9h0M470.0 676.4h0M477.3 627.8h0M471.6 704.6h0M474.3 673.5h0M457.3 667.7h0M469.0 631.0h0M466.7 672.7h0M464.3 670.8h0M466.3 665.8h0M476.0 673.9h0M452.0 654.5h0M468.8 659.5h0M481.1 671.8h0M459.8 665.1h0M471.7 697.9h0M459.4 663.7h0M466.9 686.0h0M471.9 693.8h0M468.0 643.7h0M460.5 688.7h0M452.2 686.7h0M464.4 672.0h0M466.8 652.2h0M466.3 693.1h0M474.2 670.3h0M472.2 658.4h0M469.8 680.5h0M477.4 682.3h0M465.6 684.0h0M461.5 681.6h0M463.1 686.5h0M452.4 683.9h0M467.4 688.8h0M477.5 685.3h0M474.7 684.5h0M471.3 677.5h0M468.4 643.3h0M465.2 636.1h0M465.5 676.9h0M479.1 681.3h0M473.8 698.6h0M475.5 652.8h0M463.9 723.2h0M461.5 715.7h0M463.4 634.4h0M467.4 704.3h0M473.3 695.9h0M465.2 678.0h0M475.5 653.0h0M462.5 647.2h0M487.2 708.2h0M454.1 676.3h0M470.7 699.8h0M468.1 702.5h0M461.7 693.9h0M472.0 682.0h0M469.3 686.7h0M465.4 697.5h0M461.8 681.4h0M469.6 660.5h0M458.4 693.4h0M448.4 682.3h0M457.7 658.8h0M471.5 662.5h0M476.8 667.8h0M460.0 705.1h0M472.2 673.1h0M467.4 654.4h0M470.8 710.7h0M467.0 667.9h0M473.2 673.8h0M458.4 685.3h0M469.4 662.7h0M473.5 688.2h0M467.2 716.1h0M469.4 646.1h0M458.4 648.6h0M456.7 648.6h0M457.4 681.0h0M475.4 697.5h0M477.3 688.7h0M463.3 649.9h0M477.0 689.7h0M469.6 647.3h0M470.9 668.8h0M469.9 665.0h0M477.7 716.9h0M473.2 668.5h0M471.1 689.0h0M455.9 671.0h0M496.5 637.8h0M494.4 666.8h0M472.5 720.8h0M470.7 655.5h0M461.3 708.2h0M466.7 661.6h0M479.3 691.5h0M462.1 690.2h0M468.8 679.9h0M463.7 705.4h0M467.0 648.8h0M461.7 646.8h0M476.8 669.3h0M475.9 679.5h0M474.4 680.9h0M456.4 674.0h0M467.0 652.6h0M466.0 682.5h0M471.3 678.5h0M469.9 710.5h0M465.9 648.0h0M473.5 690.5h0M452.6 680.1h0M466.5 670.3h0M455.8 695.3h0M477.4 669.9h0M461.0 643.1h0M464.6 634.4h0M476.1 668.0h0M459.0 650.3h0M471.3 670.0h0M457.8 676.8h0M470.9 693.9h0M482.6 655.2h0M467.1 674.5h0M469.7 697.2h0M467.5 653.7h0M481.9 648.4h0M486.4 689.9h0M467.0 664.2h0M465.9 684.3h0M474.1 640.6h0M462.4 644.0h0M478.7 659.3h0M472.1 664.8h0M461.8 673.9h0M462.5 641.6h0M467.4 685.5h0M468.4 673.9h0M467.1 678.3h0M471.7 699.1h0M478.4 694.9h0M466.4 690.5h0M463.9 685.5h0M485.7 690.1h0M468.0 666.0h0M483.3 686.0h0M466.8 633.2h0M468.0 650.1h0M460.7 696.8h0M478.9 692.3h0M477.9 663.1h0M465.1 672.0h0M463.6 685.6h0M470.3 642.7h0M463.2 667.2h0M462.5 671.8h0M465.1 657.8h0M473.2 698.2h0M453.7 685.3h0M466.1 645.7h0M459.5 658.4h0M467.0 672.8h0M457.4 667.6h0M472.6 630.5h0M441.4 679.2h0M470.3 670.5h0M462.7 685.9h0M471.8 673.8h0M471.7 675.8h0M472.8 649.5h0M479.7 664.1h0M474.7 687.2h0M463.8 677.8h0M463.9 678.4h0M484.3 670.0h0M470.1 666.1h0M464.3 651.9h0M454.9 689.9h0M460.7 702.2h0M460.0 686.9h0M453.0 648.8h0M480.7 663.4h0M476.5 670.0h0M458.7 666.8h0M465.7 662.4h0M466.2 684.0h0M463.1 698.8h0M470.1 679.1h0M464.7 701.2h0M468.1 671.9h0M464.4 654.1h0M474.5 649.9h0M457.4 673.7h0M460.7 652.2h0M468.7 675.2h0M473.7 691.0h0M477.0 652.3h0M462.6 677.3h0M461.6 655.2h0M459.6 673.5h0M467.0 646.8h0M452.4 656.8h0M475.1 667.3h0M463.8 650.8h0M468.7 640.2h0M475.0 660.0h0M461.2 677.0h0M479.6 648.1h0M459.5 693.8h0M456.5 650.8h0M469.0 676.0h0M466.4 689.6h0M474.5 657.2h0M514.3 689.3h0M461.7 691.5h0M469.1 682.0h0M483.3 667.3h0M463.6 650.4h0M470.4 646.3h0M465.0 696.7h0M462.7 682.8h0M488.3 692.4h0M475.9 653.6h0M471.3 674.4h0M479.5 675.9h0M468.7 664.7h0M467.4 670.8h0M476.2 668.2h0M467.1 699.0h0M469.3 657.7h0M473.6 664.3h0M467.2 640.8h0M485.5 686.1h0M487.7 639.2h0M474.8 700.3h0M475.1 682.9h0M454.8 660.8h0M458.7 674.4h0M474.2 687.5h0M467.6 675.1h0M458.7 721.3h0M478.6 695.6h0M460.8 682.6h0M479.6 624.2h0M474.0 666.4h0M472.0 653.5h0M468.5 667.8h0M478.1 687.8h0M460.0 647.8h0M482.5 680.5h0M466.9 694.4h0M465.5 680.4h0M468.2 662.0h0M473.5 658.5h0M476.3 664.2h0M472.4 691.5h0M468.9 668.2h0M476.3 697.5h0M474.1 672.2h0M480.4 712.4h0M464.5 683.4h0M479.3 675.2h0M468.1 715.5h0M463.6 637.7h0M471.8 676.7h0M485.7 679.1h0M467.9 666.5h0M463.8 656.7h0M490.0 674.5h0M467.0 630.3h0M466.3 693.9h0M464.2 693.2h0M465.8 667.1h0M471.4 671.1h0M463.9 645.4h0M485.2 656.6h0M475.6 683.9h0M466.0 648.8h0M493.1 673.2h0M461.0 666.9h0M462.0 647.4h0M465.4 645.8h0M457.9 672.8h0M469.2 687.9h0M468.3 679.5h0M471.6 669.6h0M465.6 677.6h0M497.7 683.1h0M429.5 655.5h0M455.6 698.0h0M472.9 659.9h0M467.3 678.0h0M474.9 678.9h0M457.3 662.1h0M469.2 693.3h0M456.4 662.7h0M471.1 689.9h0M484.0 657.0h0M474.5 710.6h0M457.7 667.1h0M461.8 681.8h0M466.0 632.7h0M472.0 704.5h0M464.1 660.2h0M463.2 629.3h0M458.7 680.6h0M471.1 675.8h0M471.8 694.4h0M471.3 635.5h0M450.8 667.2h0M468.2 672.5h0M466.2 649.4h0M467.1 648.4h0M463.5 665.4h0M462.4 666.6h0M467.2 672.6h0M476.7 679.1h0M459.4 677.1h0M463.5 662.2h0M473.4 654.3h0M470.1 675.8h0M468.0 682.3h0M458.9 644.2h0M471.7 656.5h0M462.2 665.3h0M466.4 700.0h0M463.2 692.8h0M470.1 640.9h0M472.4 686.2h0M476.3 709.8h0M470.8 676.4h0M466.0 665.1h0M467.9 644.9h0M467.9 702.2h0M469.1 667.7h0M471.1 717.2h0M474.6 645.6h0M472.2 654.3h0M473.5 699.9h0M470.0 704.1h0M465.3 687.0h0M467.2 684.5h0M468.6 631.3h0M456.0 672.7h0M466.5 666.7h0M448.6 677.7h0M517.3 693.0h0M476.1 657.5h0M479.4 700.2h0M477.5 670.8h0M449.2 668.3h0M466.8 682.2h0M479.0 695.3h0M477.7 669.4h0M456.4 658.9h0M463.1 676.5h0M472.9 674.6h0M465.1 688.1h0M463.6 667.3h0M469.4 668.5h0M463.4 658.0h0M467.9 658.0h0M485.7 660.9h0M471.2 666.4h0M469.2 712.0h0M470.7 656.7h0M470.9 683.1h0M468.7 693.9h0M462.3 720.4h0M478.4 680.7h0M464.4 653.9h0M470.5 651.9h0M477.5 661.8h0M468.9 684.2h0M464.9 654.4h0M477.9 635.9h0M468.5 666.9h0M468.8 660.4h0M465.3 721.8h0M480.2 683.4h0M463.1 686.8h0M465.9 709.9h0M467.9 671.9h0M465.7 715.7h0M465.7 662.9h0M488.0 665.9h0M455.6 686.6h0M481.4 660.9h0M474.6 675.3h0M454.6 667.8h0M474.4 661.8h0M471.8 661.7h0M459.0 702.9h0M477.2 652.8h0M477.9 712.6h0M461.8 636.8h0M448.5 653.3h0M468.2 684.6h0M482.9 659.7h0M452.4 638.6h0M462.7 702.5h0M475.3 687.1h0M459.4 673.4h0M475.5 677.6h0" stroke="#5a9cf3" stroke-width="2.1" stroke-linecap="round" fill="none" stroke-opacity="0.72"/>
<path d="M475.9 679.2h0M460.1 669.0h0M473.7 646.8h0M486.6 660.5h0M476.1 667.4h0M470.6 678.3h0M459.2 645.8h0M469.1 660.4h0M468.6 648.1h0M463.1 636.5h0M466.6 686.1h0M494.5 691.0h0M475.0 685.1h0M469.7 666.2h0M475.2 648.6h0M464.6 669.6h0M475.3 682.5h0M472.9 672.0h0M471.0 672.6h0M447.9 682.0h0M458.1 679.3h0M467.3 638.5h0M479.8 671.9h0M461.7 637.2h0M472.2 691.0h0M465.9 652.1h0M482.5 701.3h0M465.4 702.8h0M479.1 656.6h0M477.8 700.7h0M467.9 659.3h0M468.8 694.2h0M449.3 658.8h0M467.5 648.2h0M463.6 687.2h0M497.3 683.6h0M463.8 654.1h0M470.6 653.5h0M464.2 664.0h0M466.5 639.1h0M476.9 681.9h0M479.0 663.9h0M464.0 673.7h0M465.3 667.9h0M470.4 682.6h0M475.1 690.0h0M457.7 680.1h0M468.8 656.4h0M473.7 676.8h0M465.2 641.7h0M460.2 635.5h0M469.7 655.8h0M465.0 628.0h0M469.1 664.7h0M475.3 698.5h0M469.3 680.8h0M471.1 683.9h0M469.1 681.3h0M470.4 673.7h0M458.1 672.9h0M468.0 665.1h0M465.0 659.0h0M461.7 673.0h0M462.8 661.1h0M470.7 682.0h0M462.0 669.9h0M472.6 681.2h0M467.9 699.3h0M462.2 649.2h0M469.4 636.9h0M468.2 644.4h0M464.8 646.1h0M475.0 681.7h0M483.3 712.3h0M473.9 678.1h0M466.0 673.6h0M471.6 684.5h0M458.5 653.2h0M462.3 672.7h0M478.9 681.8h0M475.7 633.3h0M454.2 682.9h0M472.6 660.4h0M473.9 630.6h0M471.9 683.0h0M467.0 690.8h0M477.3 679.8h0M461.8 643.1h0M459.1 703.6h0M474.3 676.9h0M486.8 682.2h0M483.3 700.7h0M472.3 704.6h0M470.6 653.5h0M468.8 660.1h0M473.0 692.1h0M479.2 645.0h0M475.2 648.7h0M469.0 657.7h0M469.9 662.6h0M465.1 701.1h0M479.3 688.3h0M473.4 681.6h0M468.1 679.2h0M464.8 656.9h0M466.6 648.6h0M480.8 676.0h0M464.6 689.7h0M467.8 624.6h0M474.3 633.7h0M466.7 676.5h0M462.0 694.6h0M465.5 679.5h0M460.8 651.3h0M447.0 666.3h0M464.0 662.4h0M458.7 690.9h0M480.1 681.0h0M470.6 695.4h0M489.1 695.4h0M469.8 649.8h0M451.8 675.4h0M473.4 659.5h0M477.4 694.4h0M471.5 701.0h0M466.5 692.3h0M465.9 687.3h0M479.7 662.9h0M476.0 692.5h0M464.8 669.0h0M479.9 679.7h0M471.7 661.9h0M463.2 673.1h0M464.2 703.3h0M466.9 683.4h0M471.2 689.3h0M465.8 667.4h0M477.1 669.5h0M474.8 661.2h0M449.2 687.3h0M464.4 668.9h0M468.6 676.9h0M481.5 667.1h0M461.2 671.8h0M470.3 644.2h0M470.3 668.6h0M470.0 671.0h0M452.0 698.4h0M456.6 682.0h0M476.2 681.5h0M461.7 642.9h0M465.4 681.3h0M465.5 659.9h0M458.1 705.7h0M469.2 669.8h0M479.3 650.6h0M472.3 668.7h0M463.5 651.9h0M479.1 664.3h0M460.0 665.3h0M467.0 636.9h0M484.6 670.1h0M459.3 675.6h0M461.9 658.1h0M472.5 681.1h0M471.5 652.6h0M479.4 674.4h0M479.2 683.0h0M451.6 709.9h0M477.9 669.8h0M468.2 708.5h0M461.0 703.6h0M456.0 635.0h0M463.7 663.0h0M483.2 660.7h0M477.0 702.1h0M469.3 673.3h0M482.1 651.1h0M471.8 633.4h0M472.6 668.1h0M471.9 711.5h0M469.1 698.2h0M467.0 678.9h0M476.1 691.1h0M468.1 684.3h0M468.6 659.0h0M468.4 682.9h0M457.4 689.0h0M483.3 673.0h0M448.1 663.7h0M478.6 663.1h0M474.8 669.0h0M462.5 654.1h0M470.4 631.5h0M493.4 662.5h0M464.4 653.3h0M475.6 688.3h0M465.9 697.7h0M456.7 668.7h0M467.9 654.8h0M455.9 678.4h0M472.1 651.6h0M471.0 641.7h0M477.2 659.0h0M469.7 647.0h0M482.6 643.9h0M455.9 666.4h0M462.3 682.7h0M492.3 670.6h0M472.1 689.9h0M465.0 634.8h0M468.5 683.6h0M463.6 683.4h0M449.7 689.5h0M479.7 667.4h0M480.5 674.6h0M476.9 663.0h0M475.0 673.9h0M466.3 649.2h0M467.3 691.4h0M474.9 671.3h0M470.1 644.7h0M470.9 681.0h0M474.7 681.5h0M465.1 669.7h0M466.7 658.3h0M466.4 702.4h0M473.4 679.1h0M466.3 692.7h0M460.6 667.2h0M463.7 652.6h0M463.5 656.1h0M459.8 703.1h0M462.9 684.1h0M470.4 673.6h0M470.9 647.4h0M475.1 648.8h0M464.3 648.8h0M457.8 661.3h0M455.1 678.2h0M466.0 651.4h0M469.2 655.6h0M466.5 686.3h0M458.7 680.3h0M472.3 672.0h0M460.1 679.4h0M463.8 662.5h0M463.6 674.4h0M467.3 667.3h0M479.6 680.9h0M457.3 653.1h0M482.2 653.5h0M461.8 699.1h0M469.0 650.8h0M455.9 670.5h0M464.5 668.1h0M470.8 675.3h0M476.9 663.6h0M448.7 676.9h0M461.4 626.5h0M471.4 684.9h0M488.4 645.7h0M471.3 660.3h0M460.8 715.6h0M464.0 693.7h0M459.9 642.8h0M469.7 655.4h0M469.3 669.8h0M459.7 673.2h0M461.0 702.4h0M474.9 687.8h0M466.0 644.0h0M462.3 660.0h0M466.7 719.8h0M466.0 639.9h0M469.5 637.8h0M472.4 670.5h0M473.6 661.2h0M463.4 677.6h0M471.5 640.6h0M461.2 695.6h0M476.5 673.2h0M466.7 682.9h0M478.6 669.1h0M465.7 682.6h0M507.9 648.1h0M464.8 687.7h0M455.7 711.4h0M468.8 647.1h0M469.6 630.2h0M463.4 691.8h0M467.5 686.4h0M481.5 715.8h0M469.6 661.7h0M460.2 679.6h0M460.4 656.6h0M467.5 648.9h0M474.9 654.2h0M470.2 640.9h0M467.7 650.6h0M451.7 657.5h0M473.4 673.3h0M470.0 653.8h0M458.0 681.6h0M463.7 634.1h0M455.4 652.4h0M482.4 649.1h0M478.0 661.0h0M464.0 667.5h0M465.8 689.8h0M467.6 695.9h0M474.5 659.1h0M477.6 669.0h0M455.5 673.3h0M471.3 671.9h0M466.2 706.1h0M467.0 650.1h0M475.8 667.7h0M438.8 687.8h0M452.7 681.1h0M467.5 704.5h0M473.9 680.6h0M460.1 656.2h0M459.1 687.5h0M466.8 657.9h0M470.3 670.8h0M454.8 667.3h0M472.0 688.0h0M466.9 676.9h0M474.2 695.0h0M457.9 651.4h0M469.4 671.5h0M471.9 663.1h0M484.1 694.8h0M475.5 676.9h0M457.7 665.1h0M458.2 691.1h0M478.1 681.8h0M465.0 688.7h0M469.8 671.0h0M472.4 638.1h0M470.1 674.4h0M473.4 627.6h0M473.2 664.3h0M470.4 668.0h0M455.1 657.2h0M470.0 669.1h0M461.2 664.8h0M464.6 683.8h0M483.3 688.4h0M469.8 672.4h0M469.4 672.7h0M472.9 703.4h0M473.6 651.8h0M465.6 691.4h0M466.3 685.8h0M472.5 688.0h0M471.0 686.3h0M464.0 676.7h0M469.2 658.6h0M466.8 677.3h0M460.2 682.6h0M457.9 670.3h0M473.0 659.3h0M467.6 683.6h0M464.9 675.8h0M457.1 666.8h0M472.3 718.1h0M475.0 644.0h0M456.4 681.3h0M458.7 686.3h0M460.9 673.6h0M470.3 669.4h0M468.5 686.0h0M511.1 669.9h0M466.8 657.8h0M453.5 684.3h0M467.9 661.9h0M469.5 681.0h0M462.9 680.3h0M469.8 649.4h0M464.8 681.0h0M468.2 694.5h0M465.7 674.6h0M463.5 687.9h0M474.3 671.6h0M464.1 658.1h0M465.9 689.7h0M464.6 643.2h0M482.5 687.8h0M483.2 660.5h0M466.0 661.6h0M469.1 659.6h0M478.8 698.1h0M450.8 678.1h0M476.0 657.5h0M456.4 663.1h0M471.3 648.6h0M458.2 702.5h0M461.0 673.0h0M468.4 655.7h0M473.8 659.1h0M467.5 676.3h0M477.9 672.2h0M463.6 640.4h0M478.1 677.9h0M469.2 694.3h0M487.4 685.9h0M465.8 697.5h0M476.2 661.5h0M476.8 659.0h0M474.5 689.6h0M516.0 654.1h0M462.7 674.2h0M460.2 662.2h0M457.3 655.0h0M459.5 681.0h0M465.3 678.5h0M461.2 652.9h0M468.4 714.7h0M471.2 667.5h0M479.8 660.5h0M465.0 644.9h0M469.4 706.1h0M459.4 665.4h0M474.8 694.9h0M457.7 683.1h0M470.3 624.1h0M500.2 682.9h0M490.3 701.8h0M462.2 681.0h0M456.5 679.8h0M467.1 680.5h0M454.1 649.9h0M458.5 704.2h0M456.1 707.9h0M473.6 664.2h0M469.0 650.6h0M455.0 681.9h0M460.2 643.6h0M476.3 693.1h0M480.0 626.3h0M480.9 651.8h0M473.1 674.8h0M470.9 686.4h0M465.2 694.0h0M471.9 638.8h0M471.6 682.3h0M472.1 670.7h0M453.5 689.8h0M476.9 669.8h0M456.1 678.4h0M466.7 659.8h0M472.6 682.9h0M466.5 680.1h0M459.8 681.3h0M460.4 702.7h0M473.9 674.1h0M478.4 658.7h0M471.3 651.3h0M460.7 679.0h0M513.9 684.9h0M470.4 688.0h0M462.1 681.7h0M474.2 656.1h0M461.1 682.8h0M468.0 676.6h0M460.6 684.7h0M471.3 658.0h0M468.3 664.5h0M455.8 698.6h0M474.3 652.1h0M479.7 678.3h0M456.9 683.6h0M457.7 682.7h0M464.4 655.1h0M467.3 713.0h0M459.8 698.5h0M468.8 695.4h0M469.7 668.4h0M472.6 693.4h0M465.1 656.5h0M461.1 696.6h0M467.4 665.0h0M468.6 675.6h0M466.4 647.3h0M467.6 682.4h0M463.8 662.0h0M470.5 686.5h0M480.9 675.4h0M469.0 693.7h0M466.2 651.4h0M457.9 675.0h0M470.9 678.6h0M453.4 695.6h0M479.3 655.4h0M467.9 632.0h0M458.2 665.9h0M466.3 651.1h0M466.4 692.7h0M470.5 680.8h0M486.4 667.6h0M469.9 673.9h0M472.3 702.5h0M467.8 644.3h0M472.0 676.7h0M460.8 666.2h0M470.7 668.4h0M459.1 700.6h0M469.2 667.3h0M459.6 698.7h0M469.2 679.2h0M472.1 677.1h0M512.6 641.3h0M469.6 656.6h0M488.9 676.5h0M469.7 651.7h0M467.3 662.6h0M461.9 683.8h0M461.4 712.1h0M447.0 662.1h0M462.4 665.4h0M471.3 683.5h0M462.6 655.1h0M463.2 673.1h0M462.0 699.3h0M475.7 663.0h0M468.6 687.9h0M464.3 696.0h0M475.0 683.1h0M465.8 642.0h0M461.8 703.7h0M465.7 676.6h0M461.0 695.4h0M475.5 701.1h0M472.2 696.5h0M463.1 682.4h0M471.9 649.0h0M473.1 642.8h0M469.0 705.1h0M476.1 664.5h0M451.2 685.7h0M467.0 676.7h0M456.4 647.2h0M463.5 678.4h0M473.6 640.6h0M480.3 682.2h0M463.6 691.1h0M458.6 661.3h0M468.1 690.9h0M467.6 680.8h0M477.1 686.3h0M464.8 675.7h0M469.6 666.8h0M477.7 659.4h0M465.7 684.3h0M459.3 679.1h0M454.4 705.8h0M490.9 663.1h0M457.7 672.8h0M466.5 641.0h0M476.0 678.8h0M453.9 663.6h0M461.6 660.9h0M455.9 687.8h0M473.0 681.2h0M478.3 688.7h0M473.7 660.2h0M454.4 694.5h0M478.2 673.8h0M473.2 671.6h0M468.8 686.1h0M488.6 662.9h0M458.8 652.5h0M484.5 658.7h0M464.5 679.9h0M457.6 678.2h0M463.9 706.5h0M459.7 701.5h0M478.3 678.0h0M461.4 660.3h0M448.1 706.3h0M464.7 635.5h0M452.5 677.1h0M451.2 677.5h0M473.6 687.1h0M466.2 697.8h0M473.1 687.5h0M471.5 691.0h0M478.4 671.0h0M467.7 683.8h0M456.1 697.7h0M456.1 678.5h0M488.0 679.8h0M476.0 678.9h0M474.8 663.4h0M464.0 676.2h0M477.0 648.6h0M484.2 684.7h0M472.2 667.5h0M459.0 665.8h0M499.8 650.8h0M457.3 662.3h0M463.0 652.5h0M459.6 665.0h0M471.5 634.5h0M478.5 680.8h0M461.5 661.1h0M473.4 637.1h0M474.4 686.0h0M478.7 644.9h0M461.6 671.2h0M471.8 668.5h0M471.6 640.1h0M473.8 622.1h0M482.0 712.0h0M460.8 652.6h0M473.3 659.3h0M467.1 671.5h0M474.2 646.8h0M455.1 669.8h0M469.2 668.0h0M467.8 654.0h0M460.8 686.1h0M467.5 672.3h0M476.0 680.1h0M471.7 668.4h0M467.5 668.5h0M468.4 686.1h0M456.4 675.7h0M514.5 659.8h0M466.6 668.8h0M450.5 699.3h0M470.5 649.9h0M457.9 681.8h0M459.3 679.8h0M472.7 681.7h0M468.5 714.0h0M471.9 644.6h0M456.8 680.4h0M461.1 666.1h0M460.6 682.4h0M544.2 695.2h0M468.9 653.5h0M470.3 684.5h0M468.4 639.5h0M458.7 683.8h0M463.0 688.5h0M476.1 645.5h0M470.4 697.9h0M473.8 638.9h0M463.6 646.6h0M469.4 694.6h0M468.9 673.2h0M458.6 690.7h0M461.8 685.0h0M449.8 686.1h0M455.0 673.5h0M463.9 675.0h0M458.7 700.6h0M461.5 688.7h0M479.5 686.5h0M463.1 702.3h0M462.9 668.8h0M457.1 698.0h0M465.7 659.5h0M466.3 637.6h0M476.5 677.0h0M475.6 677.3h0M483.3 678.1h0M457.9 664.8h0M483.4 672.6h0M476.7 690.5h0M470.6 629.7h0M479.7 670.3h0M468.2 688.3h0M468.5 679.5h0M459.2 687.0h0M466.7 703.6h0M466.6 651.8h0M461.0 663.8h0M468.0 658.2h0M471.1 688.4h0M479.8 692.2h0M468.5 656.1h0M462.8 678.9h0M475.9 684.7h0M456.5 675.4h0M467.6 695.8h0M474.7 665.5h0M461.2 654.4h0M455.0 693.9h0M469.5 675.3h0M461.5 666.1h0M465.1 701.4h0M457.9 661.6h0M463.2 655.1h0M459.0 681.4h0M472.5 711.2h0M466.2 691.3h0M484.4 650.6h0M473.2 661.2h0M461.0 676.9h0M469.8 650.7h0M458.5 669.5h0M476.0 670.8h0M473.1 686.5h0M460.0 692.0h0M465.5 650.7h0M474.2 691.3h0M463.3 640.7h0M481.8 692.7h0M457.6 665.1h0M460.8 692.8h0M462.5 652.5h0" stroke="#5a9cf3" stroke-width="2.1" stroke-linecap="round" fill="none" stroke-opacity="0.72"/>
<path d="M471.4 693.8h0M464.9 634.0h0M467.3 630.3h0M466.6 680.5h0M474.0 679.9h0M482.6 660.0h0M463.8 681.3h0M454.4 662.1h0M470.0 665.2h0M469.8 682.1h0M472.1 674.0h0M466.4 675.7h0M454.1 633.5h0M460.2 661.8h0M475.2 663.9h0M469.8 649.7h0M458.1 653.2h0M461.4 662.6h0M474.3 711.2h0M470.7 656.0h0M463.4 684.2h0M457.2 677.0h0M461.4 692.1h0M470.5 720.5h0M460.0 667.3h0M481.4 670.5h0M467.9 662.3h0M476.1 670.3h0M457.7 666.6h0M475.6 629.9h0M465.2 681.3h0M454.3 682.2h0M472.5 668.6h0M472.8 649.3h0M471.0 686.9h0M469.4 675.1h0M469.6 669.6h0M460.1 698.4h0M487.8 677.1h0M460.5 693.5h0M472.7 713.5h0M457.8 679.3h0M466.6 629.3h0M471.9 672.6h0M460.8 663.4h0M450.3 671.0h0M470.7 658.3h0M455.6 674.1h0M469.9 677.2h0M471.4 686.2h0M460.0 664.2h0M469.6 656.3h0M458.4 680.1h0M472.1 632.3h0M470.8 675.6h0M461.2 669.8h0M468.3 682.9h0M498.1 698.7h0M466.7 653.1h0M475.2 684.0h0M458.0 651.4h0M469.4 675.2h0M459.3 658.3h0M478.0 669.2h0M472.5 681.1h0M464.2 684.5h0M470.9 676.0h0M471.4 657.3h0M462.1 670.8h0M464.3 653.4h0M481.8 648.8h0M466.5 666.9h0M468.3 657.2h0M469.9 668.5h0M458.1 674.9h0M472.2 656.1h0M463.2 668.9h0M480.0 674.6h0M456.8 684.8h0M463.1 710.3h0M472.2 701.3h0M469.5 680.2h0M469.2 665.2h0M469.5 670.4h0M470.0 657.8h0M480.0 635.9h0M460.5 672.8h0M469.6 657.4h0M479.8 682.8h0M461.8 677.2h0M465.8 652.4h0M479.9 682.3h0M461.0 702.3h0M470.2 664.8h0M470.8 681.4h0M452.0 687.5h0M460.1 679.8h0M467.0 644.6h0M476.0 686.3h0M472.3 676.7h0M462.1 680.7h0M465.3 650.9h0M470.7 696.3h0M468.8 687.8h0M477.8 672.9h0M475.1 704.7h0M466.0 655.7h0M480.0 660.8h0M464.5 652.1h0M471.4 672.9h0M468.3 643.7h0M474.3 665.0h0M463.3 641.9h0M510.4 632.0h0M474.0 672.2h0M512.2 678.7h0M463.9 705.0h0M463.0 640.0h0M467.4 717.9h0M460.3 682.3h0M464.5 697.2h0M474.6 680.9h0M462.5 668.2h0M483.4 658.9h0M473.7 669.4h0M469.0 660.5h0M464.3 675.7h0M477.1 691.3h0M474.3 719.0h0M480.0 683.4h0M464.6 692.2h0M464.7 635.6h0M454.1 687.6h0M473.4 668.6h0M462.0 687.9h0M472.6 655.4h0M469.2 660.7h0M471.8 682.1h0M458.7 694.7h0M473.8 702.5h0M472.4 647.7h0M463.0 666.1h0M462.1 679.3h0M457.7 660.7h0M468.1 685.9h0M477.9 677.7h0M470.8 651.5h0M466.7 650.3h0M479.5 678.6h0M470.9 658.2h0M462.9 667.6h0M460.1 651.2h0M467.7 629.6h0M462.2 667.1h0M474.5 666.7h0M470.0 629.4h0M474.3 627.8h0M584.6 662.5h0M455.7 723.0h0M470.6 683.0h0M478.7 672.5h0M477.5 658.3h0M467.4 720.5h0M477.6 652.0h0M470.7 671.2h0M476.6 682.8h0M464.8 649.2h0M473.5 622.1h0M473.3 661.0h0M468.5 700.0h0M466.0 699.2h0M469.2 648.1h0M471.9 678.9h0M457.3 674.6h0M477.1 665.1h0M475.4 651.3h0M464.3 663.6h0M470.8 658.5h0M465.1 666.3h0M458.2 689.1h0M486.2 681.7h0M466.3 669.5h0M456.6 700.9h0M472.0 652.9h0M456.7 668.1h0M476.4 655.4h0M469.9 662.7h0M463.2 636.8h0M463.9 679.6h0M474.0 670.3h0M465.1 690.8h0M472.1 686.4h0M464.3 675.8h0M472.9 680.3h0M476.8 668.4h0M471.6 679.0h0M468.1 662.3h0M470.9 663.2h0M469.4 661.4h0M467.0 672.1h0M460.7 657.8h0M466.2 718.7h0M462.4 640.3h0M475.1 695.9h0M460.4 635.1h0M457.8 700.7h0M476.3 676.5h0M461.5 658.2h0M477.0 645.7h0M475.0 709.8h0M475.9 670.4h0M472.9 648.2h0M457.9 712.8h0M463.7 672.7h0M472.7 665.8h0M483.5 668.8h0M472.6 659.4h0M458.8 654.4h0M486.0 689.5h0M471.3 660.8h0M467.0 674.7h0M465.0 664.2h0M488.7 682.7h0M467.2 699.3h0M474.0 682.0h0M461.7 654.0h0M492.5 702.0h0M473.7 646.8h0M467.4 689.2h0M465.4 693.9h0M460.2 684.3h0M461.1 682.5h0M463.6 659.9h0M471.4 651.1h0M452.3 672.2h0M476.8 664.8h0M462.1 690.6h0M461.6 663.7h0M467.4 632.2h0M458.1 645.0h0M466.7 637.4h0M468.4 645.6h0M465.3 648.9h0M472.0 687.8h0M470.6 662.3h0M459.6 661.4h0M468.5 655.1h0M461.1 657.9h0M467.4 690.6h0M451.9 677.5h0M460.4 684.6h0M461.7 655.8h0M463.3 665.6h0M467.9 684.0h0M470.7 698.9h0M476.5 657.9h0M472.1 671.4h0M476.5 671.8h0M470.7 636.5h0M459.0 673.8h0M460.5 659.2h0M475.8 668.4h0M456.8 672.6h0M465.7 656.2h0M458.4 662.2h0M467.9 702.7h0M464.3 663.6h0M456.3 663.2h0M478.4 650.6h0M464.7 658.7h0M470.2 663.7h0M469.4 668.0h0M473.9 664.1h0M469.3 651.4h0M466.2 657.9h0M491.9 697.9h0M475.2 672.0h0M471.9 709.0h0M473.0 658.4h0M468.2 644.4h0M475.6 682.7h0M470.4 683.8h0M458.7 652.4h0M470.9 690.3h0M473.6 683.0h0M457.1 700.0h0M481.3 674.0h0M479.6 685.1h0M473.4 664.8h0M463.4 647.4h0M463.8 694.0h0M469.2 687.7h0M463.3 632.3h0M472.0 687.0h0M465.7 696.3h0M465.7 677.8h0M461.3 669.8h0M459.8 680.9h0M468.4 646.1h0M458.2 682.6h0M472.3 679.5h0M471.3 662.9h0M469.3 700.0h0M453.1 671.6h0M468.8 658.6h0M456.1 680.7h0M471.6 656.3h0M466.8 667.4h0M468.0 644.3h0M471.9 680.2h0M475.5 688.6h0M466.7 682.7h0M464.0 648.8h0M481.8 662.6h0M459.6 669.2h0M456.8 686.5h0M484.0 684.9h0M466.6 675.5h0M472.4 687.0h0M480.3 700.3h0M460.1 683.7h0M461.7 690.2h0M466.9 681.5h0M454.0 669.9h0M476.3 665.2h0M470.6 693.5h0M472.7 674.6h0M465.2 689.5h0M458.4 681.8h0M468.3 693.5h0M461.9 682.2h0M469.4 704.6h0M471.9 691.1h0M462.7 667.6h0M464.5 655.5h0M482.7 674.2h0M471.7 626.8h0M473.4 630.5h0M471.0 643.6h0M475.1 682.6h0M512.9 656.6h0M463.3 646.6h0M470.0 650.2h0M464.0 691.7h0M456.3 642.9h0M472.5 695.3h0M457.0 699.5h0M455.7 660.8h0M470.6 652.3h0M466.6 681.8h0M471.3 686.7h0M464.7 625.0h0M459.2 689.8h0M461.9 669.3h0M464.5 689.7h0M461.8 641.6h0M465.8 670.0h0M473.7 715.3h0M475.1 647.0h0M475.0 661.7h0M468.5 644.0h0M453.0 671.0h0M457.6 670.4h0M464.8 681.4h0M467.0 640.1h0M472.3 666.3h0M462.4 699.7h0M474.5 668.7h0M458.1 633.0h0M467.5 675.7h0M459.1 685.0h0M463.9 664.4h0M485.1 652.8h0M463.2 653.4h0M477.9 666.0h0M489.2 675.3h0M471.9 662.7h0M477.8 643.7h0M478.3 689.4h0M475.8 675.9h0M478.1 691.9h0M469.4 623.5h0M470.1 694.1h0M469.0 662.6h0M468.8 671.1h0M471.6 667.3h0M460.8 672.3h0M461.6 633.3h0M462.5 671.1h0M484.0 660.3h0M463.6 686.2h0M474.7 667.0h0M474.7 694.4h0M456.0 708.6h0M473.8 638.1h0M455.0 646.4h0M469.2 692.6h0M473.0 679.3h0M468.6 675.9h0M463.5 639.5h0M463.7 647.2h0M482.3 718.3h0M472.7 675.4h0M457.5 635.0h0M468.7 676.9h0M465.7 721.0h0M470.3 655.5h0M465.8 694.7h0M477.0 650.4h0M456.7 697.6h0M463.5 685.1h0M457.4 652.8h0M459.5 672.8h0M456.9 651.4h0M478.2 639.0h0M483.5 667.1h0M466.9 649.2h0M480.7 669.6h0M467.8 686.4h0M474.4 659.0h0M468.7 668.2h0M465.1 656.1h0M472.6 675.8h0M459.0 655.7h0M462.6 669.2h0M464.8 684.8h0M466.1 634.2h0M458.6 670.0h0M484.4 714.3h0M462.7 669.7h0M468.8 654.5h0M463.5 626.8h0M469.9 653.5h0M472.1 687.9h0M460.7 695.7h0M468.4 695.5h0M476.1 653.7h0M470.4 679.0h0M463.0 661.7h0M457.9 683.4h0M461.3 652.7h0M489.4 671.9h0M463.3 705.9h0M463.2 651.4h0M460.2 647.2h0M459.2 662.0h0M456.8 675.0h0M510.5 659.1h0M478.2 694.0h0M476.0 671.8h0M470.8 663.3h0M479.6 700.9h0M475.8 658.2h0M473.0 683.4h0M481.3 649.6h0M510.8 708.4h0M471.0 674.6h0M467.7 644.4h0M464.7 637.9h0M469.9 692.7h0M460.9 669.6h0M460.8 677.3h0M473.6 669.3h0M470.2 678.3h0M468.3 660.8h0M454.7 668.4h0M464.7 701.2h0M473.7 656.5h0M460.3 650.5h0M462.4 661.3h0M478.1 698.2h0M467.4 663.6h0M454.9 683.5h0M474.7 661.6h0M474.3 684.1h0M462.5 648.3h0M470.8 632.7h0M453.1 649.2h0M474.2 662.9h0M469.1 696.2h0M454.3 683.1h0M459.9 686.0h0M465.1 665.4h0M460.7 722.1h0M465.1 662.6h0M472.3 673.9h0M474.9 711.6h0M479.8 687.0h0M468.3 642.4h0M460.6 706.7h0M458.5 654.8h0M471.6 624.5h0M465.3 686.4h0M465.6 651.4h0M470.9 620.9h0M466.8 665.8h0M463.2 689.3h0M472.9 682.7h0M466.2 660.2h0M468.7 667.2h0M458.4 706.9h0M474.2 657.1h0M466.6 697.9h0M471.3 633.4h0M466.0 686.5h0M461.0 694.6h0M462.4 654.1h0M459.8 668.5h0M468.7 645.6h0M471.4 682.5h0M483.6 679.6h0M457.2 658.1h0M483.7 691.2h0M458.7 677.0h0M466.6 640.8h0M466.2 673.8h0M468.8 700.5h0M469.5 673.0h0M481.8 677.2h0M458.8 679.2h0M468.3 662.8h0M478.3 655.3h0M463.2 646.0h0M463.0 678.1h0M472.0 661.8h0M477.5 692.4h0M466.2 679.5h0M461.0 672.2h0M470.3 682.4h0M469.9 682.9h0M475.1 652.6h0M472.6 665.4h0M465.9 660.1h0M469.6 720.3h0M479.7 713.7h0M482.0 664.4h0M476.8 658.4h0M467.9 659.1h0M461.6 639.9h0M460.8 675.1h0M461.3 678.5h0M472.2 684.6h0M465.8 661.2h0M469.6 630.1h0M470.3 627.6h0M474.5 692.7h0M475.9 656.2h0M469.1 677.0h0M469.7 655.0h0M467.6 694.0h0M462.2 644.5h0M455.5 674.5h0M468.5 617.0h0M473.3 636.5h0M469.9 674.8h0M480.5 652.7h0M470.2 622.6h0M475.6 660.2h0M467.5 672.6h0M467.2 678.1h0M474.5 674.8h0M461.0 641.3h0M455.4 679.0h0M465.6 676.2h0M455.1 688.0h0M473.0 667.6h0M467.2 680.3h0M463.0 696.3h0M461.1 660.1h0M466.6 709.0h0M462.1 635.0h0M459.5 674.2h0M467.4 685.9h0M470.9 655.9h0M466.0 641.4h0M466.0 691.6h0M475.1 649.2h0M473.3 696.3h0M486.2 670.1h0M470.6 698.3h0M473.7 679.0h0M470.0 658.8h0M468.1 675.6h0M474.7 695.3h0M472.6 690.8h0M466.9 648.4h0M473.9 666.5h0M481.3 678.7h0M480.1 646.7h0M454.9 688.5h0M465.7 699.9h0M482.1 649.8h0M457.9 702.4h0M483.3 699.7h0M463.1 682.5h0M462.5 640.5h0M460.4 655.5h0M469.3 650.1h0M464.1 656.9h0M479.0 684.9h0M472.4 687.0h0M481.8 666.5h0M472.9 657.8h0M471.4 700.4h0M470.7 650.3h0M470.8 683.2h0M462.2 687.5h0M462.6 667.6h0M460.2 689.6h0M467.9 664.9h0M467.2 671.4h0M472.0 685.1h0M479.6 684.8h0M461.8 656.6h0M472.7 677.6h0M471.3 694.3h0M467.6 654.5h0M470.4 655.9h0M473.9 665.1h0M471.3 719.9h0M466.3 649.6h0M454.9 663.5h0M453.1 682.2h0M456.5 695.1h0M477.8 713.0h0M469.9 653.8h0M483.1 653.9h0M477.4 704.0h0M473.7 661.7h0M480.9 654.7h0M460.7 692.2h0M485.2 696.6h0M470.4 687.1h0M462.5 658.8h0M470.3 633.7h0M462.7 655.4h0M471.6 666.1h0M467.6 683.0h0M469.8 678.4h0M468.6 673.9h0M471.5 697.9h0M472.2 665.1h0M469.3 681.7h0M480.5 695.5h0M466.4 717.2h0M480.7 659.4h0M466.9 701.9h0M458.8 694.6h0M474.7 706.6h0M473.1 657.9h0M468.6 678.0h0M460.8 678.6h0M470.2 682.2h0M469.7 722.0h0M460.7 665.8h0M472.3 657.0h0M483.1 662.1h0M459.9 682.8h0M464.2 664.1h0M468.1 698.7h0M466.8 672.2h0M467.9 646.5h0M464.1 654.4h0M474.2 658.5h0M485.5 661.9h0M468.0 654.6h0M475.3 703.6h0M464.9 678.6h0M478.4 681.4h0M451.3 691.2h0M474.7 661.1h0M459.3 656.4h0M487.5 645.5h0M465.7 697.4h0M474.6 671.5h0M468.2 653.4h0M464.6 687.7h0M470.6 661.3h0M461.1 659.6h0M471.8 665.2h0M461.3 683.6h0M466.6 647.8h0M478.5 659.1h0M472.0 670.5h0M464.0 631.9h0M463.2 675.2h0M464.3 640.9h0M458.2 668.1h0M468.7 696.9h0M448.4 692.7h0M467.8 689.9h0M484.4 646.6h0M465.5 672.4h0M455.4 691.4h0M453.6 672.7h0M471.8 699.0h0M458.1 658.3h0M471.9 669.8h0M471.4 680.5h0M470.7 671.7h0M457.1 639.0h0M464.0 669.2h0M480.8 658.2h0M456.5 690.3h0M454.3 636.9h0M474.8 690.6h0M469.0 683.6h0M472.4 656.2h0M466.2 705.7h0M470.8 651.6h0M483.1 673.4h0M463.3 681.0h0M482.6 687.1h0M480.9 677.4h0M468.9 630.4h0" stroke="#5a9cf3" stroke-width="2.1" stroke-linecap="round" fill="none" stroke-opacity="0.72"/>
<path d="M466.4 674.7h0M472.2 675.0h0M488.5 705.6h0M474.4 646.0h0M472.2 659.1h0M457.6 643.5h0M461.0 662.2h0M462.8 700.6h0M465.7 680.2h0M454.5 670.0h0M458.3 705.4h0M465.3 680.4h0M463.0 636.6h0M454.8 659.6h0M472.7 705.2h0M453.4 692.4h0M476.1 659.1h0M471.2 645.1h0M467.6 665.6h0M468.4 691.3h0M468.9 668.5h0M519.4 648.7h0M462.2 647.8h0M472.7 654.5h0M463.1 704.3h0M458.5 705.3h0M479.9 652.3h0M477.4 645.8h0M455.4 656.9h0M466.4 653.5h0M469.0 669.0h0M465.0 703.3h0M483.3 667.9h0M463.5 671.5h0M466.2 665.0h0M466.4 678.0h0M456.5 645.8h0M466.3 679.3h0M457.9 697.6h0M451.7 683.3h0M459.0 692.0h0M468.6 666.9h0M472.3 672.0h0M455.3 687.5h0M469.6 696.2h0M468.8 666.4h0M456.1 672.3h0M461.4 652.3h0M453.6 695.0h0M472.2 717.4h0M465.8 696.7h0M461.7 637.1h0M485.7 673.8h0M471.4 650.4h0M465.4 669.2h0M462.1 678.9h0M466.3 694.6h0M468.7 665.2h0M476.5 683.9h0M463.6 679.1h0M469.9 692.1h0M453.9 669.1h0M470.3 651.2h0M478.9 667.2h0M480.8 685.6h0M464.5 706.1h0M472.9 657.6h0M466.9 667.1h0M473.9 668.8h0M463.1 672.8h0M501.7 696.9h0M479.8 647.6h0M465.6 698.2h0M464.9 671.6h0M473.1 699.6h0M466.2 661.4h0M459.0 688.8h0M475.6 662.8h0M446.8 673.7h0M473.3 664.2h0M477.6 656.0h0M474.1 676.0h0M477.1 648.4h0M469.8 672.0h0M468.3 636.0h0M468.6 662.1h0M467.0 656.5h0M469.1 647.9h0M460.1 667.0h0M469.7 704.7h0M477.7 680.8h0M474.8 670.2h0M481.6 659.4h0M478.4 652.9h0M470.3 675.4h0M476.1 645.0h0M474.3 695.8h0M475.4 664.4h0M469.5 691.8h0M478.0 682.9h0M479.5 667.5h0M458.8 679.7h0M466.7 654.9h0M467.3 657.1h0M474.4 699.7h0M454.8 681.7h0M461.3 658.5h0M475.4 692.1h0M472.1 693.7h0M466.4 695.4h0M456.1 641.4h0M478.8 677.6h0M486.6 667.1h0M463.7 658.3h0M469.3 668.3h0M466.2 656.7h0M452.7 675.4h0M477.1 636.7h0M477.1 636.7h0M466.5 633.8h0M453.5 678.9h0M461.8 639.4h0M473.3 651.5h0M472.3 647.5h0M475.5 683.2h0M456.8 675.8h0M462.7 679.2h0M470.6 635.9h0M468.1 661.7h0M467.1 689.7h0M470.9 681.3h0M466.8 643.2h0M462.6 667.0h0M464.8 661.0h0M477.3 663.7h0M472.6 683.6h0M470.1 696.4h0M466.9 678.6h0M472.1 630.4h0M465.9 678.2h0M480.5 674.7h0M461.7 691.9h0M466.2 672.8h0M478.2 684.4h0M471.0 673.5h0M460.7 663.6h0M463.4 671.7h0M468.4 629.8h0M466.3 698.7h0M462.0 672.5h0M458.0 659.9h0M475.2 683.8h0M482.6 693.9h0M467.4 683.4h0M480.9 673.5h0M474.1 655.5h0M460.6 638.5h0M484.6 664.3h0M483.1 682.8h0M479.6 665.5h0M456.3 659.9h0M471.0 641.2h0M472.0 679.7h0M463.1 691.4h0M463.0 652.9h0M456.0 681.8h0M466.3 654.0h0M466.4 668.6h0M469.8 641.4h0M474.4 650.3h0M469.4 675.2h0M462.1 694.3h0M470.3 691.1h0M516.9 701.1h0M469.1 669.8h0M462.9 662.9h0M465.3 693.6h0M478.5 688.2h0M471.8 670.7h0M461.9 696.6h0M464.1 634.0h0M463.7 650.7h0M458.2 684.1h0M462.5 721.8h0M470.4 656.7h0M476.9 677.2h0M476.0 649.3h0M469.8 691.2h0M475.4 693.9h0M465.3 654.8h0M465.3 676.7h0M473.2 643.7h0M466.9 637.9h0M467.4 703.3h0M457.7 680.2h0M454.9 671.0h0M475.2 669.6h0M456.5 674.8h0M462.7 663.2h0M458.3 720.8h0M455.2 662.3h0M515.8 655.1h0M475.9 653.1h0M466.0 633.0h0M457.6 654.8h0M472.9 642.6h0M469.6 645.3h0M474.8 682.0h0M462.0 666.2h0M445.7 651.0h0M472.4 680.8h0M547.5 688.2h0M474.8 704.6h0M480.8 676.2h0M471.6 646.9h0M463.8 657.4h0M481.2 637.9h0M482.7 681.1h0M468.8 644.5h0M472.4 686.8h0M457.5 686.2h0M465.7 662.6h0M462.1 636.8h0M463.8 701.2h0M480.7 664.1h0M460.0 677.9h0M458.4 664.7h0M468.9 641.9h0M460.7 672.7h0M477.4 671.6h0M462.5 694.1h0M480.9 672.7h0M466.7 696.8h0M453.6 664.8h0M474.2 681.2h0M491.7 694.9h0M475.8 693.8h0M460.8 673.3h0M471.8 637.7h0M459.2 662.6h0M465.7 637.1h0M471.9 679.4h0M463.3 669.2h0M463.9 680.9h0M473.1 656.7h0M472.6 677.2h0M467.2 656.4h0M471.8 681.4h0M469.2 650.0h0M466.1 707.1h0M463.5 645.9h0M472.0 681.2h0M461.4 674.4h0M465.4 698.4h0M452.8 660.8h0M478.1 652.0h0M477.9 649.6h0M481.3 655.3h0M471.8 697.2h0M471.8 663.3h0M446.7 674.0h0M481.4 686.9h0M471.0 642.5h0M468.1 676.4h0M481.6 705.0h0M464.6 657.8h0M471.4 642.3h0M457.5 689.7h0M466.4 635.1h0M481.2 656.3h0M467.6 666.1h0M473.1 640.7h0M452.9 689.6h0M480.5 665.5h0M461.3 702.7h0M465.8 670.9h0M478.4 644.0h0M465.6 721.2h0M490.3 648.2h0M462.1 636.1h0M472.0 674.3h0M464.2 670.4h0M468.9 647.2h0M476.7 680.3h0M460.6 677.8h0M476.1 636.4h0M473.1 658.5h0M468.4 696.5h0M464.0 681.5h0M478.3 663.5h0M468.9 660.4h0M465.2 679.6h0M462.6 633.5h0M465.4 702.5h0M476.7 687.8h0M460.0 658.5h0M456.8 677.2h0M476.9 682.6h0M480.0 679.9h0M467.9 674.4h0M472.8 682.1h0M460.9 669.9h0M471.1 645.3h0M463.3 664.1h0M458.7 664.1h0M476.8 643.8h0M461.2 648.1h0M470.2 708.3h0M462.2 663.2h0M473.2 664.9h0M476.8 657.7h0M463.1 670.2h0M461.9 699.5h0M462.5 688.0h0M474.8 626.9h0M479.0 663.8h0M465.1 658.1h0M464.5 683.4h0M466.2 647.2h0M477.3 700.2h0M470.8 674.4h0M474.2 697.6h0M467.7 682.6h0M467.9 684.6h0M468.2 702.0h0M464.9 658.4h0M469.4 686.2h0M471.0 653.0h0M476.6 648.0h0M462.6 688.3h0M462.1 667.8h0M463.3 696.4h0M462.4 714.4h0M461.2 659.6h0M468.5 657.7h0M477.5 657.2h0M468.6 665.1h0M458.8 691.0h0M450.3 655.9h0M466.0 694.6h0M465.2 689.6h0M459.6 661.6h0M459.5 689.1h0M484.8 658.2h0M473.8 667.0h0M467.5 679.6h0M462.0 678.4h0M461.3 658.4h0M470.9 690.0h0M466.4 695.4h0M473.3 628.4h0M474.2 644.9h0M458.2 677.9h0M459.9 664.8h0M472.8 679.7h0M472.5 660.6h0M464.7 683.3h0M473.0 648.8h0M467.9 678.9h0M469.0 665.4h0M458.5 685.5h0M469.7 668.1h0M470.1 654.7h0M470.7 646.3h0M464.9 634.5h0M458.6 650.2h0M474.4 638.6h0M472.0 685.8h0M465.7 669.4h0M465.7 701.1h0M466.3 658.2h0M458.0 692.3h0M481.6 694.9h0M464.6 676.0h0M471.0 659.6h0M473.1 642.0h0M472.4 669.6h0M466.3 666.1h0M468.8 670.8h0M473.4 652.9h0M473.6 688.8h0M464.0 680.2h0M473.4 673.1h0M469.2 696.0h0M447.1 627.6h0M471.0 676.9h0M481.2 668.4h0M461.5 677.6h0M470.9 718.9h0M464.5 650.2h0M472.5 683.3h0M470.6 670.0h0M464.2 688.3h0M455.5 693.8h0M465.5 660.6h0M475.2 658.6h0M477.6 640.0h0M476.9 651.4h0M468.7 685.6h0M471.2 692.2h0M462.2 671.6h0M469.1 695.9h0M464.2 649.5h0M460.9 663.6h0M469.0 673.0h0M470.8 665.3h0M462.3 661.6h0M456.8 701.4h0M481.0 658.1h0M470.0 667.9h0M474.2 670.3h0M469.5 669.8h0M472.3 686.5h0M467.0 670.8h0M474.2 694.5h0M460.1 668.5h0M468.7 671.2h0M478.5 706.0h0M475.1 648.2h0M462.9 677.5h0M471.3 638.3h0M463.0 714.6h0M474.2 700.1h0M477.2 665.2h0M460.9 630.6h0M471.8 657.5h0M464.0 666.3h0M475.2 676.3h0M450.4 687.9h0M454.5 659.0h0M473.9 695.9h0M473.1 673.6h0M486.1 674.9h0M466.0 659.7h0M467.9 703.3h0M464.0 670.3h0M459.3 665.1h0M471.8 640.6h0M475.2 665.4h0M476.4 693.0h0M477.8 681.7h0M463.0 660.0h0M476.7 649.2h0M461.3 674.9h0M472.4 653.9h0M451.8 683.6h0M465.3 667.2h0M459.5 672.2h0M489.1 691.5h0M473.8 665.6h0M467.0 679.8h0M464.1 711.8h0M467.7 662.4h0M474.5 670.9h0M476.8 688.6h0M460.1 658.8h0M470.0 643.2h0M463.4 704.2h0M463.1 659.1h0M469.9 659.3h0M477.0 669.9h0M470.9 682.5h0M472.9 676.7h0M458.5 666.8h0M463.1 620.1h0M461.7 675.8h0M458.0 683.2h0M483.9 652.9h0M464.4 673.0h0M474.9 680.6h0M481.9 674.3h0M465.3 685.1h0M471.2 653.4h0M465.5 677.4h0M461.2 651.9h0M472.5 670.8h0M467.2 691.3h0M455.9 670.2h0M466.9 686.4h0M473.2 667.1h0M466.0 650.3h0M470.5 670.0h0M470.3 682.3h0M467.5 677.6h0M459.5 653.8h0M463.3 652.0h0M469.8 656.9h0M469.3 698.1h0M478.6 674.1h0M464.4 658.9h0M463.3 656.1h0M456.5 672.2h0M467.7 667.6h0M467.0 692.2h0M475.1 670.6h0M471.6 651.0h0M448.9 651.2h0M471.4 664.1h0M477.8 701.1h0M468.9 655.7h0M470.0 681.7h0M477.0 690.2h0M465.8 691.8h0M457.3 695.5h0M473.1 673.6h0M467.9 699.9h0M461.1 681.8h0M465.8 646.8h0M466.4 650.3h0M477.0 685.5h0M464.6 644.1h0M463.3 667.8h0M465.2 647.2h0M475.2 679.8h0M460.6 683.9h0M465.0 665.0h0M465.6 638.3h0M471.1 662.2h0M471.9 685.4h0M478.4 678.2h0M473.9 673.1h0M470.4 650.7h0M460.6 698.4h0M464.5 665.1h0M466.4 644.9h0M476.1 666.5h0M460.6 694.7h0M470.9 666.9h0M473.5 691.0h0M467.6 638.0h0M463.4 680.7h0M471.5 672.7h0M465.5 672.0h0M469.3 660.5h0M479.5 680.7h0M469.7 672.6h0M472.8 686.2h0M468.8 661.3h0M469.1 667.6h0M472.8 673.3h0M476.4 708.7h0M465.2 667.5h0M467.4 681.3h0M459.0 656.0h0M464.8 685.3h0M469.2 683.7h0M474.4 669.1h0M462.8 666.9h0M472.0 722.2h0M473.5 665.3h0M479.5 662.7h0M445.5 674.6h0M462.2 700.7h0M479.9 687.3h0M473.9 674.6h0M469.4 683.5h0M458.7 671.4h0M471.0 632.3h0M464.0 646.8h0M456.2 706.1h0M467.0 696.3h0M475.5 698.2h0M485.2 696.7h0M471.0 690.7h0M464.2 679.9h0M457.9 642.6h0M470.7 681.2h0M476.1 681.1h0M469.9 658.7h0M469.0 677.7h0M478.8 696.3h0M467.4 628.5h0M460.9 711.0h0M466.4 679.6h0M456.6 646.6h0M462.2 692.6h0M466.0 680.4h0M465.7 660.9h0M450.4 671.1h0M466.4 676.3h0M460.1 704.6h0M467.4 656.2h0M466.7 688.6h0M458.7 640.3h0M465.1 670.6h0M477.4 616.6h0M490.3 684.9h0M449.2 709.1h0M472.9 650.2h0M461.6 675.3h0M478.2 661.5h0M467.2 655.0h0M464.3 664.2h0M462.9 678.0h0M490.0 656.0h0M453.4 661.5h0M472.4 700.5h0M451.6 675.3h0M468.1 670.9h0M465.9 653.4h0M462.6 677.0h0M464.9 663.3h0M458.4 677.5h0M469.0 643.2h0M463.1 676.7h0M472.0 670.1h0M471.7 664.6h0M487.7 689.6h0M477.6 671.5h0M474.7 652.6h0M476.5 682.5h0M463.5 685.1h0M478.3 707.2h0M454.5 663.3h0M465.8 666.7h0M465.9 670.5h0M472.0 681.7h0M468.4 672.8h0M481.7 694.1h0M460.0 696.4h0M471.4 637.9h0M463.9 642.0h0M479.3 719.7h0M466.9 639.0h0M472.0 659.7h0M477.6 675.2h0M453.3 672.6h0M461.8 692.2h0M455.2 663.8h0M474.1 678.5h0M469.7 645.4h0M451.8 692.5h0M484.2 681.0h0M471.5 653.5h0M457.1 680.1h0M470.4 650.4h0M465.9 676.2h0M478.7 662.2h0M481.9 663.2h0M464.8 678.7h0M472.0 708.5h0M472.3 691.4h0M467.1 644.7h0M468.8 634.7h0M490.6 677.2h0M464.9 665.0h0M471.3 666.7h0M465.0 678.0h0M456.2 679.9h0M457.9 661.0h0M507.3 704.9h0M459.6 651.4h0M462.0 710.3h0M468.0 673.6h0M468.5 647.3h0M468.7 667.1h0M459.5 678.1h0M471.8 640.4h0M463.3 670.4h0M476.9 666.7h0M460.8 652.0h0M475.8 698.6h0M461.9 669.1h0M462.7 616.0h0M457.6 649.2h0M470.6 686.6h0M471.6 676.9h0M457.4 664.2h0M469.4 671.1h0M469.8 692.5h0M482.3 698.4h0M481.1 701.5h0M471.0 665.0h0M461.6 644.6h0M477.2 679.3h0M441.0 683.5h0M475.0 685.3h0M470.3 681.8h0M464.6 676.9h0M462.0 674.6h0M470.4 707.0h0M479.5 659.3h0M475.7 667.6h0M468.5 664.1h0M466.4 689.5h0M463.1 692.7h0M466.9 668.9h0M466.8 657.7h0M461.8 664.3h0M467.9 657.9h0M472.7 668.7h0M458.5 651.9h0M475.3 719.5h0M472.6 690.5h0M460.2 707.4h0M466.2 671.8h0M461.5 670.0h0M471.5 650.8h0M458.2 669.8h0M465.2 656.1h0M465.7 718.2h0M461.9 680.8h0M468.6 650.7h0M463.6 650.0h0M465.5 649.6h0M463.1 689.8h0M472.5 662.9h0M456.9 668.8h0M474.3 663.1h0M472.6 669.7h0M474.1 697.5h0M470.2 698.3h0M471.1 692.2h0M462.5 655.9h0M482.8 686.7h0" stroke="#5a9cf3" stroke-width="2.1" stroke-linecap="round" fill="none" stroke-opacity="0.72"/>
<circle cx="505.6" cy="626.6" r="2.1" fill="#9a0c0c"/>
<circle cx="510.0" cy="626.0" r="2.1" fill="#9a0c0c"/>
<circle cx="519.4" cy="627.4" r="2.1" fill="#9a0c0c"/>
<circle cx="549.2" cy="647.4" r="2.1" fill="#9a0c0c"/>
<circle cx="563.5" cy="646.4" r="2.1" fill="#9a0c0c"/>
<circle cx="528.8" cy="654.4" r="2.1" fill="#9a0c0c"/>
<circle cx="590.2" cy="635.4" r="2.1" fill="#9a0c0c"/>
<circle cx="575.0" cy="643.0" r="2.1" fill="#9a0c0c"/>
<circle cx="577.6" cy="646.4" r="2.1" fill="#9a0c0c"/>
<circle cx="579.0" cy="646.0" r="2.1" fill="#9a0c0c"/>
<text x="493.6" y="623.6" font-size="6.6" text-anchor="start" fill="#a82020" font-style="italic" textLength="10.4" lengthAdjust="spacingAndGlyphs">IL1A</text>
<text x="508.4" y="623.6" font-size="6.6" text-anchor="start" fill="#a82020" font-style="italic" textLength="10.6" lengthAdjust="spacingAndGlyphs">IL1B</text>
<text x="522.0" y="628.6" font-size="6.6" text-anchor="start" fill="#a82020" font-style="italic" textLength="14" lengthAdjust="spacingAndGlyphs">CSF2</text>
<text x="535.0" y="647.4" font-size="6.6" text-anchor="start" fill="#a82020" font-style="italic" textLength="10.6" lengthAdjust="spacingAndGlyphs">TNF</text>
<text x="548.0" y="644.4" font-size="6.6" text-anchor="start" fill="#a82020" font-style="italic" textLength="18.4" lengthAdjust="spacingAndGlyphs">CXCL3</text>
<text x="533.2" y="656.4" font-size="6.6" text-anchor="start" fill="#a82020" font-style="italic" textLength="7.8" lengthAdjust="spacingAndGlyphs">IL6</text>
<text x="588.0" y="632.6" font-size="6.6" text-anchor="start" fill="#a82020" font-style="italic" textLength="18.4" lengthAdjust="spacingAndGlyphs">CXCL8</text>
<text x="567.4" y="640.0" font-size="6.6" text-anchor="start" fill="#a82020" font-style="italic" textLength="18.6" lengthAdjust="spacingAndGlyphs">CXCL2</text>
<text x="582.0" y="648.4" font-size="6.6" text-anchor="start" fill="#a82020" font-style="italic" textLength="14.6" lengthAdjust="spacingAndGlyphs">CSF3</text>
<text x="566.0" y="654.4" font-size="6.6" text-anchor="start" fill="#a82020" font-style="italic" textLength="18" lengthAdjust="spacingAndGlyphs">CXCL1</text>
</svg></body></html>
